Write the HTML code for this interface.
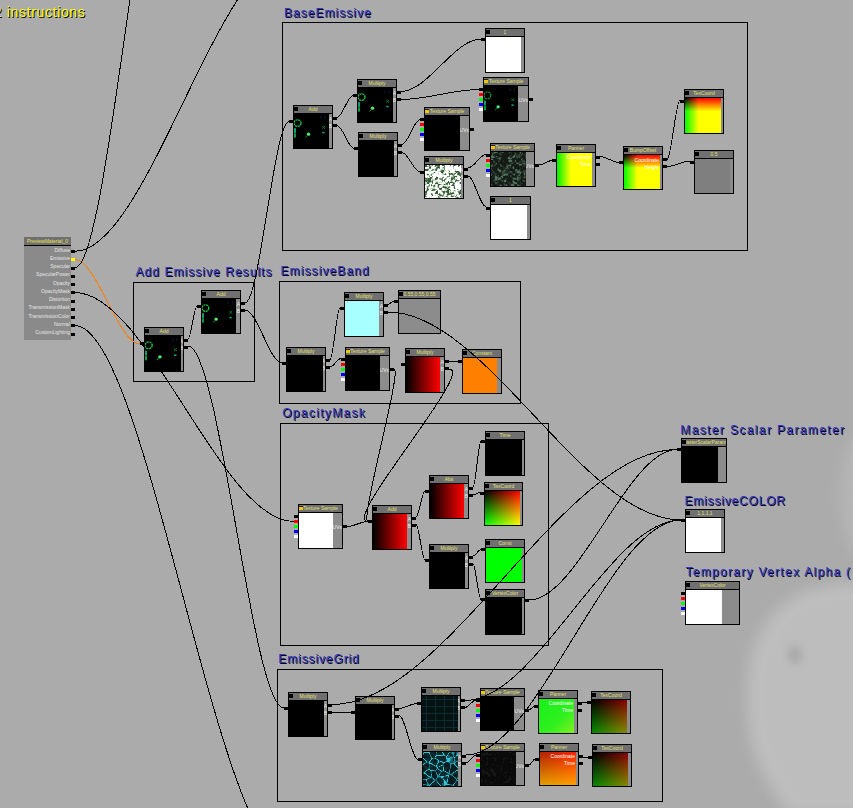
<!DOCTYPE html>
<html><head><meta charset="utf-8"><style>
html,body{margin:0;padding:0;}
#root{position:relative;width:853px;height:808px;overflow:hidden;background:#ababab;font-family:"Liberation Sans",sans-serif;}
.n{position:absolute;background:#000;}
.n .t{position:absolute;left:1px;top:1px;height:7px;background:#707070;overflow:hidden;}
.n .t .ic{position:absolute;left:0px;top:1px;width:4px;height:4px;background:#000;z-index:1;}
.n .t .ic.y{background:#f0c800;border-top:1px solid #222;height:3px;}
.n .t b{position:absolute;left:0;right:0;top:0;font-weight:normal;font-size:5px;line-height:7px;color:#e4e070;text-align:center;white-space:nowrap;}
.n .p{position:absolute;left:1px;top:9px;overflow:hidden;}
.n .s{position:absolute;top:9px;background:#8c8c8c;overflow:hidden;}
.n .s u{position:absolute;right:0;text-decoration:none;font-size:5px;line-height:6px;color:#f0f0f0;}
.n .p i.pl{position:absolute;right:1px;font-style:normal;font-size:5px;line-height:6px;color:#fff;white-space:nowrap;}
.c{position:absolute;width:4px;height:3px;background:#000;}
.cm{position:absolute;border:1px solid #000;}
.lb{position:absolute;font-size:12px;line-height:14px;color:#3535c8;text-shadow:1px 1px 0 #000;white-space:nowrap;}
.mn{position:absolute;background:#8a8a8a;}
.mt{position:absolute;left:0;top:0;width:47px;height:8px;background:#707070;border-bottom:1px solid #000;color:#e8e050;font-size:5px;line-height:8px;text-align:center;white-space:nowrap;overflow:hidden;}
.ml{position:absolute;right:1px;font-size:5px;line-height:6px;color:#e6e6e6;white-space:nowrap;}
.ins{position:absolute;left:-23px;top:3.5px;font-size:14px;line-height:16px;color:#ffff00;text-shadow:1px 1px 0 #000;letter-spacing:0.65px;word-spacing:0px;white-space:nowrap;}
svg.w{position:absolute;left:0;top:0;}
</style></head><body><div id="root">
<svg class="w" width="853" height="808" viewBox="0 0 853 808"><defs><filter id="bl" x="-50%" y="-50%" width="200%" height="200%"><feGaussianBlur stdDeviation="7"/></filter><filter id="bl2" x="-50%" y="-50%" width="200%" height="200%"><feGaussianBlur stdDeviation="4"/></filter></defs><path d="M870 582 C845 582 815 585 795 596 C772 610 756 632 750 660 C745 690 746 720 752 745 C758 770 772 792 790 815 L870 815 Z" fill="#c4c4c4" opacity="0.75" filter="url(#bl)"/><ellipse cx="795" cy="655" rx="7" ry="9" fill="#9a9a9a" opacity="0.6" filter="url(#bl2)"/><ellipse cx="872" cy="495" rx="32" ry="70" fill="#c0c0c0" opacity="0.5" filter="url(#bl)"/></svg>
<div class="cm" style="left:282px;top:22px;width:464px;height:227px"></div>
<div class="cm" style="left:133px;top:282px;width:120px;height:98px"></div>
<div class="cm" style="left:279px;top:281px;width:240px;height:121px"></div>
<div class="cm" style="left:280px;top:423px;width:267px;height:221px"></div>
<div class="cm" style="left:277px;top:669px;width:384px;height:131px"></div>
<div class="lb" style="left:284px;top:5.7px;letter-spacing:1.02px">BaseEmissive</div>
<div class="lb" style="left:135.5px;top:264.5px;letter-spacing:1.05px">Add Emissive Results</div>
<div class="lb" style="left:280.5px;top:264.0px;letter-spacing:1.1px">EmissiveBand</div>
<div class="lb" style="left:282.2px;top:405.9px;letter-spacing:1.33px">OpacityMask</div>
<div class="lb" style="left:680.3px;top:423.1px;letter-spacing:1.38px">Master Scalar Parameter</div>
<div class="lb" style="left:684.4px;top:494.0px;letter-spacing:0.83px">EmissiveCOLOR</div>
<div class="lb" style="left:685.4px;top:564.7px;letter-spacing:1.3px">Temporary Vertex Alpha (</div>
<div class="lb" style="left:278.3px;top:651.8px;letter-spacing:0.89px">EmissiveGrid</div>
<div class="n" style="left:293px;top:105px;width:40px;height:44px"><div class="t" style="width:38px"><i class="ic"></i><b>Add</b></div><div class="p" style="width:35px;height:34px"><svg width="35" height="34" viewBox="0 0 35 36" preserveAspectRatio="none" style="position:absolute;left:0;top:0"><rect width="35" height="36" fill="#000"/><g transform="translate(-1.2 0)"><circle cx="4.7" cy="9.6" r="3.5" fill="none" stroke="#20c848" stroke-width="1.3" stroke-dasharray="2.2 0.6"/><rect x="1.2" y="15" width="2" height="5" fill="#12a070"/><rect x="1.2" y="20.5" width="2" height="4.5" fill="#10a040"/><circle cx="15.7" cy="21.4" r="1.7" fill="#50f070"/><path d="M15 22.5 L12.6 24.8" stroke="#138a30" stroke-width="1"/><path d="M29.3 12.6 L32.3 15.6 M32.3 12.6 L29.3 15.6" stroke="#138a20" stroke-width="0.9"/><rect x="29.4" y="18.9" width="2.4" height="1.6" fill="#10a080"/><rect x="27.6" y="2.5" width="1.2" height="2.6" fill="#0b1b33"/><rect x="31.6" y="2.5" width="1.2" height="2.6" fill="#0b1b33"/></g></svg></div><div class="s" style="left:36px;width:3px;height:34px"><u style="top:1.5px">A</u><u style="top:8.5px">B</u></div></div>
<div class="c" style="left:289px;top:120px;background:#000"></div>
<div class="c" style="left:333px;top:117px"></div>
<div class="c" style="left:333px;top:124px"></div>
<div class="n" style="left:357px;top:79px;width:40px;height:44px"><div class="t" style="width:38px"><i class="ic"></i><b>Multiply</b></div><div class="p" style="width:35px;height:34px"><svg width="35" height="34" viewBox="0 0 35 36" preserveAspectRatio="none" style="position:absolute;left:0;top:0"><rect width="35" height="36" fill="#000"/><g transform="translate(-1.2 0)"><circle cx="4.7" cy="9.6" r="3.5" fill="none" stroke="#20c848" stroke-width="1.3" stroke-dasharray="2.2 0.6"/><rect x="1.2" y="15" width="2" height="5" fill="#12a070"/><rect x="1.2" y="20.5" width="2" height="4.5" fill="#10a040"/><circle cx="15.7" cy="21.4" r="1.7" fill="#50f070"/><path d="M15 22.5 L12.6 24.8" stroke="#138a30" stroke-width="1"/><path d="M29.3 12.6 L32.3 15.6 M32.3 12.6 L29.3 15.6" stroke="#138a20" stroke-width="0.9"/><rect x="29.4" y="18.9" width="2.4" height="1.6" fill="#10a080"/><rect x="27.6" y="2.5" width="1.2" height="2.6" fill="#0b1b33"/><rect x="31.6" y="2.5" width="1.2" height="2.6" fill="#0b1b33"/></g></svg></div><div class="s" style="left:36px;width:3px;height:34px"><u style="top:1.5px">A</u><u style="top:8.5px">B</u></div></div>
<div class="c" style="left:353px;top:94px;background:#000"></div>
<div class="c" style="left:397px;top:91px"></div>
<div class="c" style="left:397px;top:98px"></div>
<div class="n" style="left:358px;top:132px;width:40px;height:45px"><div class="t" style="width:38px"><i class="ic"></i><b>Multiply</b></div><div class="p" style="width:35px;height:35px;background:#000"></div><div class="s" style="left:36px;width:3px;height:35px"><u style="top:1.5px">A</u><u style="top:8.5px">B</u></div></div>
<div class="c" style="left:354px;top:147px;background:#000"></div>
<div class="c" style="left:398px;top:144px"></div>
<div class="c" style="left:398px;top:151px"></div>
<div class="n" style="left:485px;top:28px;width:40px;height:45px"><div class="t" style="width:38px"><i class="ic"></i><b>1</b></div><div class="p" style="width:35px;height:35px;background:#fff"></div><div class="s" style="left:36px;width:3px;height:35px"></div></div>
<div class="c" style="left:481px;top:38px;background:#000"></div>
<div class="n" style="left:483px;top:77px;width:46px;height:45px"><div class="t" style="width:44px"><i class="ic y"></i><b>Texture Sample</b></div><div class="p" style="width:34px;height:35px"><svg width="34" height="35" viewBox="0 0 35 36" preserveAspectRatio="none" style="position:absolute;left:0;top:0"><rect width="35" height="36" fill="#000"/><g transform="translate(-1.2 0)"><circle cx="4.7" cy="9.6" r="3.5" fill="none" stroke="#169030" stroke-width="1.3" stroke-dasharray="2.2 0.6"/><rect x="1.2" y="15" width="2" height="5" fill="#12a070"/><rect x="1.2" y="20.5" width="2" height="4.5" fill="#10a040"/><circle cx="15.7" cy="21.4" r="1.7" fill="#50f070"/><path d="M15 22.5 L12.6 24.8" stroke="#138a30" stroke-width="1"/><path d="M29.3 12.6 L32.3 15.6 M32.3 12.6 L29.3 15.6" stroke="#138a20" stroke-width="0.9"/><rect x="29.4" y="18.9" width="2.4" height="1.6" fill="#10a080"/><rect x="27.6" y="2.5" width="1.2" height="2.6" fill="#0b1b33"/><rect x="31.6" y="2.5" width="1.2" height="2.6" fill="#0b1b33"/></g></svg></div><div class="s" style="left:35px;width:10px;height:35px"><u style="top:10.5px">UVs</u></div></div>
<div class="c" style="left:479px;top:88px;background:#000"></div>
<div class="c" style="left:479px;top:93px;background:#f00"></div>
<div class="c" style="left:479px;top:98px;background:#0f0"></div>
<div class="c" style="left:479px;top:103px;background:#00f"></div>
<div class="c" style="left:479px;top:108px;background:#fff"></div>
<div class="c" style="left:529px;top:98px"></div>
<div class="n" style="left:424px;top:107px;width:46px;height:44px"><div class="t" style="width:44px"><i class="ic y"></i><b>Texture Sample</b></div><div class="p" style="width:35px;height:34px;background:#000"></div><div class="s" style="left:36px;width:9px;height:34px"><u style="top:10.5px">UVs</u></div></div>
<div class="c" style="left:420px;top:118px;background:#000"></div>
<div class="c" style="left:420px;top:123px;background:#f00"></div>
<div class="c" style="left:420px;top:128px;background:#0f0"></div>
<div class="c" style="left:420px;top:133px;background:#00f"></div>
<div class="c" style="left:420px;top:138px;background:#fff"></div>
<div class="c" style="left:470px;top:128px"></div>
<div class="n" style="left:424px;top:156px;width:40px;height:43px"><div class="t" style="width:38px"><i class="ic"></i><b>Multiply</b></div><div class="p" style="width:36px;height:33px;background:#000"><svg width="36" height="33" shape-rendering="crispEdges" style="position:absolute;left:0;top:0"><rect x="0" y="0" width="2" height="1" fill="#3a5a3a"/><rect x="2" y="0" width="1" height="1" fill="#ffffff"/><rect x="3" y="0" width="1" height="1" fill="#c0d8c0"/><rect x="4" y="0" width="1" height="1" fill="#3a5a3a"/><rect x="5" y="0" width="2" height="1" fill="#c0d8c0"/><rect x="7" y="0" width="1" height="1" fill="#6e906e"/><rect x="8" y="0" width="1" height="1" fill="#ffffff"/><rect x="9" y="0" width="1" height="1" fill="#c0d8c0"/><rect x="10" y="0" width="5" height="1" fill="#3a5a3a"/><rect x="15" y="0" width="2" height="1" fill="#ffffff"/><rect x="17" y="0" width="2" height="1" fill="#3a5a3a"/><rect x="19" y="0" width="1" height="1" fill="#6e906e"/><rect x="20" y="0" width="5" height="1" fill="#ffffff"/><rect x="25" y="0" width="1" height="1" fill="#6e906e"/><rect x="26" y="0" width="2" height="1" fill="#ffffff"/><rect x="28" y="0" width="1" height="1" fill="#6e906e"/><rect x="29" y="0" width="1" height="1" fill="#3a5a3a"/><rect x="30" y="0" width="1" height="1" fill="#6e906e"/><rect x="31" y="0" width="1" height="1" fill="#c0d8c0"/><rect x="32" y="0" width="1" height="1" fill="#ffffff"/><rect x="33" y="0" width="2" height="1" fill="#3a5a3a"/><rect x="35" y="0" width="1" height="1" fill="#ffffff"/><rect x="0" y="1" width="2" height="1" fill="#3a5a3a"/><rect x="2" y="1" width="1" height="1" fill="#6e906e"/><rect x="3" y="1" width="1" height="1" fill="#c0d8c0"/><rect x="4" y="1" width="2" height="1" fill="#6e906e"/><rect x="6" y="1" width="1" height="1" fill="#c0d8c0"/><rect x="7" y="1" width="2" height="1" fill="#ffffff"/><rect x="9" y="1" width="1" height="1" fill="#c0d8c0"/><rect x="10" y="1" width="1" height="1" fill="#6e906e"/><rect x="11" y="1" width="1" height="1" fill="#c0d8c0"/><rect x="12" y="1" width="1" height="1" fill="#6e906e"/><rect x="13" y="1" width="1" height="1" fill="#3a5a3a"/><rect x="14" y="1" width="1" height="1" fill="#6e906e"/><rect x="15" y="1" width="4" height="1" fill="#ffffff"/><rect x="19" y="1" width="1" height="1" fill="#6e906e"/><rect x="20" y="1" width="5" height="1" fill="#ffffff"/><rect x="25" y="1" width="1" height="1" fill="#c0d8c0"/><rect x="26" y="1" width="2" height="1" fill="#ffffff"/><rect x="28" y="1" width="1" height="1" fill="#6e906e"/><rect x="29" y="1" width="4" height="1" fill="#ffffff"/><rect x="33" y="1" width="1" height="1" fill="#6e906e"/><rect x="34" y="1" width="1" height="1" fill="#c0d8c0"/><rect x="35" y="1" width="1" height="1" fill="#ffffff"/><rect x="0" y="2" width="4" height="1" fill="#ffffff"/><rect x="4" y="2" width="2" height="1" fill="#3a5a3a"/><rect x="6" y="2" width="5" height="1" fill="#ffffff"/><rect x="11" y="2" width="1" height="1" fill="#6e906e"/><rect x="12" y="2" width="3" height="1" fill="#3a5a3a"/><rect x="15" y="2" width="2" height="1" fill="#ffffff"/><rect x="17" y="2" width="1" height="1" fill="#c0d8c0"/><rect x="18" y="2" width="2" height="1" fill="#6e906e"/><rect x="20" y="2" width="8" height="1" fill="#ffffff"/><rect x="28" y="2" width="1" height="1" fill="#c0d8c0"/><rect x="29" y="2" width="7" height="1" fill="#ffffff"/><rect x="0" y="3" width="2" height="1" fill="#ffffff"/><rect x="2" y="3" width="2" height="1" fill="#c0d8c0"/><rect x="4" y="3" width="2" height="1" fill="#6e906e"/><rect x="6" y="3" width="4" height="1" fill="#ffffff"/><rect x="10" y="3" width="1" height="1" fill="#c0d8c0"/><rect x="11" y="3" width="1" height="1" fill="#3a5a3a"/><rect x="12" y="3" width="1" height="1" fill="#6e906e"/><rect x="13" y="3" width="1" height="1" fill="#c0d8c0"/><rect x="14" y="3" width="1" height="1" fill="#6e906e"/><rect x="15" y="3" width="2" height="1" fill="#ffffff"/><rect x="17" y="3" width="2" height="1" fill="#c0d8c0"/><rect x="19" y="3" width="1" height="1" fill="#6e906e"/><rect x="20" y="3" width="8" height="1" fill="#ffffff"/><rect x="28" y="3" width="1" height="1" fill="#c0d8c0"/><rect x="29" y="3" width="7" height="1" fill="#ffffff"/><rect x="0" y="4" width="3" height="1" fill="#3a5a3a"/><rect x="3" y="4" width="1" height="1" fill="#6e906e"/><rect x="4" y="4" width="3" height="1" fill="#ffffff"/><rect x="7" y="4" width="2" height="1" fill="#6e906e"/><rect x="9" y="4" width="1" height="1" fill="#c0d8c0"/><rect x="10" y="4" width="1" height="1" fill="#6e906e"/><rect x="11" y="4" width="1" height="1" fill="#3a5a3a"/><rect x="12" y="4" width="1" height="1" fill="#c0d8c0"/><rect x="13" y="4" width="2" height="1" fill="#ffffff"/><rect x="15" y="4" width="4" height="1" fill="#c0d8c0"/><rect x="19" y="4" width="1" height="1" fill="#6e906e"/><rect x="20" y="4" width="10" height="1" fill="#ffffff"/><rect x="30" y="4" width="1" height="1" fill="#c0d8c0"/><rect x="31" y="4" width="5" height="1" fill="#ffffff"/><rect x="0" y="5" width="3" height="1" fill="#3a5a3a"/><rect x="3" y="5" width="1" height="1" fill="#c0d8c0"/><rect x="4" y="5" width="2" height="1" fill="#ffffff"/><rect x="6" y="5" width="2" height="1" fill="#6e906e"/><rect x="8" y="5" width="2" height="1" fill="#c0d8c0"/><rect x="10" y="5" width="1" height="1" fill="#6e906e"/><rect x="11" y="5" width="1" height="1" fill="#3a5a3a"/><rect x="12" y="5" width="3" height="1" fill="#ffffff"/><rect x="15" y="5" width="1" height="1" fill="#c0d8c0"/><rect x="16" y="5" width="1" height="1" fill="#6e906e"/><rect x="17" y="5" width="2" height="1" fill="#3a5a3a"/><rect x="19" y="5" width="2" height="1" fill="#c0d8c0"/><rect x="21" y="5" width="2" height="1" fill="#ffffff"/><rect x="23" y="5" width="2" height="1" fill="#c0d8c0"/><rect x="25" y="5" width="5" height="1" fill="#ffffff"/><rect x="30" y="5" width="1" height="1" fill="#c0d8c0"/><rect x="31" y="5" width="5" height="1" fill="#ffffff"/><rect x="0" y="6" width="4" height="1" fill="#ffffff"/><rect x="4" y="6" width="2" height="1" fill="#c0d8c0"/><rect x="6" y="6" width="7" height="1" fill="#ffffff"/><rect x="13" y="6" width="2" height="1" fill="#c0d8c0"/><rect x="15" y="6" width="1" height="1" fill="#6e906e"/><rect x="16" y="6" width="3" height="1" fill="#3a5a3a"/><rect x="19" y="6" width="1" height="1" fill="#c0d8c0"/><rect x="20" y="6" width="4" height="1" fill="#ffffff"/><rect x="24" y="6" width="1" height="1" fill="#6e906e"/><rect x="25" y="6" width="4" height="1" fill="#ffffff"/><rect x="29" y="6" width="1" height="1" fill="#c0d8c0"/><rect x="30" y="6" width="4" height="1" fill="#3a5a3a"/><rect x="34" y="6" width="1" height="1" fill="#c0d8c0"/><rect x="35" y="6" width="1" height="1" fill="#ffffff"/><rect x="0" y="7" width="8" height="1" fill="#ffffff"/><rect x="8" y="7" width="1" height="1" fill="#c0d8c0"/><rect x="9" y="7" width="1" height="1" fill="#3a5a3a"/><rect x="10" y="7" width="1" height="1" fill="#c0d8c0"/><rect x="11" y="7" width="5" height="1" fill="#ffffff"/><rect x="16" y="7" width="2" height="1" fill="#3a5a3a"/><rect x="18" y="7" width="1" height="1" fill="#c0d8c0"/><rect x="19" y="7" width="4" height="1" fill="#ffffff"/><rect x="23" y="7" width="2" height="1" fill="#c0d8c0"/><rect x="25" y="7" width="5" height="1" fill="#ffffff"/><rect x="30" y="7" width="1" height="1" fill="#c0d8c0"/><rect x="31" y="7" width="1" height="1" fill="#3a5a3a"/><rect x="32" y="7" width="1" height="1" fill="#6e906e"/><rect x="33" y="7" width="2" height="1" fill="#3a5a3a"/><rect x="35" y="7" width="1" height="1" fill="#c0d8c0"/><rect x="0" y="8" width="2" height="1" fill="#ffffff"/><rect x="2" y="8" width="1" height="1" fill="#c0d8c0"/><rect x="3" y="8" width="3" height="1" fill="#ffffff"/><rect x="6" y="8" width="3" height="1" fill="#c0d8c0"/><rect x="9" y="8" width="4" height="1" fill="#ffffff"/><rect x="13" y="8" width="1" height="1" fill="#c0d8c0"/><rect x="14" y="8" width="3" height="1" fill="#ffffff"/><rect x="17" y="8" width="1" height="1" fill="#6e906e"/><rect x="18" y="8" width="1" height="1" fill="#c0d8c0"/><rect x="19" y="8" width="1" height="1" fill="#ffffff"/><rect x="20" y="8" width="1" height="1" fill="#6e906e"/><rect x="21" y="8" width="2" height="1" fill="#ffffff"/><rect x="23" y="8" width="1" height="1" fill="#c0d8c0"/><rect x="24" y="8" width="1" height="1" fill="#3a5a3a"/><rect x="25" y="8" width="1" height="1" fill="#6e906e"/><rect x="26" y="8" width="1" height="1" fill="#3a5a3a"/><rect x="27" y="8" width="1" height="1" fill="#6e906e"/><rect x="28" y="8" width="1" height="1" fill="#c0d8c0"/><rect x="29" y="8" width="1" height="1" fill="#6e906e"/><rect x="30" y="8" width="1" height="1" fill="#3a5a3a"/><rect x="31" y="8" width="1" height="1" fill="#ffffff"/><rect x="32" y="8" width="1" height="1" fill="#6e906e"/><rect x="33" y="8" width="2" height="1" fill="#3a5a3a"/><rect x="35" y="8" width="1" height="1" fill="#6e906e"/><rect x="0" y="9" width="1" height="1" fill="#ffffff"/><rect x="1" y="9" width="1" height="1" fill="#c0d8c0"/><rect x="2" y="9" width="1" height="1" fill="#3a5a3a"/><rect x="3" y="9" width="1" height="1" fill="#6e906e"/><rect x="4" y="9" width="1" height="1" fill="#ffffff"/><rect x="5" y="9" width="1" height="1" fill="#c0d8c0"/><rect x="6" y="9" width="1" height="1" fill="#6e906e"/><rect x="7" y="9" width="1" height="1" fill="#c0d8c0"/><rect x="8" y="9" width="5" height="1" fill="#ffffff"/><rect x="13" y="9" width="1" height="1" fill="#c0d8c0"/><rect x="14" y="9" width="3" height="1" fill="#ffffff"/><rect x="17" y="9" width="2" height="1" fill="#c0d8c0"/><rect x="19" y="9" width="1" height="1" fill="#6e906e"/><rect x="20" y="9" width="1" height="1" fill="#3a5a3a"/><rect x="21" y="9" width="1" height="1" fill="#c0d8c0"/><rect x="22" y="9" width="2" height="1" fill="#ffffff"/><rect x="24" y="9" width="1" height="1" fill="#3a5a3a"/><rect x="25" y="9" width="2" height="1" fill="#6e906e"/><rect x="27" y="9" width="1" height="1" fill="#3a5a3a"/><rect x="28" y="9" width="2" height="1" fill="#6e906e"/><rect x="30" y="9" width="2" height="1" fill="#ffffff"/><rect x="32" y="9" width="1" height="1" fill="#6e906e"/><rect x="33" y="9" width="3" height="1" fill="#3a5a3a"/><rect x="0" y="10" width="2" height="1" fill="#ffffff"/><rect x="2" y="10" width="4" height="1" fill="#c0d8c0"/><rect x="6" y="10" width="1" height="1" fill="#6e906e"/><rect x="7" y="10" width="17" height="1" fill="#ffffff"/><rect x="24" y="10" width="1" height="1" fill="#6e906e"/><rect x="25" y="10" width="2" height="1" fill="#ffffff"/><rect x="27" y="10" width="1" height="1" fill="#c0d8c0"/><rect x="28" y="10" width="1" height="1" fill="#6e906e"/><rect x="29" y="10" width="1" height="1" fill="#c0d8c0"/><rect x="30" y="10" width="2" height="1" fill="#ffffff"/><rect x="32" y="10" width="2" height="1" fill="#c0d8c0"/><rect x="34" y="10" width="1" height="1" fill="#6e906e"/><rect x="35" y="10" width="1" height="1" fill="#3a5a3a"/><rect x="0" y="11" width="4" height="1" fill="#ffffff"/><rect x="4" y="11" width="1" height="1" fill="#6e906e"/><rect x="5" y="11" width="2" height="1" fill="#ffffff"/><rect x="7" y="11" width="1" height="1" fill="#6e906e"/><rect x="8" y="11" width="3" height="1" fill="#ffffff"/><rect x="11" y="11" width="1" height="1" fill="#c0d8c0"/><rect x="12" y="11" width="6" height="1" fill="#ffffff"/><rect x="18" y="11" width="1" height="1" fill="#c0d8c0"/><rect x="19" y="11" width="3" height="1" fill="#ffffff"/><rect x="22" y="11" width="3" height="1" fill="#6e906e"/><rect x="25" y="11" width="1" height="1" fill="#ffffff"/><rect x="26" y="11" width="2" height="1" fill="#c0d8c0"/><rect x="28" y="11" width="1" height="1" fill="#6e906e"/><rect x="29" y="11" width="3" height="1" fill="#3a5a3a"/><rect x="32" y="11" width="3" height="1" fill="#ffffff"/><rect x="35" y="11" width="1" height="1" fill="#6e906e"/><rect x="0" y="12" width="1" height="1" fill="#c0d8c0"/><rect x="1" y="12" width="1" height="1" fill="#ffffff"/><rect x="2" y="12" width="1" height="1" fill="#c0d8c0"/><rect x="3" y="12" width="1" height="1" fill="#ffffff"/><rect x="4" y="12" width="1" height="1" fill="#c0d8c0"/><rect x="5" y="12" width="2" height="1" fill="#3a5a3a"/><rect x="7" y="12" width="1" height="1" fill="#c0d8c0"/><rect x="8" y="12" width="3" height="1" fill="#ffffff"/><rect x="11" y="12" width="2" height="1" fill="#3a5a3a"/><rect x="13" y="12" width="4" height="1" fill="#ffffff"/><rect x="17" y="12" width="2" height="1" fill="#6e906e"/><rect x="19" y="12" width="2" height="1" fill="#ffffff"/><rect x="21" y="12" width="2" height="1" fill="#c0d8c0"/><rect x="23" y="12" width="3" height="1" fill="#ffffff"/><rect x="26" y="12" width="3" height="1" fill="#6e906e"/><rect x="29" y="12" width="1" height="1" fill="#3a5a3a"/><rect x="30" y="12" width="1" height="1" fill="#ffffff"/><rect x="31" y="12" width="1" height="1" fill="#c0d8c0"/><rect x="32" y="12" width="4" height="1" fill="#ffffff"/><rect x="0" y="13" width="2" height="1" fill="#3a5a3a"/><rect x="2" y="13" width="1" height="1" fill="#6e906e"/><rect x="3" y="13" width="3" height="1" fill="#3a5a3a"/><rect x="6" y="13" width="1" height="1" fill="#6e906e"/><rect x="7" y="13" width="1" height="1" fill="#c0d8c0"/><rect x="8" y="13" width="2" height="1" fill="#ffffff"/><rect x="10" y="13" width="3" height="1" fill="#3a5a3a"/><rect x="13" y="13" width="1" height="1" fill="#ffffff"/><rect x="14" y="13" width="4" height="1" fill="#6e906e"/><rect x="18" y="13" width="2" height="1" fill="#ffffff"/><rect x="20" y="13" width="1" height="1" fill="#6e906e"/><rect x="21" y="13" width="1" height="1" fill="#c0d8c0"/><rect x="22" y="13" width="2" height="1" fill="#ffffff"/><rect x="24" y="13" width="1" height="1" fill="#c0d8c0"/><rect x="25" y="13" width="1" height="1" fill="#ffffff"/><rect x="26" y="13" width="3" height="1" fill="#3a5a3a"/><rect x="29" y="13" width="1" height="1" fill="#6e906e"/><rect x="30" y="13" width="1" height="1" fill="#c0d8c0"/><rect x="31" y="13" width="4" height="1" fill="#ffffff"/><rect x="35" y="13" width="1" height="1" fill="#3a5a3a"/><rect x="0" y="14" width="3" height="1" fill="#6e906e"/><rect x="3" y="14" width="3" height="1" fill="#3a5a3a"/><rect x="6" y="14" width="1" height="1" fill="#ffffff"/><rect x="7" y="14" width="3" height="1" fill="#c0d8c0"/><rect x="10" y="14" width="1" height="1" fill="#3a5a3a"/><rect x="11" y="14" width="1" height="1" fill="#6e906e"/><rect x="12" y="14" width="1" height="1" fill="#c0d8c0"/><rect x="13" y="14" width="1" height="1" fill="#ffffff"/><rect x="14" y="14" width="1" height="1" fill="#c0d8c0"/><rect x="15" y="14" width="3" height="1" fill="#6e906e"/><rect x="18" y="14" width="1" height="1" fill="#ffffff"/><rect x="19" y="14" width="2" height="1" fill="#6e906e"/><rect x="21" y="14" width="1" height="1" fill="#c0d8c0"/><rect x="22" y="14" width="4" height="1" fill="#ffffff"/><rect x="26" y="14" width="2" height="1" fill="#3a5a3a"/><rect x="28" y="14" width="1" height="1" fill="#c0d8c0"/><rect x="29" y="14" width="1" height="1" fill="#6e906e"/><rect x="30" y="14" width="1" height="1" fill="#c0d8c0"/><rect x="31" y="14" width="1" height="1" fill="#6e906e"/><rect x="32" y="14" width="3" height="1" fill="#ffffff"/><rect x="35" y="14" width="1" height="1" fill="#6e906e"/><rect x="0" y="15" width="6" height="1" fill="#3a5a3a"/><rect x="6" y="15" width="1" height="1" fill="#c0d8c0"/><rect x="7" y="15" width="1" height="1" fill="#6e906e"/><rect x="8" y="15" width="3" height="1" fill="#c0d8c0"/><rect x="11" y="15" width="5" height="1" fill="#ffffff"/><rect x="16" y="15" width="1" height="1" fill="#c0d8c0"/><rect x="17" y="15" width="1" height="1" fill="#3a5a3a"/><rect x="18" y="15" width="1" height="1" fill="#6e906e"/><rect x="19" y="15" width="1" height="1" fill="#3a5a3a"/><rect x="20" y="15" width="5" height="1" fill="#ffffff"/><rect x="25" y="15" width="1" height="1" fill="#c0d8c0"/><rect x="26" y="15" width="1" height="1" fill="#6e906e"/><rect x="27" y="15" width="1" height="1" fill="#c0d8c0"/><rect x="28" y="15" width="2" height="1" fill="#ffffff"/><rect x="30" y="15" width="1" height="1" fill="#6e906e"/><rect x="31" y="15" width="2" height="1" fill="#3a5a3a"/><rect x="33" y="15" width="1" height="1" fill="#6e906e"/><rect x="34" y="15" width="1" height="1" fill="#c0d8c0"/><rect x="35" y="15" width="1" height="1" fill="#ffffff"/><rect x="0" y="16" width="1" height="1" fill="#6e906e"/><rect x="1" y="16" width="1" height="1" fill="#3a5a3a"/><rect x="2" y="16" width="1" height="1" fill="#6e906e"/><rect x="3" y="16" width="3" height="1" fill="#3a5a3a"/><rect x="6" y="16" width="1" height="1" fill="#6e906e"/><rect x="7" y="16" width="1" height="1" fill="#3a5a3a"/><rect x="8" y="16" width="3" height="1" fill="#ffffff"/><rect x="11" y="16" width="2" height="1" fill="#c0d8c0"/><rect x="13" y="16" width="4" height="1" fill="#ffffff"/><rect x="17" y="16" width="1" height="1" fill="#6e906e"/><rect x="18" y="16" width="1" height="1" fill="#ffffff"/><rect x="19" y="16" width="1" height="1" fill="#6e906e"/><rect x="20" y="16" width="3" height="1" fill="#ffffff"/><rect x="23" y="16" width="1" height="1" fill="#3a5a3a"/><rect x="24" y="16" width="1" height="1" fill="#ffffff"/><rect x="25" y="16" width="1" height="1" fill="#c0d8c0"/><rect x="26" y="16" width="1" height="1" fill="#6e906e"/><rect x="27" y="16" width="1" height="1" fill="#c0d8c0"/><rect x="28" y="16" width="2" height="1" fill="#ffffff"/><rect x="30" y="16" width="1" height="1" fill="#3a5a3a"/><rect x="31" y="16" width="3" height="1" fill="#c0d8c0"/><rect x="34" y="16" width="2" height="1" fill="#ffffff"/><rect x="0" y="17" width="2" height="1" fill="#c0d8c0"/><rect x="2" y="17" width="2" height="1" fill="#3a5a3a"/><rect x="4" y="17" width="1" height="1" fill="#6e906e"/><rect x="5" y="17" width="2" height="1" fill="#c0d8c0"/><rect x="7" y="17" width="1" height="1" fill="#3a5a3a"/><rect x="8" y="17" width="2" height="1" fill="#ffffff"/><rect x="10" y="17" width="1" height="1" fill="#c0d8c0"/><rect x="11" y="17" width="2" height="1" fill="#6e906e"/><rect x="13" y="17" width="4" height="1" fill="#c0d8c0"/><rect x="17" y="17" width="3" height="1" fill="#ffffff"/><rect x="20" y="17" width="2" height="1" fill="#c0d8c0"/><rect x="22" y="17" width="1" height="1" fill="#6e906e"/><rect x="23" y="17" width="1" height="1" fill="#3a5a3a"/><rect x="24" y="17" width="1" height="1" fill="#6e906e"/><rect x="25" y="17" width="3" height="1" fill="#3a5a3a"/><rect x="28" y="17" width="1" height="1" fill="#6e906e"/><rect x="29" y="17" width="2" height="1" fill="#c0d8c0"/><rect x="31" y="17" width="3" height="1" fill="#ffffff"/><rect x="34" y="17" width="1" height="1" fill="#c0d8c0"/><rect x="35" y="17" width="1" height="1" fill="#3a5a3a"/><rect x="0" y="18" width="2" height="1" fill="#c0d8c0"/><rect x="2" y="18" width="2" height="1" fill="#3a5a3a"/><rect x="4" y="18" width="1" height="1" fill="#c0d8c0"/><rect x="5" y="18" width="2" height="1" fill="#ffffff"/><rect x="7" y="18" width="1" height="1" fill="#6e906e"/><rect x="8" y="18" width="2" height="1" fill="#ffffff"/><rect x="10" y="18" width="3" height="1" fill="#3a5a3a"/><rect x="13" y="18" width="1" height="1" fill="#c0d8c0"/><rect x="14" y="18" width="6" height="1" fill="#ffffff"/><rect x="20" y="18" width="1" height="1" fill="#c0d8c0"/><rect x="21" y="18" width="2" height="1" fill="#3a5a3a"/><rect x="23" y="18" width="1" height="1" fill="#c0d8c0"/><rect x="24" y="18" width="1" height="1" fill="#3a5a3a"/><rect x="25" y="18" width="2" height="1" fill="#ffffff"/><rect x="27" y="18" width="1" height="1" fill="#c0d8c0"/><rect x="28" y="18" width="1" height="1" fill="#3a5a3a"/><rect x="29" y="18" width="1" height="1" fill="#6e906e"/><rect x="30" y="18" width="4" height="1" fill="#ffffff"/><rect x="34" y="18" width="1" height="1" fill="#c0d8c0"/><rect x="35" y="18" width="1" height="1" fill="#3a5a3a"/><rect x="0" y="19" width="1" height="1" fill="#6e906e"/><rect x="1" y="19" width="3" height="1" fill="#ffffff"/><rect x="4" y="19" width="1" height="1" fill="#6e906e"/><rect x="5" y="19" width="1" height="1" fill="#ffffff"/><rect x="6" y="19" width="1" height="1" fill="#6e906e"/><rect x="7" y="19" width="2" height="1" fill="#ffffff"/><rect x="9" y="19" width="2" height="1" fill="#c0d8c0"/><rect x="11" y="19" width="1" height="1" fill="#ffffff"/><rect x="12" y="19" width="1" height="1" fill="#c0d8c0"/><rect x="13" y="19" width="2" height="1" fill="#3a5a3a"/><rect x="15" y="19" width="1" height="1" fill="#6e906e"/><rect x="16" y="19" width="3" height="1" fill="#c0d8c0"/><rect x="19" y="19" width="1" height="1" fill="#3a5a3a"/><rect x="20" y="19" width="3" height="1" fill="#6e906e"/><rect x="23" y="19" width="1" height="1" fill="#ffffff"/><rect x="24" y="19" width="1" height="1" fill="#6e906e"/><rect x="25" y="19" width="2" height="1" fill="#ffffff"/><rect x="27" y="19" width="1" height="1" fill="#6e906e"/><rect x="28" y="19" width="1" height="1" fill="#3a5a3a"/><rect x="29" y="19" width="1" height="1" fill="#c0d8c0"/><rect x="30" y="19" width="6" height="1" fill="#ffffff"/><rect x="0" y="20" width="3" height="1" fill="#ffffff"/><rect x="3" y="20" width="1" height="1" fill="#c0d8c0"/><rect x="4" y="20" width="1" height="1" fill="#6e906e"/><rect x="5" y="20" width="1" height="1" fill="#ffffff"/><rect x="6" y="20" width="1" height="1" fill="#3a5a3a"/><rect x="7" y="20" width="1" height="1" fill="#c0d8c0"/><rect x="8" y="20" width="1" height="1" fill="#6e906e"/><rect x="9" y="20" width="1" height="1" fill="#3a5a3a"/><rect x="10" y="20" width="1" height="1" fill="#c0d8c0"/><rect x="11" y="20" width="1" height="1" fill="#ffffff"/><rect x="12" y="20" width="1" height="1" fill="#c0d8c0"/><rect x="13" y="20" width="1" height="1" fill="#3a5a3a"/><rect x="14" y="20" width="1" height="1" fill="#c0d8c0"/><rect x="15" y="20" width="3" height="1" fill="#ffffff"/><rect x="18" y="20" width="1" height="1" fill="#c0d8c0"/><rect x="19" y="20" width="3" height="1" fill="#ffffff"/><rect x="22" y="20" width="1" height="1" fill="#c0d8c0"/><rect x="23" y="20" width="3" height="1" fill="#ffffff"/><rect x="26" y="20" width="1" height="1" fill="#6e906e"/><rect x="27" y="20" width="2" height="1" fill="#3a5a3a"/><rect x="29" y="20" width="1" height="1" fill="#6e906e"/><rect x="30" y="20" width="6" height="1" fill="#ffffff"/><rect x="0" y="21" width="1" height="1" fill="#ffffff"/><rect x="1" y="21" width="1" height="1" fill="#c0d8c0"/><rect x="2" y="21" width="2" height="1" fill="#6e906e"/><rect x="4" y="21" width="1" height="1" fill="#c0d8c0"/><rect x="5" y="21" width="1" height="1" fill="#ffffff"/><rect x="6" y="21" width="1" height="1" fill="#c0d8c0"/><rect x="7" y="21" width="1" height="1" fill="#ffffff"/><rect x="8" y="21" width="2" height="1" fill="#6e906e"/><rect x="10" y="21" width="1" height="1" fill="#c0d8c0"/><rect x="11" y="21" width="1" height="1" fill="#ffffff"/><rect x="12" y="21" width="1" height="1" fill="#c0d8c0"/><rect x="13" y="21" width="1" height="1" fill="#3a5a3a"/><rect x="14" y="21" width="3" height="1" fill="#ffffff"/><rect x="17" y="21" width="1" height="1" fill="#c0d8c0"/><rect x="18" y="21" width="1" height="1" fill="#3a5a3a"/><rect x="19" y="21" width="2" height="1" fill="#6e906e"/><rect x="21" y="21" width="3" height="1" fill="#c0d8c0"/><rect x="24" y="21" width="1" height="1" fill="#6e906e"/><rect x="25" y="21" width="3" height="1" fill="#ffffff"/><rect x="28" y="21" width="1" height="1" fill="#c0d8c0"/><rect x="29" y="21" width="1" height="1" fill="#6e906e"/><rect x="30" y="21" width="6" height="1" fill="#ffffff"/><rect x="0" y="22" width="2" height="1" fill="#ffffff"/><rect x="2" y="22" width="1" height="1" fill="#6e906e"/><rect x="3" y="22" width="1" height="1" fill="#c0d8c0"/><rect x="4" y="22" width="4" height="1" fill="#ffffff"/><rect x="8" y="22" width="2" height="1" fill="#c0d8c0"/><rect x="10" y="22" width="2" height="1" fill="#ffffff"/><rect x="12" y="22" width="1" height="1" fill="#c0d8c0"/><rect x="13" y="22" width="1" height="1" fill="#6e906e"/><rect x="14" y="22" width="1" height="1" fill="#c0d8c0"/><rect x="15" y="22" width="1" height="1" fill="#ffffff"/><rect x="16" y="22" width="1" height="1" fill="#c0d8c0"/><rect x="17" y="22" width="1" height="1" fill="#6e906e"/><rect x="18" y="22" width="4" height="1" fill="#3a5a3a"/><rect x="22" y="22" width="1" height="1" fill="#c0d8c0"/><rect x="23" y="22" width="1" height="1" fill="#3a5a3a"/><rect x="24" y="22" width="1" height="1" fill="#6e906e"/><rect x="25" y="22" width="1" height="1" fill="#c0d8c0"/><rect x="26" y="22" width="2" height="1" fill="#ffffff"/><rect x="28" y="22" width="1" height="1" fill="#c0d8c0"/><rect x="29" y="22" width="1" height="1" fill="#3a5a3a"/><rect x="30" y="22" width="6" height="1" fill="#ffffff"/><rect x="0" y="23" width="2" height="1" fill="#c0d8c0"/><rect x="2" y="23" width="1" height="1" fill="#3a5a3a"/><rect x="3" y="23" width="1" height="1" fill="#c0d8c0"/><rect x="4" y="23" width="1" height="1" fill="#ffffff"/><rect x="5" y="23" width="5" height="1" fill="#c0d8c0"/><rect x="10" y="23" width="4" height="1" fill="#ffffff"/><rect x="14" y="23" width="3" height="1" fill="#3a5a3a"/><rect x="17" y="23" width="2" height="1" fill="#ffffff"/><rect x="19" y="23" width="1" height="1" fill="#c0d8c0"/><rect x="20" y="23" width="2" height="1" fill="#6e906e"/><rect x="22" y="23" width="1" height="1" fill="#3a5a3a"/><rect x="23" y="23" width="1" height="1" fill="#6e906e"/><rect x="24" y="23" width="5" height="1" fill="#ffffff"/><rect x="29" y="23" width="1" height="1" fill="#3a5a3a"/><rect x="30" y="23" width="1" height="1" fill="#c0d8c0"/><rect x="31" y="23" width="5" height="1" fill="#ffffff"/><rect x="0" y="24" width="1" height="1" fill="#ffffff"/><rect x="1" y="24" width="1" height="1" fill="#c0d8c0"/><rect x="2" y="24" width="2" height="1" fill="#3a5a3a"/><rect x="4" y="24" width="1" height="1" fill="#ffffff"/><rect x="5" y="24" width="1" height="1" fill="#c0d8c0"/><rect x="6" y="24" width="1" height="1" fill="#ffffff"/><rect x="7" y="24" width="1" height="1" fill="#6e906e"/><rect x="8" y="24" width="2" height="1" fill="#3a5a3a"/><rect x="10" y="24" width="1" height="1" fill="#6e906e"/><rect x="11" y="24" width="1" height="1" fill="#c0d8c0"/><rect x="12" y="24" width="2" height="1" fill="#ffffff"/><rect x="14" y="24" width="1" height="1" fill="#6e906e"/><rect x="15" y="24" width="1" height="1" fill="#3a5a3a"/><rect x="16" y="24" width="1" height="1" fill="#6e906e"/><rect x="17" y="24" width="3" height="1" fill="#ffffff"/><rect x="20" y="24" width="2" height="1" fill="#c0d8c0"/><rect x="22" y="24" width="1" height="1" fill="#6e906e"/><rect x="23" y="24" width="2" height="1" fill="#3a5a3a"/><rect x="25" y="24" width="1" height="1" fill="#c0d8c0"/><rect x="26" y="24" width="6" height="1" fill="#ffffff"/><rect x="32" y="24" width="1" height="1" fill="#6e906e"/><rect x="33" y="24" width="1" height="1" fill="#c0d8c0"/><rect x="34" y="24" width="1" height="1" fill="#ffffff"/><rect x="35" y="24" width="1" height="1" fill="#c0d8c0"/><rect x="0" y="25" width="1" height="1" fill="#ffffff"/><rect x="1" y="25" width="1" height="1" fill="#6e906e"/><rect x="2" y="25" width="1" height="1" fill="#3a5a3a"/><rect x="3" y="25" width="1" height="1" fill="#c0d8c0"/><rect x="4" y="25" width="2" height="1" fill="#ffffff"/><rect x="6" y="25" width="1" height="1" fill="#6e906e"/><rect x="7" y="25" width="1" height="1" fill="#3a5a3a"/><rect x="8" y="25" width="2" height="1" fill="#6e906e"/><rect x="10" y="25" width="1" height="1" fill="#c0d8c0"/><rect x="11" y="25" width="1" height="1" fill="#ffffff"/><rect x="12" y="25" width="1" height="1" fill="#6e906e"/><rect x="13" y="25" width="3" height="1" fill="#ffffff"/><rect x="16" y="25" width="2" height="1" fill="#c0d8c0"/><rect x="18" y="25" width="1" height="1" fill="#ffffff"/><rect x="19" y="25" width="1" height="1" fill="#c0d8c0"/><rect x="20" y="25" width="1" height="1" fill="#ffffff"/><rect x="21" y="25" width="1" height="1" fill="#c0d8c0"/><rect x="22" y="25" width="2" height="1" fill="#3a5a3a"/><rect x="24" y="25" width="1" height="1" fill="#ffffff"/><rect x="25" y="25" width="1" height="1" fill="#6e906e"/><rect x="26" y="25" width="2" height="1" fill="#ffffff"/><rect x="28" y="25" width="1" height="1" fill="#c0d8c0"/><rect x="29" y="25" width="1" height="1" fill="#6e906e"/><rect x="30" y="25" width="1" height="1" fill="#c0d8c0"/><rect x="31" y="25" width="2" height="1" fill="#ffffff"/><rect x="33" y="25" width="2" height="1" fill="#c0d8c0"/><rect x="35" y="25" width="1" height="1" fill="#3a5a3a"/><rect x="0" y="26" width="2" height="1" fill="#3a5a3a"/><rect x="2" y="26" width="1" height="1" fill="#c0d8c0"/><rect x="3" y="26" width="8" height="1" fill="#ffffff"/><rect x="11" y="26" width="2" height="1" fill="#3a5a3a"/><rect x="13" y="26" width="3" height="1" fill="#ffffff"/><rect x="16" y="26" width="1" height="1" fill="#c0d8c0"/><rect x="17" y="26" width="1" height="1" fill="#6e906e"/><rect x="18" y="26" width="2" height="1" fill="#3a5a3a"/><rect x="20" y="26" width="1" height="1" fill="#6e906e"/><rect x="21" y="26" width="3" height="1" fill="#3a5a3a"/><rect x="24" y="26" width="2" height="1" fill="#c0d8c0"/><rect x="26" y="26" width="2" height="1" fill="#ffffff"/><rect x="28" y="26" width="1" height="1" fill="#c0d8c0"/><rect x="29" y="26" width="1" height="1" fill="#ffffff"/><rect x="30" y="26" width="1" height="1" fill="#c0d8c0"/><rect x="31" y="26" width="1" height="1" fill="#ffffff"/><rect x="32" y="26" width="1" height="1" fill="#c0d8c0"/><rect x="33" y="26" width="2" height="1" fill="#6e906e"/><rect x="35" y="26" width="1" height="1" fill="#3a5a3a"/><rect x="0" y="27" width="2" height="1" fill="#3a5a3a"/><rect x="2" y="27" width="8" height="1" fill="#ffffff"/><rect x="10" y="27" width="1" height="1" fill="#6e906e"/><rect x="11" y="27" width="2" height="1" fill="#3a5a3a"/><rect x="13" y="27" width="4" height="1" fill="#ffffff"/><rect x="17" y="27" width="1" height="1" fill="#c0d8c0"/><rect x="18" y="27" width="2" height="1" fill="#3a5a3a"/><rect x="20" y="27" width="1" height="1" fill="#c0d8c0"/><rect x="21" y="27" width="1" height="1" fill="#6e906e"/><rect x="22" y="27" width="2" height="1" fill="#3a5a3a"/><rect x="24" y="27" width="1" height="1" fill="#c0d8c0"/><rect x="25" y="27" width="1" height="1" fill="#6e906e"/><rect x="26" y="27" width="1" height="1" fill="#c0d8c0"/><rect x="27" y="27" width="2" height="1" fill="#6e906e"/><rect x="29" y="27" width="4" height="1" fill="#ffffff"/><rect x="33" y="27" width="1" height="1" fill="#6e906e"/><rect x="34" y="27" width="2" height="1" fill="#3a5a3a"/><rect x="0" y="28" width="2" height="1" fill="#6e906e"/><rect x="2" y="28" width="4" height="1" fill="#ffffff"/><rect x="6" y="28" width="1" height="1" fill="#6e906e"/><rect x="7" y="28" width="1" height="1" fill="#c0d8c0"/><rect x="8" y="28" width="2" height="1" fill="#ffffff"/><rect x="10" y="28" width="3" height="1" fill="#3a5a3a"/><rect x="13" y="28" width="1" height="1" fill="#ffffff"/><rect x="14" y="28" width="1" height="1" fill="#6e906e"/><rect x="15" y="28" width="1" height="1" fill="#c0d8c0"/><rect x="16" y="28" width="2" height="1" fill="#ffffff"/><rect x="18" y="28" width="2" height="1" fill="#6e906e"/><rect x="20" y="28" width="2" height="1" fill="#ffffff"/><rect x="22" y="28" width="1" height="1" fill="#6e906e"/><rect x="23" y="28" width="1" height="1" fill="#3a5a3a"/><rect x="24" y="28" width="1" height="1" fill="#6e906e"/><rect x="25" y="28" width="4" height="1" fill="#3a5a3a"/><rect x="29" y="28" width="1" height="1" fill="#c0d8c0"/><rect x="30" y="28" width="3" height="1" fill="#ffffff"/><rect x="33" y="28" width="1" height="1" fill="#c0d8c0"/><rect x="34" y="28" width="2" height="1" fill="#3a5a3a"/><rect x="0" y="29" width="1" height="1" fill="#3a5a3a"/><rect x="1" y="29" width="1" height="1" fill="#6e906e"/><rect x="2" y="29" width="4" height="1" fill="#ffffff"/><rect x="6" y="29" width="1" height="1" fill="#3a5a3a"/><rect x="7" y="29" width="1" height="1" fill="#6e906e"/><rect x="8" y="29" width="4" height="1" fill="#ffffff"/><rect x="12" y="29" width="1" height="1" fill="#c0d8c0"/><rect x="13" y="29" width="1" height="1" fill="#6e906e"/><rect x="14" y="29" width="1" height="1" fill="#3a5a3a"/><rect x="15" y="29" width="1" height="1" fill="#6e906e"/><rect x="16" y="29" width="1" height="1" fill="#c0d8c0"/><rect x="17" y="29" width="1" height="1" fill="#ffffff"/><rect x="18" y="29" width="1" height="1" fill="#6e906e"/><rect x="19" y="29" width="1" height="1" fill="#c0d8c0"/><rect x="20" y="29" width="1" height="1" fill="#ffffff"/><rect x="21" y="29" width="1" height="1" fill="#c0d8c0"/><rect x="22" y="29" width="3" height="1" fill="#3a5a3a"/><rect x="25" y="29" width="2" height="1" fill="#6e906e"/><rect x="27" y="29" width="1" height="1" fill="#c0d8c0"/><rect x="28" y="29" width="1" height="1" fill="#ffffff"/><rect x="29" y="29" width="1" height="1" fill="#c0d8c0"/><rect x="30" y="29" width="1" height="1" fill="#ffffff"/><rect x="31" y="29" width="3" height="1" fill="#c0d8c0"/><rect x="34" y="29" width="1" height="1" fill="#6e906e"/><rect x="35" y="29" width="1" height="1" fill="#c0d8c0"/><rect x="0" y="30" width="1" height="1" fill="#6e906e"/><rect x="1" y="30" width="6" height="1" fill="#ffffff"/><rect x="7" y="30" width="1" height="1" fill="#3a5a3a"/><rect x="8" y="30" width="2" height="1" fill="#ffffff"/><rect x="10" y="30" width="1" height="1" fill="#c0d8c0"/><rect x="11" y="30" width="1" height="1" fill="#ffffff"/><rect x="12" y="30" width="1" height="1" fill="#c0d8c0"/><rect x="13" y="30" width="1" height="1" fill="#ffffff"/><rect x="14" y="30" width="1" height="1" fill="#6e906e"/><rect x="15" y="30" width="2" height="1" fill="#3a5a3a"/><rect x="17" y="30" width="2" height="1" fill="#6e906e"/><rect x="19" y="30" width="2" height="1" fill="#ffffff"/><rect x="21" y="30" width="1" height="1" fill="#c0d8c0"/><rect x="22" y="30" width="1" height="1" fill="#6e906e"/><rect x="23" y="30" width="1" height="1" fill="#c0d8c0"/><rect x="24" y="30" width="2" height="1" fill="#ffffff"/><rect x="26" y="30" width="1" height="1" fill="#6e906e"/><rect x="27" y="30" width="3" height="1" fill="#c0d8c0"/><rect x="30" y="30" width="1" height="1" fill="#ffffff"/><rect x="31" y="30" width="1" height="1" fill="#6e906e"/><rect x="32" y="30" width="3" height="1" fill="#ffffff"/><rect x="35" y="30" width="1" height="1" fill="#c0d8c0"/><rect x="0" y="31" width="1" height="1" fill="#3a5a3a"/><rect x="1" y="31" width="1" height="1" fill="#6e906e"/><rect x="2" y="31" width="4" height="1" fill="#ffffff"/><rect x="6" y="31" width="1" height="1" fill="#c0d8c0"/><rect x="7" y="31" width="6" height="1" fill="#ffffff"/><rect x="13" y="31" width="1" height="1" fill="#3a5a3a"/><rect x="14" y="31" width="3" height="1" fill="#c0d8c0"/><rect x="17" y="31" width="1" height="1" fill="#6e906e"/><rect x="18" y="31" width="3" height="1" fill="#c0d8c0"/><rect x="21" y="31" width="2" height="1" fill="#6e906e"/><rect x="23" y="31" width="2" height="1" fill="#ffffff"/><rect x="25" y="31" width="1" height="1" fill="#c0d8c0"/><rect x="26" y="31" width="2" height="1" fill="#3a5a3a"/><rect x="28" y="31" width="1" height="1" fill="#6e906e"/><rect x="29" y="31" width="1" height="1" fill="#c0d8c0"/><rect x="30" y="31" width="1" height="1" fill="#6e906e"/><rect x="31" y="31" width="2" height="1" fill="#c0d8c0"/><rect x="33" y="31" width="2" height="1" fill="#ffffff"/><rect x="35" y="31" width="1" height="1" fill="#3a5a3a"/><rect x="0" y="32" width="4" height="1" fill="#ffffff"/><rect x="4" y="32" width="1" height="1" fill="#c0d8c0"/><rect x="5" y="32" width="6" height="1" fill="#ffffff"/><rect x="11" y="32" width="1" height="1" fill="#c0d8c0"/><rect x="12" y="32" width="1" height="1" fill="#ffffff"/><rect x="13" y="32" width="2" height="1" fill="#6e906e"/><rect x="15" y="32" width="1" height="1" fill="#c0d8c0"/><rect x="16" y="32" width="3" height="1" fill="#ffffff"/><rect x="19" y="32" width="1" height="1" fill="#c0d8c0"/><rect x="20" y="32" width="2" height="1" fill="#ffffff"/><rect x="22" y="32" width="2" height="1" fill="#c0d8c0"/><rect x="24" y="32" width="6" height="1" fill="#ffffff"/><rect x="30" y="32" width="1" height="1" fill="#c0d8c0"/><rect x="31" y="32" width="1" height="1" fill="#6e906e"/><rect x="32" y="32" width="1" height="1" fill="#3a5a3a"/><rect x="33" y="32" width="1" height="1" fill="#6e906e"/><rect x="34" y="32" width="2" height="1" fill="#c0d8c0"/></svg></div><div class="s" style="left:37px;width:2px;height:33px"><u style="top:1.5px">A</u><u style="top:8.5px">B</u></div></div>
<div class="c" style="left:420px;top:171px;background:#000"></div>
<div class="c" style="left:464px;top:168px"></div>
<div class="c" style="left:464px;top:175px"></div>
<div class="n" style="left:490px;top:143px;width:45px;height:44px"><div class="t" style="width:43px"><i class="ic y"></i><b>Texture Sample</b></div><div class="p" style="width:35px;height:34px;background:#000"><svg width="35" height="34" shape-rendering="crispEdges" style="position:absolute;left:0;top:0"><rect x="0" y="0" width="2" height="1" fill="#222e26"/><rect x="2" y="0" width="1" height="1" fill="#34483a"/><rect x="3" y="0" width="3" height="1" fill="#50705e"/><rect x="6" y="0" width="1" height="1" fill="#34483a"/><rect x="7" y="0" width="2" height="1" fill="#141a16"/><rect x="9" y="0" width="1" height="1" fill="#222e26"/><rect x="10" y="0" width="3" height="1" fill="#34483a"/><rect x="13" y="0" width="4" height="1" fill="#141a16"/><rect x="17" y="0" width="1" height="1" fill="#222e26"/><rect x="18" y="0" width="1" height="1" fill="#34483a"/><rect x="19" y="0" width="2" height="1" fill="#222e26"/><rect x="21" y="0" width="2" height="1" fill="#141a16"/><rect x="23" y="0" width="2" height="1" fill="#222e26"/><rect x="25" y="0" width="3" height="1" fill="#141a16"/><rect x="28" y="0" width="1" height="1" fill="#222e26"/><rect x="29" y="0" width="1" height="1" fill="#50705e"/><rect x="30" y="0" width="1" height="1" fill="#222e26"/><rect x="31" y="0" width="4" height="1" fill="#141a16"/><rect x="0" y="1" width="1" height="1" fill="#141a16"/><rect x="1" y="1" width="3" height="1" fill="#34483a"/><rect x="4" y="1" width="1" height="1" fill="#222e26"/><rect x="5" y="1" width="1" height="1" fill="#141a16"/><rect x="6" y="1" width="1" height="1" fill="#222e26"/><rect x="7" y="1" width="1" height="1" fill="#141a16"/><rect x="8" y="1" width="2" height="1" fill="#34483a"/><rect x="10" y="1" width="1" height="1" fill="#222e26"/><rect x="11" y="1" width="7" height="1" fill="#141a16"/><rect x="18" y="1" width="1" height="1" fill="#222e26"/><rect x="19" y="1" width="1" height="1" fill="#141a16"/><rect x="20" y="1" width="1" height="1" fill="#222e26"/><rect x="21" y="1" width="3" height="1" fill="#141a16"/><rect x="24" y="1" width="1" height="1" fill="#34483a"/><rect x="25" y="1" width="1" height="1" fill="#222e26"/><rect x="26" y="1" width="2" height="1" fill="#141a16"/><rect x="28" y="1" width="1" height="1" fill="#222e26"/><rect x="29" y="1" width="1" height="1" fill="#34483a"/><rect x="30" y="1" width="1" height="1" fill="#141a16"/><rect x="31" y="1" width="1" height="1" fill="#34483a"/><rect x="32" y="1" width="2" height="1" fill="#141a16"/><rect x="34" y="1" width="1" height="1" fill="#222e26"/><rect x="0" y="2" width="1" height="1" fill="#222e26"/><rect x="1" y="2" width="1" height="1" fill="#34483a"/><rect x="2" y="2" width="1" height="1" fill="#222e26"/><rect x="3" y="2" width="5" height="1" fill="#141a16"/><rect x="8" y="2" width="1" height="1" fill="#222e26"/><rect x="9" y="2" width="1" height="1" fill="#34483a"/><rect x="10" y="2" width="1" height="1" fill="#222e26"/><rect x="11" y="2" width="9" height="1" fill="#141a16"/><rect x="20" y="2" width="1" height="1" fill="#222e26"/><rect x="21" y="2" width="2" height="1" fill="#141a16"/><rect x="23" y="2" width="2" height="1" fill="#34483a"/><rect x="25" y="2" width="3" height="1" fill="#222e26"/><rect x="28" y="2" width="1" height="1" fill="#34483a"/><rect x="29" y="2" width="1" height="1" fill="#222e26"/><rect x="30" y="2" width="1" height="1" fill="#34483a"/><rect x="31" y="2" width="4" height="1" fill="#222e26"/><rect x="0" y="3" width="1" height="1" fill="#34483a"/><rect x="1" y="3" width="1" height="1" fill="#50705e"/><rect x="2" y="3" width="1" height="1" fill="#222e26"/><rect x="3" y="3" width="6" height="1" fill="#141a16"/><rect x="9" y="3" width="2" height="1" fill="#222e26"/><rect x="11" y="3" width="8" height="1" fill="#141a16"/><rect x="19" y="3" width="4" height="1" fill="#222e26"/><rect x="23" y="3" width="1" height="1" fill="#50705e"/><rect x="24" y="3" width="1" height="1" fill="#222e26"/><rect x="25" y="3" width="1" height="1" fill="#34483a"/><rect x="26" y="3" width="1" height="1" fill="#222e26"/><rect x="27" y="3" width="2" height="1" fill="#34483a"/><rect x="29" y="3" width="1" height="1" fill="#222e26"/><rect x="30" y="3" width="1" height="1" fill="#34483a"/><rect x="31" y="3" width="2" height="1" fill="#141a16"/><rect x="33" y="3" width="2" height="1" fill="#222e26"/><rect x="0" y="4" width="3" height="1" fill="#50705e"/><rect x="3" y="4" width="1" height="1" fill="#34483a"/><rect x="4" y="4" width="1" height="1" fill="#222e26"/><rect x="5" y="4" width="1" height="1" fill="#50705e"/><rect x="6" y="4" width="2" height="1" fill="#222e26"/><rect x="8" y="4" width="10" height="1" fill="#141a16"/><rect x="18" y="4" width="1" height="1" fill="#34483a"/><rect x="19" y="4" width="1" height="1" fill="#222e26"/><rect x="20" y="4" width="1" height="1" fill="#141a16"/><rect x="21" y="4" width="1" height="1" fill="#222e26"/><rect x="22" y="4" width="2" height="1" fill="#50705e"/><rect x="24" y="4" width="1" height="1" fill="#222e26"/><rect x="25" y="4" width="4" height="1" fill="#34483a"/><rect x="29" y="4" width="2" height="1" fill="#222e26"/><rect x="31" y="4" width="3" height="1" fill="#141a16"/><rect x="34" y="4" width="1" height="1" fill="#34483a"/><rect x="0" y="5" width="3" height="1" fill="#50705e"/><rect x="3" y="5" width="1" height="1" fill="#34483a"/><rect x="4" y="5" width="4" height="1" fill="#222e26"/><rect x="8" y="5" width="2" height="1" fill="#34483a"/><rect x="10" y="5" width="1" height="1" fill="#222e26"/><rect x="11" y="5" width="6" height="1" fill="#141a16"/><rect x="17" y="5" width="2" height="1" fill="#50705e"/><rect x="19" y="5" width="2" height="1" fill="#222e26"/><rect x="21" y="5" width="1" height="1" fill="#34483a"/><rect x="22" y="5" width="1" height="1" fill="#50705e"/><rect x="23" y="5" width="1" height="1" fill="#34483a"/><rect x="24" y="5" width="2" height="1" fill="#222e26"/><rect x="26" y="5" width="3" height="1" fill="#34483a"/><rect x="29" y="5" width="1" height="1" fill="#222e26"/><rect x="30" y="5" width="4" height="1" fill="#141a16"/><rect x="34" y="5" width="1" height="1" fill="#222e26"/><rect x="0" y="6" width="1" height="1" fill="#222e26"/><rect x="1" y="6" width="1" height="1" fill="#34483a"/><rect x="2" y="6" width="4" height="1" fill="#141a16"/><rect x="6" y="6" width="2" height="1" fill="#34483a"/><rect x="8" y="6" width="1" height="1" fill="#50705e"/><rect x="9" y="6" width="1" height="1" fill="#34483a"/><rect x="10" y="6" width="6" height="1" fill="#141a16"/><rect x="16" y="6" width="1" height="1" fill="#222e26"/><rect x="17" y="6" width="4" height="1" fill="#50705e"/><rect x="21" y="6" width="1" height="1" fill="#222e26"/><rect x="22" y="6" width="3" height="1" fill="#141a16"/><rect x="25" y="6" width="2" height="1" fill="#222e26"/><rect x="27" y="6" width="3" height="1" fill="#141a16"/><rect x="30" y="6" width="1" height="1" fill="#222e26"/><rect x="31" y="6" width="1" height="1" fill="#34483a"/><rect x="32" y="6" width="2" height="1" fill="#141a16"/><rect x="34" y="6" width="1" height="1" fill="#222e26"/><rect x="0" y="7" width="2" height="1" fill="#50705e"/><rect x="2" y="7" width="1" height="1" fill="#222e26"/><rect x="3" y="7" width="4" height="1" fill="#141a16"/><rect x="7" y="7" width="1" height="1" fill="#222e26"/><rect x="8" y="7" width="2" height="1" fill="#34483a"/><rect x="10" y="7" width="7" height="1" fill="#141a16"/><rect x="17" y="7" width="1" height="1" fill="#222e26"/><rect x="18" y="7" width="2" height="1" fill="#34483a"/><rect x="20" y="7" width="1" height="1" fill="#222e26"/><rect x="21" y="7" width="9" height="1" fill="#141a16"/><rect x="30" y="7" width="1" height="1" fill="#50705e"/><rect x="31" y="7" width="1" height="1" fill="#222e26"/><rect x="32" y="7" width="3" height="1" fill="#141a16"/><rect x="0" y="8" width="2" height="1" fill="#141a16"/><rect x="2" y="8" width="2" height="1" fill="#222e26"/><rect x="4" y="8" width="3" height="1" fill="#141a16"/><rect x="7" y="8" width="3" height="1" fill="#222e26"/><rect x="10" y="8" width="2" height="1" fill="#141a16"/><rect x="12" y="8" width="1" height="1" fill="#222e26"/><rect x="13" y="8" width="4" height="1" fill="#141a16"/><rect x="17" y="8" width="1" height="1" fill="#34483a"/><rect x="18" y="8" width="3" height="1" fill="#50705e"/><rect x="21" y="8" width="1" height="1" fill="#222e26"/><rect x="22" y="8" width="2" height="1" fill="#141a16"/><rect x="24" y="8" width="1" height="1" fill="#50705e"/><rect x="25" y="8" width="5" height="1" fill="#141a16"/><rect x="30" y="8" width="1" height="1" fill="#222e26"/><rect x="31" y="8" width="2" height="1" fill="#34483a"/><rect x="33" y="8" width="1" height="1" fill="#222e26"/><rect x="34" y="8" width="1" height="1" fill="#141a16"/><rect x="0" y="9" width="2" height="1" fill="#141a16"/><rect x="2" y="9" width="1" height="1" fill="#34483a"/><rect x="3" y="9" width="1" height="1" fill="#222e26"/><rect x="4" y="9" width="3" height="1" fill="#141a16"/><rect x="7" y="9" width="1" height="1" fill="#34483a"/><rect x="8" y="9" width="1" height="1" fill="#222e26"/><rect x="9" y="9" width="3" height="1" fill="#141a16"/><rect x="12" y="9" width="1" height="1" fill="#222e26"/><rect x="13" y="9" width="4" height="1" fill="#141a16"/><rect x="17" y="9" width="1" height="1" fill="#34483a"/><rect x="18" y="9" width="3" height="1" fill="#50705e"/><rect x="21" y="9" width="1" height="1" fill="#222e26"/><rect x="22" y="9" width="1" height="1" fill="#141a16"/><rect x="23" y="9" width="1" height="1" fill="#222e26"/><rect x="24" y="9" width="1" height="1" fill="#34483a"/><rect x="25" y="9" width="1" height="1" fill="#222e26"/><rect x="26" y="9" width="2" height="1" fill="#141a16"/><rect x="28" y="9" width="3" height="1" fill="#222e26"/><rect x="31" y="9" width="3" height="1" fill="#34483a"/><rect x="34" y="9" width="1" height="1" fill="#222e26"/><rect x="0" y="10" width="1" height="1" fill="#222e26"/><rect x="1" y="10" width="1" height="1" fill="#141a16"/><rect x="2" y="10" width="1" height="1" fill="#222e26"/><rect x="3" y="10" width="1" height="1" fill="#34483a"/><rect x="4" y="10" width="2" height="1" fill="#222e26"/><rect x="6" y="10" width="1" height="1" fill="#141a16"/><rect x="7" y="10" width="1" height="1" fill="#222e26"/><rect x="8" y="10" width="10" height="1" fill="#141a16"/><rect x="18" y="10" width="6" height="1" fill="#222e26"/><rect x="24" y="10" width="1" height="1" fill="#141a16"/><rect x="25" y="10" width="1" height="1" fill="#34483a"/><rect x="26" y="10" width="2" height="1" fill="#222e26"/><rect x="28" y="10" width="1" height="1" fill="#34483a"/><rect x="29" y="10" width="4" height="1" fill="#222e26"/><rect x="33" y="10" width="1" height="1" fill="#34483a"/><rect x="34" y="10" width="1" height="1" fill="#222e26"/><rect x="0" y="11" width="4" height="1" fill="#141a16"/><rect x="4" y="11" width="1" height="1" fill="#222e26"/><rect x="5" y="11" width="1" height="1" fill="#50705e"/><rect x="6" y="11" width="9" height="1" fill="#141a16"/><rect x="15" y="11" width="2" height="1" fill="#222e26"/><rect x="17" y="11" width="2" height="1" fill="#141a16"/><rect x="19" y="11" width="1" height="1" fill="#222e26"/><rect x="20" y="11" width="2" height="1" fill="#34483a"/><rect x="22" y="11" width="1" height="1" fill="#222e26"/><rect x="23" y="11" width="2" height="1" fill="#141a16"/><rect x="25" y="11" width="1" height="1" fill="#34483a"/><rect x="26" y="11" width="2" height="1" fill="#50705e"/><rect x="28" y="11" width="4" height="1" fill="#222e26"/><rect x="32" y="11" width="2" height="1" fill="#50705e"/><rect x="34" y="11" width="1" height="1" fill="#222e26"/><rect x="0" y="12" width="1" height="1" fill="#141a16"/><rect x="1" y="12" width="1" height="1" fill="#34483a"/><rect x="2" y="12" width="1" height="1" fill="#141a16"/><rect x="3" y="12" width="1" height="1" fill="#222e26"/><rect x="4" y="12" width="1" height="1" fill="#34483a"/><rect x="5" y="12" width="1" height="1" fill="#222e26"/><rect x="6" y="12" width="2" height="1" fill="#141a16"/><rect x="8" y="12" width="1" height="1" fill="#222e26"/><rect x="9" y="12" width="1" height="1" fill="#34483a"/><rect x="10" y="12" width="1" height="1" fill="#222e26"/><rect x="11" y="12" width="4" height="1" fill="#141a16"/><rect x="15" y="12" width="2" height="1" fill="#222e26"/><rect x="17" y="12" width="1" height="1" fill="#141a16"/><rect x="18" y="12" width="1" height="1" fill="#222e26"/><rect x="19" y="12" width="1" height="1" fill="#34483a"/><rect x="20" y="12" width="1" height="1" fill="#222e26"/><rect x="21" y="12" width="2" height="1" fill="#141a16"/><rect x="23" y="12" width="3" height="1" fill="#222e26"/><rect x="26" y="12" width="1" height="1" fill="#141a16"/><rect x="27" y="12" width="1" height="1" fill="#222e26"/><rect x="28" y="12" width="3" height="1" fill="#50705e"/><rect x="31" y="12" width="2" height="1" fill="#222e26"/><rect x="33" y="12" width="1" height="1" fill="#34483a"/><rect x="34" y="12" width="1" height="1" fill="#222e26"/><rect x="0" y="13" width="1" height="1" fill="#50705e"/><rect x="1" y="13" width="1" height="1" fill="#34483a"/><rect x="2" y="13" width="1" height="1" fill="#222e26"/><rect x="3" y="13" width="1" height="1" fill="#34483a"/><rect x="4" y="13" width="1" height="1" fill="#222e26"/><rect x="5" y="13" width="4" height="1" fill="#141a16"/><rect x="9" y="13" width="2" height="1" fill="#34483a"/><rect x="11" y="13" width="1" height="1" fill="#222e26"/><rect x="12" y="13" width="3" height="1" fill="#141a16"/><rect x="15" y="13" width="1" height="1" fill="#222e26"/><rect x="16" y="13" width="1" height="1" fill="#34483a"/><rect x="17" y="13" width="3" height="1" fill="#50705e"/><rect x="20" y="13" width="1" height="1" fill="#222e26"/><rect x="21" y="13" width="7" height="1" fill="#141a16"/><rect x="28" y="13" width="2" height="1" fill="#34483a"/><rect x="30" y="13" width="1" height="1" fill="#222e26"/><rect x="31" y="13" width="1" height="1" fill="#141a16"/><rect x="32" y="13" width="1" height="1" fill="#222e26"/><rect x="33" y="13" width="1" height="1" fill="#34483a"/><rect x="34" y="13" width="1" height="1" fill="#222e26"/><rect x="0" y="14" width="2" height="1" fill="#34483a"/><rect x="2" y="14" width="2" height="1" fill="#222e26"/><rect x="4" y="14" width="5" height="1" fill="#141a16"/><rect x="9" y="14" width="1" height="1" fill="#222e26"/><rect x="10" y="14" width="1" height="1" fill="#34483a"/><rect x="11" y="14" width="2" height="1" fill="#222e26"/><rect x="13" y="14" width="2" height="1" fill="#141a16"/><rect x="15" y="14" width="1" height="1" fill="#34483a"/><rect x="16" y="14" width="1" height="1" fill="#50705e"/><rect x="17" y="14" width="2" height="1" fill="#222e26"/><rect x="19" y="14" width="1" height="1" fill="#34483a"/><rect x="20" y="14" width="1" height="1" fill="#141a16"/><rect x="21" y="14" width="1" height="1" fill="#222e26"/><rect x="22" y="14" width="1" height="1" fill="#34483a"/><rect x="23" y="14" width="5" height="1" fill="#141a16"/><rect x="28" y="14" width="1" height="1" fill="#222e26"/><rect x="29" y="14" width="2" height="1" fill="#141a16"/><rect x="31" y="14" width="3" height="1" fill="#222e26"/><rect x="34" y="14" width="1" height="1" fill="#141a16"/><rect x="0" y="15" width="1" height="1" fill="#222e26"/><rect x="1" y="15" width="6" height="1" fill="#141a16"/><rect x="7" y="15" width="1" height="1" fill="#222e26"/><rect x="8" y="15" width="4" height="1" fill="#141a16"/><rect x="12" y="15" width="3" height="1" fill="#222e26"/><rect x="15" y="15" width="1" height="1" fill="#34483a"/><rect x="16" y="15" width="1" height="1" fill="#50705e"/><rect x="17" y="15" width="3" height="1" fill="#222e26"/><rect x="20" y="15" width="1" height="1" fill="#141a16"/><rect x="21" y="15" width="1" height="1" fill="#34483a"/><rect x="22" y="15" width="1" height="1" fill="#50705e"/><rect x="23" y="15" width="1" height="1" fill="#222e26"/><rect x="24" y="15" width="7" height="1" fill="#141a16"/><rect x="31" y="15" width="1" height="1" fill="#222e26"/><rect x="32" y="15" width="3" height="1" fill="#141a16"/><rect x="0" y="16" width="1" height="1" fill="#34483a"/><rect x="1" y="16" width="5" height="1" fill="#141a16"/><rect x="6" y="16" width="1" height="1" fill="#222e26"/><rect x="7" y="16" width="1" height="1" fill="#34483a"/><rect x="8" y="16" width="4" height="1" fill="#141a16"/><rect x="12" y="16" width="2" height="1" fill="#222e26"/><rect x="14" y="16" width="4" height="1" fill="#34483a"/><rect x="18" y="16" width="1" height="1" fill="#222e26"/><rect x="19" y="16" width="2" height="1" fill="#141a16"/><rect x="21" y="16" width="1" height="1" fill="#222e26"/><rect x="22" y="16" width="1" height="1" fill="#50705e"/><rect x="23" y="16" width="1" height="1" fill="#222e26"/><rect x="24" y="16" width="5" height="1" fill="#141a16"/><rect x="29" y="16" width="1" height="1" fill="#222e26"/><rect x="30" y="16" width="1" height="1" fill="#141a16"/><rect x="31" y="16" width="1" height="1" fill="#222e26"/><rect x="32" y="16" width="3" height="1" fill="#141a16"/><rect x="0" y="17" width="1" height="1" fill="#222e26"/><rect x="1" y="17" width="5" height="1" fill="#141a16"/><rect x="6" y="17" width="1" height="1" fill="#34483a"/><rect x="7" y="17" width="1" height="1" fill="#50705e"/><rect x="8" y="17" width="1" height="1" fill="#34483a"/><rect x="9" y="17" width="2" height="1" fill="#222e26"/><rect x="11" y="17" width="2" height="1" fill="#141a16"/><rect x="13" y="17" width="4" height="1" fill="#222e26"/><rect x="17" y="17" width="1" height="1" fill="#141a16"/><rect x="18" y="17" width="1" height="1" fill="#222e26"/><rect x="19" y="17" width="4" height="1" fill="#141a16"/><rect x="23" y="17" width="1" height="1" fill="#222e26"/><rect x="24" y="17" width="1" height="1" fill="#34483a"/><rect x="25" y="17" width="1" height="1" fill="#50705e"/><rect x="26" y="17" width="2" height="1" fill="#222e26"/><rect x="28" y="17" width="1" height="1" fill="#34483a"/><rect x="29" y="17" width="1" height="1" fill="#222e26"/><rect x="30" y="17" width="5" height="1" fill="#141a16"/><rect x="0" y="18" width="1" height="1" fill="#222e26"/><rect x="1" y="18" width="1" height="1" fill="#34483a"/><rect x="2" y="18" width="4" height="1" fill="#141a16"/><rect x="6" y="18" width="1" height="1" fill="#222e26"/><rect x="7" y="18" width="3" height="1" fill="#50705e"/><rect x="10" y="18" width="2" height="1" fill="#222e26"/><rect x="12" y="18" width="1" height="1" fill="#34483a"/><rect x="13" y="18" width="1" height="1" fill="#50705e"/><rect x="14" y="18" width="1" height="1" fill="#34483a"/><rect x="15" y="18" width="3" height="1" fill="#222e26"/><rect x="18" y="18" width="6" height="1" fill="#141a16"/><rect x="24" y="18" width="2" height="1" fill="#50705e"/><rect x="26" y="18" width="3" height="1" fill="#34483a"/><rect x="29" y="18" width="1" height="1" fill="#222e26"/><rect x="30" y="18" width="2" height="1" fill="#141a16"/><rect x="32" y="18" width="1" height="1" fill="#222e26"/><rect x="33" y="18" width="2" height="1" fill="#34483a"/><rect x="0" y="19" width="2" height="1" fill="#141a16"/><rect x="2" y="19" width="2" height="1" fill="#222e26"/><rect x="4" y="19" width="4" height="1" fill="#141a16"/><rect x="8" y="19" width="2" height="1" fill="#50705e"/><rect x="10" y="19" width="1" height="1" fill="#222e26"/><rect x="11" y="19" width="3" height="1" fill="#34483a"/><rect x="14" y="19" width="3" height="1" fill="#222e26"/><rect x="17" y="19" width="1" height="1" fill="#141a16"/><rect x="18" y="19" width="1" height="1" fill="#222e26"/><rect x="19" y="19" width="1" height="1" fill="#50705e"/><rect x="20" y="19" width="1" height="1" fill="#34483a"/><rect x="21" y="19" width="1" height="1" fill="#222e26"/><rect x="22" y="19" width="2" height="1" fill="#141a16"/><rect x="24" y="19" width="1" height="1" fill="#222e26"/><rect x="25" y="19" width="1" height="1" fill="#34483a"/><rect x="26" y="19" width="3" height="1" fill="#50705e"/><rect x="29" y="19" width="1" height="1" fill="#34483a"/><rect x="30" y="19" width="2" height="1" fill="#222e26"/><rect x="32" y="19" width="2" height="1" fill="#34483a"/><rect x="34" y="19" width="1" height="1" fill="#222e26"/><rect x="0" y="20" width="1" height="1" fill="#141a16"/><rect x="1" y="20" width="1" height="1" fill="#222e26"/><rect x="2" y="20" width="1" height="1" fill="#34483a"/><rect x="3" y="20" width="1" height="1" fill="#222e26"/><rect x="4" y="20" width="4" height="1" fill="#141a16"/><rect x="8" y="20" width="3" height="1" fill="#222e26"/><rect x="11" y="20" width="3" height="1" fill="#34483a"/><rect x="14" y="20" width="3" height="1" fill="#222e26"/><rect x="17" y="20" width="1" height="1" fill="#34483a"/><rect x="18" y="20" width="1" height="1" fill="#222e26"/><rect x="19" y="20" width="2" height="1" fill="#34483a"/><rect x="21" y="20" width="1" height="1" fill="#222e26"/><rect x="22" y="20" width="2" height="1" fill="#141a16"/><rect x="24" y="20" width="2" height="1" fill="#222e26"/><rect x="26" y="20" width="4" height="1" fill="#50705e"/><rect x="30" y="20" width="2" height="1" fill="#222e26"/><rect x="32" y="20" width="3" height="1" fill="#34483a"/><rect x="0" y="21" width="6" height="1" fill="#222e26"/><rect x="6" y="21" width="4" height="1" fill="#141a16"/><rect x="10" y="21" width="1" height="1" fill="#222e26"/><rect x="11" y="21" width="6" height="1" fill="#34483a"/><rect x="17" y="21" width="2" height="1" fill="#222e26"/><rect x="19" y="21" width="1" height="1" fill="#141a16"/><rect x="20" y="21" width="7" height="1" fill="#222e26"/><rect x="27" y="21" width="2" height="1" fill="#34483a"/><rect x="29" y="21" width="1" height="1" fill="#50705e"/><rect x="30" y="21" width="2" height="1" fill="#141a16"/><rect x="32" y="21" width="1" height="1" fill="#222e26"/><rect x="33" y="21" width="1" height="1" fill="#50705e"/><rect x="34" y="21" width="1" height="1" fill="#222e26"/><rect x="0" y="22" width="1" height="1" fill="#34483a"/><rect x="1" y="22" width="1" height="1" fill="#222e26"/><rect x="2" y="22" width="1" height="1" fill="#141a16"/><rect x="3" y="22" width="1" height="1" fill="#222e26"/><rect x="4" y="22" width="1" height="1" fill="#34483a"/><rect x="5" y="22" width="1" height="1" fill="#222e26"/><rect x="6" y="22" width="5" height="1" fill="#141a16"/><rect x="11" y="22" width="2" height="1" fill="#34483a"/><rect x="13" y="22" width="4" height="1" fill="#50705e"/><rect x="17" y="22" width="1" height="1" fill="#222e26"/><rect x="18" y="22" width="3" height="1" fill="#141a16"/><rect x="21" y="22" width="1" height="1" fill="#222e26"/><rect x="22" y="22" width="2" height="1" fill="#50705e"/><rect x="24" y="22" width="1" height="1" fill="#222e26"/><rect x="25" y="22" width="2" height="1" fill="#141a16"/><rect x="27" y="22" width="1" height="1" fill="#222e26"/><rect x="28" y="22" width="1" height="1" fill="#34483a"/><rect x="29" y="22" width="1" height="1" fill="#222e26"/><rect x="30" y="22" width="2" height="1" fill="#141a16"/><rect x="32" y="22" width="1" height="1" fill="#222e26"/><rect x="33" y="22" width="1" height="1" fill="#50705e"/><rect x="34" y="22" width="1" height="1" fill="#222e26"/><rect x="0" y="23" width="1" height="1" fill="#34483a"/><rect x="1" y="23" width="1" height="1" fill="#141a16"/><rect x="2" y="23" width="2" height="1" fill="#222e26"/><rect x="4" y="23" width="1" height="1" fill="#34483a"/><rect x="5" y="23" width="1" height="1" fill="#141a16"/><rect x="6" y="23" width="1" height="1" fill="#222e26"/><rect x="7" y="23" width="1" height="1" fill="#34483a"/><rect x="8" y="23" width="2" height="1" fill="#141a16"/><rect x="10" y="23" width="1" height="1" fill="#222e26"/><rect x="11" y="23" width="1" height="1" fill="#34483a"/><rect x="12" y="23" width="2" height="1" fill="#50705e"/><rect x="14" y="23" width="3" height="1" fill="#34483a"/><rect x="17" y="23" width="1" height="1" fill="#222e26"/><rect x="18" y="23" width="1" height="1" fill="#141a16"/><rect x="19" y="23" width="1" height="1" fill="#34483a"/><rect x="20" y="23" width="1" height="1" fill="#222e26"/><rect x="21" y="23" width="2" height="1" fill="#141a16"/><rect x="23" y="23" width="1" height="1" fill="#34483a"/><rect x="24" y="23" width="1" height="1" fill="#141a16"/><rect x="25" y="23" width="2" height="1" fill="#222e26"/><rect x="27" y="23" width="1" height="1" fill="#34483a"/><rect x="28" y="23" width="1" height="1" fill="#50705e"/><rect x="29" y="23" width="1" height="1" fill="#222e26"/><rect x="30" y="23" width="3" height="1" fill="#141a16"/><rect x="33" y="23" width="1" height="1" fill="#34483a"/><rect x="34" y="23" width="1" height="1" fill="#222e26"/><rect x="0" y="24" width="2" height="1" fill="#141a16"/><rect x="2" y="24" width="2" height="1" fill="#222e26"/><rect x="4" y="24" width="2" height="1" fill="#50705e"/><rect x="6" y="24" width="2" height="1" fill="#222e26"/><rect x="8" y="24" width="1" height="1" fill="#141a16"/><rect x="9" y="24" width="1" height="1" fill="#222e26"/><rect x="10" y="24" width="2" height="1" fill="#50705e"/><rect x="12" y="24" width="5" height="1" fill="#141a16"/><rect x="17" y="24" width="1" height="1" fill="#222e26"/><rect x="18" y="24" width="1" height="1" fill="#141a16"/><rect x="19" y="24" width="1" height="1" fill="#34483a"/><rect x="20" y="24" width="1" height="1" fill="#222e26"/><rect x="21" y="24" width="4" height="1" fill="#141a16"/><rect x="25" y="24" width="1" height="1" fill="#222e26"/><rect x="26" y="24" width="1" height="1" fill="#34483a"/><rect x="27" y="24" width="4" height="1" fill="#222e26"/><rect x="31" y="24" width="1" height="1" fill="#141a16"/><rect x="32" y="24" width="1" height="1" fill="#222e26"/><rect x="33" y="24" width="1" height="1" fill="#34483a"/><rect x="34" y="24" width="1" height="1" fill="#222e26"/><rect x="0" y="25" width="1" height="1" fill="#141a16"/><rect x="1" y="25" width="1" height="1" fill="#222e26"/><rect x="2" y="25" width="1" height="1" fill="#141a16"/><rect x="3" y="25" width="1" height="1" fill="#222e26"/><rect x="4" y="25" width="3" height="1" fill="#50705e"/><rect x="7" y="25" width="4" height="1" fill="#34483a"/><rect x="11" y="25" width="1" height="1" fill="#50705e"/><rect x="12" y="25" width="1" height="1" fill="#222e26"/><rect x="13" y="25" width="7" height="1" fill="#141a16"/><rect x="20" y="25" width="5" height="1" fill="#222e26"/><rect x="25" y="25" width="1" height="1" fill="#141a16"/><rect x="26" y="25" width="2" height="1" fill="#50705e"/><rect x="28" y="25" width="2" height="1" fill="#34483a"/><rect x="30" y="25" width="1" height="1" fill="#141a16"/><rect x="31" y="25" width="2" height="1" fill="#222e26"/><rect x="33" y="25" width="1" height="1" fill="#50705e"/><rect x="34" y="25" width="1" height="1" fill="#34483a"/><rect x="0" y="26" width="3" height="1" fill="#141a16"/><rect x="3" y="26" width="1" height="1" fill="#222e26"/><rect x="4" y="26" width="2" height="1" fill="#50705e"/><rect x="6" y="26" width="1" height="1" fill="#34483a"/><rect x="7" y="26" width="3" height="1" fill="#50705e"/><rect x="10" y="26" width="1" height="1" fill="#222e26"/><rect x="11" y="26" width="3" height="1" fill="#141a16"/><rect x="14" y="26" width="3" height="1" fill="#222e26"/><rect x="17" y="26" width="4" height="1" fill="#141a16"/><rect x="21" y="26" width="1" height="1" fill="#222e26"/><rect x="22" y="26" width="3" height="1" fill="#50705e"/><rect x="25" y="26" width="1" height="1" fill="#34483a"/><rect x="26" y="26" width="1" height="1" fill="#50705e"/><rect x="27" y="26" width="3" height="1" fill="#34483a"/><rect x="30" y="26" width="2" height="1" fill="#141a16"/><rect x="32" y="26" width="1" height="1" fill="#222e26"/><rect x="33" y="26" width="2" height="1" fill="#141a16"/><rect x="0" y="27" width="2" height="1" fill="#141a16"/><rect x="2" y="27" width="2" height="1" fill="#222e26"/><rect x="4" y="27" width="2" height="1" fill="#50705e"/><rect x="6" y="27" width="1" height="1" fill="#34483a"/><rect x="7" y="27" width="2" height="1" fill="#50705e"/><rect x="9" y="27" width="1" height="1" fill="#34483a"/><rect x="10" y="27" width="1" height="1" fill="#222e26"/><rect x="11" y="27" width="1" height="1" fill="#141a16"/><rect x="12" y="27" width="2" height="1" fill="#222e26"/><rect x="14" y="27" width="1" height="1" fill="#34483a"/><rect x="15" y="27" width="1" height="1" fill="#222e26"/><rect x="16" y="27" width="5" height="1" fill="#141a16"/><rect x="21" y="27" width="1" height="1" fill="#222e26"/><rect x="22" y="27" width="4" height="1" fill="#34483a"/><rect x="26" y="27" width="1" height="1" fill="#50705e"/><rect x="27" y="27" width="2" height="1" fill="#34483a"/><rect x="29" y="27" width="1" height="1" fill="#222e26"/><rect x="30" y="27" width="2" height="1" fill="#141a16"/><rect x="32" y="27" width="1" height="1" fill="#222e26"/><rect x="33" y="27" width="2" height="1" fill="#141a16"/><rect x="0" y="28" width="2" height="1" fill="#141a16"/><rect x="2" y="28" width="1" height="1" fill="#222e26"/><rect x="3" y="28" width="3" height="1" fill="#34483a"/><rect x="6" y="28" width="2" height="1" fill="#222e26"/><rect x="8" y="28" width="1" height="1" fill="#141a16"/><rect x="9" y="28" width="1" height="1" fill="#222e26"/><rect x="10" y="28" width="2" height="1" fill="#34483a"/><rect x="12" y="28" width="1" height="1" fill="#222e26"/><rect x="13" y="28" width="2" height="1" fill="#50705e"/><rect x="15" y="28" width="1" height="1" fill="#222e26"/><rect x="16" y="28" width="5" height="1" fill="#141a16"/><rect x="21" y="28" width="1" height="1" fill="#222e26"/><rect x="22" y="28" width="1" height="1" fill="#34483a"/><rect x="23" y="28" width="1" height="1" fill="#222e26"/><rect x="24" y="28" width="2" height="1" fill="#141a16"/><rect x="26" y="28" width="2" height="1" fill="#34483a"/><rect x="28" y="28" width="1" height="1" fill="#222e26"/><rect x="29" y="28" width="2" height="1" fill="#141a16"/><rect x="31" y="28" width="1" height="1" fill="#222e26"/><rect x="32" y="28" width="2" height="1" fill="#34483a"/><rect x="34" y="28" width="1" height="1" fill="#141a16"/><rect x="0" y="29" width="2" height="1" fill="#141a16"/><rect x="2" y="29" width="3" height="1" fill="#222e26"/><rect x="5" y="29" width="5" height="1" fill="#141a16"/><rect x="10" y="29" width="1" height="1" fill="#222e26"/><rect x="11" y="29" width="1" height="1" fill="#34483a"/><rect x="12" y="29" width="1" height="1" fill="#222e26"/><rect x="13" y="29" width="2" height="1" fill="#50705e"/><rect x="15" y="29" width="2" height="1" fill="#222e26"/><rect x="17" y="29" width="4" height="1" fill="#141a16"/><rect x="21" y="29" width="1" height="1" fill="#34483a"/><rect x="22" y="29" width="1" height="1" fill="#50705e"/><rect x="23" y="29" width="1" height="1" fill="#34483a"/><rect x="24" y="29" width="3" height="1" fill="#141a16"/><rect x="27" y="29" width="1" height="1" fill="#222e26"/><rect x="28" y="29" width="1" height="1" fill="#141a16"/><rect x="29" y="29" width="1" height="1" fill="#222e26"/><rect x="30" y="29" width="2" height="1" fill="#141a16"/><rect x="32" y="29" width="2" height="1" fill="#34483a"/><rect x="34" y="29" width="1" height="1" fill="#141a16"/><rect x="0" y="30" width="4" height="1" fill="#141a16"/><rect x="4" y="30" width="3" height="1" fill="#34483a"/><rect x="7" y="30" width="1" height="1" fill="#222e26"/><rect x="8" y="30" width="5" height="1" fill="#141a16"/><rect x="13" y="30" width="2" height="1" fill="#222e26"/><rect x="15" y="30" width="2" height="1" fill="#141a16"/><rect x="17" y="30" width="1" height="1" fill="#222e26"/><rect x="18" y="30" width="1" height="1" fill="#34483a"/><rect x="19" y="30" width="2" height="1" fill="#141a16"/><rect x="21" y="30" width="1" height="1" fill="#222e26"/><rect x="22" y="30" width="3" height="1" fill="#50705e"/><rect x="25" y="30" width="1" height="1" fill="#34483a"/><rect x="26" y="30" width="2" height="1" fill="#222e26"/><rect x="28" y="30" width="1" height="1" fill="#141a16"/><rect x="29" y="30" width="1" height="1" fill="#222e26"/><rect x="30" y="30" width="5" height="1" fill="#141a16"/><rect x="0" y="31" width="4" height="1" fill="#141a16"/><rect x="4" y="31" width="2" height="1" fill="#34483a"/><rect x="6" y="31" width="1" height="1" fill="#222e26"/><rect x="7" y="31" width="5" height="1" fill="#141a16"/><rect x="12" y="31" width="2" height="1" fill="#222e26"/><rect x="14" y="31" width="3" height="1" fill="#141a16"/><rect x="17" y="31" width="5" height="1" fill="#222e26"/><rect x="22" y="31" width="1" height="1" fill="#34483a"/><rect x="23" y="31" width="3" height="1" fill="#50705e"/><rect x="26" y="31" width="1" height="1" fill="#222e26"/><rect x="27" y="31" width="2" height="1" fill="#141a16"/><rect x="29" y="31" width="3" height="1" fill="#222e26"/><rect x="32" y="31" width="3" height="1" fill="#141a16"/><rect x="0" y="32" width="1" height="1" fill="#34483a"/><rect x="1" y="32" width="1" height="1" fill="#222e26"/><rect x="2" y="32" width="4" height="1" fill="#141a16"/><rect x="6" y="32" width="1" height="1" fill="#222e26"/><rect x="7" y="32" width="1" height="1" fill="#141a16"/><rect x="8" y="32" width="3" height="1" fill="#222e26"/><rect x="11" y="32" width="1" height="1" fill="#141a16"/><rect x="12" y="32" width="1" height="1" fill="#222e26"/><rect x="13" y="32" width="3" height="1" fill="#34483a"/><rect x="16" y="32" width="1" height="1" fill="#222e26"/><rect x="17" y="32" width="1" height="1" fill="#141a16"/><rect x="18" y="32" width="2" height="1" fill="#222e26"/><rect x="20" y="32" width="3" height="1" fill="#50705e"/><rect x="23" y="32" width="1" height="1" fill="#222e26"/><rect x="24" y="32" width="1" height="1" fill="#141a16"/><rect x="25" y="32" width="1" height="1" fill="#222e26"/><rect x="26" y="32" width="1" height="1" fill="#34483a"/><rect x="27" y="32" width="3" height="1" fill="#222e26"/><rect x="30" y="32" width="5" height="1" fill="#141a16"/><rect x="0" y="33" width="1" height="1" fill="#34483a"/><rect x="1" y="33" width="7" height="1" fill="#141a16"/><rect x="8" y="33" width="1" height="1" fill="#34483a"/><rect x="9" y="33" width="1" height="1" fill="#50705e"/><rect x="10" y="33" width="1" height="1" fill="#34483a"/><rect x="11" y="33" width="1" height="1" fill="#222e26"/><rect x="12" y="33" width="1" height="1" fill="#141a16"/><rect x="13" y="33" width="2" height="1" fill="#34483a"/><rect x="15" y="33" width="1" height="1" fill="#50705e"/><rect x="16" y="33" width="1" height="1" fill="#34483a"/><rect x="17" y="33" width="1" height="1" fill="#141a16"/><rect x="18" y="33" width="2" height="1" fill="#222e26"/><rect x="20" y="33" width="3" height="1" fill="#50705e"/><rect x="23" y="33" width="1" height="1" fill="#222e26"/><rect x="24" y="33" width="2" height="1" fill="#141a16"/><rect x="26" y="33" width="2" height="1" fill="#50705e"/><rect x="28" y="33" width="2" height="1" fill="#34483a"/><rect x="30" y="33" width="5" height="1" fill="#141a16"/></svg></div><div class="s" style="left:36px;width:8px;height:34px"><u style="top:10.5px">UVs</u></div></div>
<div class="c" style="left:486px;top:154px;background:#000"></div>
<div class="c" style="left:486px;top:159px;background:#f00"></div>
<div class="c" style="left:486px;top:164px;background:#0f0"></div>
<div class="c" style="left:486px;top:169px;background:#00f"></div>
<div class="c" style="left:486px;top:174px;background:#fff"></div>
<div class="c" style="left:535px;top:164px"></div>
<div class="n" style="left:556px;top:144px;width:40px;height:43px"><div class="t" style="width:38px"><i class="ic"></i><b>Panner</b></div><div class="p" style="width:35px;height:33px;background:linear-gradient(to right,#00f000,#ffff00 40%,#ffff00)"><i class="pl" style="top:1px">Coordinate</i><i class="pl" style="top:8px">Time</i></div><div class="s" style="left:36px;width:3px;height:33px"><u style="top:1.5px"></u><u style="top:8.5px"></u></div></div>
<div class="c" style="left:552px;top:159px;background:#000"></div>
<div class="c" style="left:596px;top:156px"></div>
<div class="c" style="left:596px;top:163px"></div>
<div class="n" style="left:623px;top:146px;width:40px;height:44px"><div class="t" style="width:38px"><i class="ic"></i><b>BumpOffset</b></div><div class="p" style="width:36px;height:34px;background:linear-gradient(to right,#000,#f00 38%,#f00),linear-gradient(to bottom,#000,#0f0 38%,#0f0);background-blend-mode:screen"><i class="pl" style="top:1.5px">Coordinate</i><i class="pl" style="top:8.5px">Height</i></div><div class="s" style="left:37px;width:2px;height:34px"><u style="top:1.5px"></u><u style="top:8.5px"></u></div></div>
<div class="c" style="left:619px;top:161px;background:#000"></div>
<div class="c" style="left:663px;top:158px"></div>
<div class="c" style="left:663px;top:165px"></div>
<div class="n" style="left:684px;top:89px;width:40px;height:45px"><div class="t" style="width:38px"><i class="ic"></i><b>TexCoord</b></div><div class="p" style="width:36px;height:35px;background:linear-gradient(to right,#000,#f00 38%,#f00),linear-gradient(to bottom,#000,#0f0 38%,#0f0);background-blend-mode:screen"></div><div class="s" style="left:37px;width:2px;height:35px"></div></div>
<div class="c" style="left:680px;top:100px;background:#000"></div>
<div class="n" style="left:694px;top:150px;width:40px;height:44px"><div class="t" style="width:38px"><i class="ic"></i><b>0.5</b></div><div class="p" style="width:35px;height:34px;background:#7f7f7f"></div><div class="s" style="left:36px;width:3px;height:34px"></div></div>
<div class="c" style="left:690px;top:161px;background:#000"></div>
<div class="n" style="left:490px;top:196px;width:41px;height:44px"><div class="t" style="width:39px"><i class="ic"></i><b>1</b></div><div class="p" style="width:36px;height:34px;background:#fff"></div><div class="s" style="left:37px;width:3px;height:34px"></div></div>
<div class="c" style="left:486px;top:207px;background:#000"></div>
<div class="n" style="left:201px;top:290px;width:40px;height:44px"><div class="t" style="width:38px"><i class="ic"></i><b>Add</b></div><div class="p" style="width:34px;height:34px"><svg width="34" height="34" viewBox="0 0 35 36" preserveAspectRatio="none" style="position:absolute;left:0;top:0"><rect width="35" height="36" fill="#000"/><g transform="translate(-1.2 0)"><circle cx="4.7" cy="9.6" r="3.5" fill="none" stroke="#20c848" stroke-width="1.3" stroke-dasharray="2.2 0.6"/><rect x="1.2" y="15" width="2" height="5" fill="#12a070"/><rect x="1.2" y="20.5" width="2" height="4.5" fill="#10a040"/><circle cx="15.7" cy="21.4" r="1.7" fill="#50f070"/><path d="M15 22.5 L12.6 24.8" stroke="#138a30" stroke-width="1"/><path d="M29.3 12.6 L32.3 15.6 M32.3 12.6 L29.3 15.6" stroke="#138a20" stroke-width="0.9"/><rect x="29.4" y="18.9" width="2.4" height="1.6" fill="#10a080"/><rect x="27.6" y="2.5" width="1.2" height="2.6" fill="#0b1b33"/><rect x="31.6" y="2.5" width="1.2" height="2.6" fill="#0b1b33"/></g></svg></div><div class="s" style="left:35px;width:4px;height:34px"><u style="top:1.5px">A</u><u style="top:8.5px">B</u></div></div>
<div class="c" style="left:197px;top:305px;background:#000"></div>
<div class="c" style="left:241px;top:302px"></div>
<div class="c" style="left:241px;top:309px"></div>
<div class="n" style="left:144px;top:327px;width:40px;height:45px"><div class="t" style="width:38px"><i class="ic"></i><b>Add</b></div><div class="p" style="width:36px;height:35px"><svg width="36" height="35" viewBox="0 0 35 36" preserveAspectRatio="none" style="position:absolute;left:0;top:0"><rect width="35" height="36" fill="#000"/><g transform="translate(-1.2 0)"><circle cx="4.7" cy="9.6" r="3.5" fill="none" stroke="#20c848" stroke-width="1.3" stroke-dasharray="2.2 0.6"/><rect x="1.2" y="15" width="2" height="5" fill="#12a070"/><rect x="1.2" y="20.5" width="2" height="4.5" fill="#10a040"/><circle cx="15.7" cy="21.4" r="1.7" fill="#50f070"/><path d="M15 22.5 L12.6 24.8" stroke="#138a30" stroke-width="1"/><path d="M29.3 12.6 L32.3 15.6 M32.3 12.6 L29.3 15.6" stroke="#138a20" stroke-width="0.9"/><rect x="29.4" y="18.9" width="2.4" height="1.6" fill="#10a080"/><rect x="27.6" y="2.5" width="1.2" height="2.6" fill="#0b1b33"/><rect x="31.6" y="2.5" width="1.2" height="2.6" fill="#0b1b33"/></g></svg></div><div class="s" style="left:37px;width:2px;height:35px"><u style="top:1.5px">A</u><u style="top:8.5px">B</u></div></div>
<div class="c" style="left:140px;top:342px;background:#000"></div>
<div class="c" style="left:184px;top:339px"></div>
<div class="c" style="left:184px;top:346px"></div>
<div class="n" style="left:344px;top:292px;width:40px;height:45px"><div class="t" style="width:38px"><i class="ic"></i><b>Multiply</b></div><div class="p" style="width:34px;height:35px;background:#a8ffff"></div><div class="s" style="left:35px;width:4px;height:35px"><u style="top:1.5px">A</u><u style="top:8.5px">B</u></div></div>
<div class="c" style="left:340px;top:307px;background:#000"></div>
<div class="c" style="left:384px;top:304px"></div>
<div class="c" style="left:384px;top:311px"></div>
<div class="n" style="left:398px;top:290px;width:43px;height:44px"><div class="t" style="width:41px"><i class="ic"></i><b>0.55,0.55,0.55</b></div><div class="p" style="width:41px;height:34px;background:#8c8c8c"></div></div>
<div class="c" style="left:394px;top:299.5px;background:#000"></div>
<div class="n" style="left:286px;top:347px;width:40px;height:45px"><div class="t" style="width:38px"><i class="ic"></i><b>Multiply</b></div><div class="p" style="width:36px;height:35px;background:#000"></div><div class="s" style="left:37px;width:2px;height:35px"><u style="top:1.5px">A</u><u style="top:8.5px">B</u></div></div>
<div class="c" style="left:282px;top:362px;background:#000"></div>
<div class="c" style="left:326px;top:359px"></div>
<div class="c" style="left:326px;top:366px"></div>
<div class="n" style="left:345px;top:347px;width:45px;height:44px"><div class="t" style="width:43px"><i class="ic y"></i><b>Texture Sample</b></div><div class="p" style="width:34px;height:34px;background:#000"></div><div class="s" style="left:35px;width:9px;height:34px"><u style="top:10.5px">UVs</u></div></div>
<div class="c" style="left:341px;top:358px;background:#000"></div>
<div class="c" style="left:341px;top:363px;background:#f00"></div>
<div class="c" style="left:341px;top:368px;background:#0f0"></div>
<div class="c" style="left:341px;top:373px;background:#00f"></div>
<div class="c" style="left:341px;top:378px;background:#fff"></div>
<div class="c" style="left:390px;top:368px"></div>
<div class="n" style="left:405px;top:348px;width:40px;height:45px"><div class="t" style="width:38px"><i class="ic"></i><b>Multiply</b></div><div class="p" style="width:34px;height:35px;background:linear-gradient(to right,#000,#ff0000)"></div><div class="s" style="left:35px;width:4px;height:35px"><u style="top:1.5px">A</u><u style="top:8.5px">B</u></div></div>
<div class="c" style="left:401px;top:363px;background:#000"></div>
<div class="c" style="left:445px;top:360px"></div>
<div class="c" style="left:445px;top:367px"></div>
<div class="n" style="left:462px;top:349px;width:40px;height:45px"><div class="t" style="width:38px"><i class="ic"></i><b>Constant</b></div><div class="p" style="width:34px;height:35px;background:#ff8000"></div><div class="s" style="left:35px;width:4px;height:35px"></div></div>
<div class="c" style="left:458px;top:360px;background:#000"></div>
<div class="n" style="left:298px;top:504px;width:45px;height:45px"><div class="t" style="width:43px"><i class="ic y"></i><b>Texture Sample</b></div><div class="p" style="width:34px;height:35px;background:#fff"></div><div class="s" style="left:35px;width:9px;height:35px"><u style="top:10.5px">UVs</u></div></div>
<div class="c" style="left:294px;top:515px;background:#000"></div>
<div class="c" style="left:294px;top:520px;background:#f00"></div>
<div class="c" style="left:294px;top:525px;background:#0f0"></div>
<div class="c" style="left:294px;top:530px;background:#00f"></div>
<div class="c" style="left:294px;top:535px;background:#fff"></div>
<div class="c" style="left:343px;top:525px"></div>
<div class="n" style="left:372px;top:505px;width:40px;height:45px"><div class="t" style="width:38px"><i class="ic"></i><b>Add</b></div><div class="p" style="width:34px;height:35px;background:linear-gradient(to right,#000,#ff0000)"></div><div class="s" style="left:35px;width:4px;height:35px"><u style="top:1.5px">A</u><u style="top:8.5px">B</u></div></div>
<div class="c" style="left:368px;top:520px;background:#000"></div>
<div class="c" style="left:412px;top:517px"></div>
<div class="c" style="left:412px;top:524px"></div>
<div class="n" style="left:429px;top:475px;width:40px;height:44px"><div class="t" style="width:38px"><i class="ic"></i><b>Abs</b></div><div class="p" style="width:34px;height:34px;background:linear-gradient(to right,#000,#ff0000)"></div><div class="s" style="left:35px;width:4px;height:34px"><u style="top:1.5px">A</u><u style="top:8.5px">B</u></div></div>
<div class="c" style="left:425px;top:490px;background:#000"></div>
<div class="c" style="left:469px;top:487px"></div>
<div class="c" style="left:469px;top:494px"></div>
<div class="n" style="left:429px;top:544px;width:40px;height:45px"><div class="t" style="width:38px"><i class="ic"></i><b>Multiply</b></div><div class="p" style="width:35px;height:35px;background:#000"></div><div class="s" style="left:36px;width:3px;height:35px"><u style="top:1.5px">A</u><u style="top:8.5px">B</u></div></div>
<div class="c" style="left:425px;top:559px;background:#000"></div>
<div class="c" style="left:469px;top:556px"></div>
<div class="c" style="left:469px;top:563px"></div>
<div class="n" style="left:485px;top:431px;width:40px;height:45px"><div class="t" style="width:38px"><i class="ic"></i><b>Time</b></div><div class="p" style="width:36px;height:35px;background:#000"></div><div class="s" style="left:37px;width:2px;height:35px"></div></div>
<div class="c" style="left:481px;top:440px;background:#000"></div>
<div class="n" style="left:484px;top:482px;width:39px;height:44px"><div class="t" style="width:37px"><i class="ic"></i><b>TexCoord</b></div><div class="p" style="width:35px;height:34px;background:linear-gradient(to right,#000,#f00),linear-gradient(to bottom,#000,#0f0);background-blend-mode:screen"></div><div class="s" style="left:36px;width:2px;height:34px"></div></div>
<div class="c" style="left:480px;top:491.5px;background:#000"></div>
<div class="n" style="left:485px;top:539px;width:40px;height:44px"><div class="t" style="width:38px"><i class="ic"></i><b>Const</b></div><div class="p" style="width:36px;height:34px;background:#00ff00"></div><div class="s" style="left:37px;width:2px;height:34px"></div></div>
<div class="c" style="left:481px;top:548px;background:#000"></div>
<div class="n" style="left:485px;top:589px;width:40px;height:46px"><div class="t" style="width:38px"><i class="ic"></i><b>VertexColor</b></div><div class="p" style="width:36px;height:36px;background:#000"></div><div class="s" style="left:37px;width:2px;height:36px"></div></div>
<div class="c" style="left:481px;top:598px;background:#000"></div>
<div class="c" style="left:525px;top:598.5px"></div>
<div class="n" style="left:681px;top:438px;width:46px;height:45px"><div class="t" style="width:44px"><i class="ic"></i><b>MasterScalarParam</b></div><div class="p" style="width:36px;height:35px;background:#000"></div><div class="s" style="left:37px;width:8px;height:35px"></div></div>
<div class="c" style="left:677px;top:448px;background:#000"></div>
<div class="n" style="left:685px;top:509px;width:40px;height:44px"><div class="t" style="width:38px"><i class="ic"></i><b>1,1,1,1</b></div><div class="p" style="width:35px;height:34px;background:#fff"></div><div class="s" style="left:36px;width:3px;height:34px"></div></div>
<div class="c" style="left:681px;top:518.5px;background:#000"></div>
<div class="n" style="left:685px;top:581px;width:55px;height:44px"><div class="t" style="width:53px"><i class="ic"></i><b>VertexColor</b></div><div class="p" style="width:36px;height:34px;background:#fff"></div><div class="s" style="left:37px;width:17px;height:34px"></div></div>
<div class="c" style="left:681px;top:592px;background:#000"></div>
<div class="c" style="left:681px;top:597px;background:#f00"></div>
<div class="c" style="left:681px;top:602px;background:#0f0"></div>
<div class="c" style="left:681px;top:607px;background:#00f"></div>
<div class="c" style="left:681px;top:612px;background:#fff"></div>
<div class="n" style="left:288px;top:692px;width:40px;height:45px"><div class="t" style="width:38px"><i class="ic"></i><b>Multiply</b></div><div class="p" style="width:35px;height:35px;background:#000"></div><div class="s" style="left:36px;width:3px;height:35px"><u style="top:1.5px">A</u><u style="top:8.5px">B</u></div></div>
<div class="c" style="left:284px;top:707px;background:#000"></div>
<div class="c" style="left:328px;top:704px"></div>
<div class="c" style="left:328px;top:711px"></div>
<div class="n" style="left:355px;top:696px;width:40px;height:44px"><div class="t" style="width:38px"><i class="ic"></i><b>Multiply</b></div><div class="p" style="width:36px;height:34px;background:#000"></div><div class="s" style="left:37px;width:2px;height:34px"><u style="top:1.5px">A</u><u style="top:8.5px">B</u></div></div>
<div class="c" style="left:351px;top:711px;background:#000"></div>
<div class="c" style="left:395px;top:708px"></div>
<div class="c" style="left:395px;top:715px"></div>
<div class="n" style="left:421px;top:687px;width:40px;height:45px"><div class="t" style="width:38px"><i class="ic"></i><b>Multiply</b></div><div class="p" style="width:36px;height:35px;background:#000"><svg width="36" height="35" shape-rendering="crispEdges" style="position:absolute;left:0;top:0"><rect x="0" y="0" width="4" height="1" fill="#061212"/><rect x="4" y="0" width="1" height="1" fill="#0b2c30"/><rect x="5" y="0" width="8" height="1" fill="#061212"/><rect x="13" y="0" width="1" height="1" fill="#0b2c30"/><rect x="14" y="0" width="8" height="1" fill="#061212"/><rect x="22" y="0" width="1" height="1" fill="#0b2c30"/><rect x="23" y="0" width="8" height="1" fill="#061212"/><rect x="31" y="0" width="1" height="1" fill="#0b2c30"/><rect x="32" y="0" width="4" height="1" fill="#061212"/><rect x="0" y="1" width="4" height="1" fill="#061212"/><rect x="4" y="1" width="1" height="1" fill="#0b2c30"/><rect x="5" y="1" width="8" height="1" fill="#061212"/><rect x="13" y="1" width="1" height="1" fill="#0b2c30"/><rect x="14" y="1" width="8" height="1" fill="#061212"/><rect x="22" y="1" width="1" height="1" fill="#0b2c30"/><rect x="23" y="1" width="8" height="1" fill="#061212"/><rect x="31" y="1" width="1" height="1" fill="#0b2c30"/><rect x="32" y="1" width="4" height="1" fill="#061212"/><rect x="0" y="2" width="4" height="1" fill="#061212"/><rect x="4" y="2" width="1" height="1" fill="#0b2c30"/><rect x="5" y="2" width="8" height="1" fill="#061212"/><rect x="13" y="2" width="1" height="1" fill="#0b2c30"/><rect x="14" y="2" width="8" height="1" fill="#061212"/><rect x="22" y="2" width="1" height="1" fill="#0b2c30"/><rect x="23" y="2" width="8" height="1" fill="#061212"/><rect x="31" y="2" width="1" height="1" fill="#0b2c30"/><rect x="32" y="2" width="4" height="1" fill="#061212"/><rect x="0" y="3" width="36" height="1" fill="#0b2c30"/><rect x="0" y="4" width="4" height="1" fill="#061212"/><rect x="4" y="4" width="1" height="1" fill="#0b2c30"/><rect x="5" y="4" width="8" height="1" fill="#061212"/><rect x="13" y="4" width="1" height="1" fill="#0b2c30"/><rect x="14" y="4" width="8" height="1" fill="#061212"/><rect x="22" y="4" width="1" height="1" fill="#0b2c30"/><rect x="23" y="4" width="8" height="1" fill="#061212"/><rect x="31" y="4" width="1" height="1" fill="#0b2c30"/><rect x="32" y="4" width="4" height="1" fill="#061212"/><rect x="0" y="5" width="4" height="1" fill="#061212"/><rect x="4" y="5" width="1" height="1" fill="#0b2c30"/><rect x="5" y="5" width="8" height="1" fill="#061212"/><rect x="13" y="5" width="1" height="1" fill="#0b2c30"/><rect x="14" y="5" width="8" height="1" fill="#061212"/><rect x="22" y="5" width="1" height="1" fill="#0b2c30"/><rect x="23" y="5" width="8" height="1" fill="#061212"/><rect x="31" y="5" width="1" height="1" fill="#0b2c30"/><rect x="32" y="5" width="4" height="1" fill="#061212"/><rect x="0" y="6" width="4" height="1" fill="#061212"/><rect x="4" y="6" width="1" height="1" fill="#0b2c30"/><rect x="5" y="6" width="8" height="1" fill="#061212"/><rect x="13" y="6" width="1" height="1" fill="#0b2c30"/><rect x="14" y="6" width="8" height="1" fill="#061212"/><rect x="22" y="6" width="1" height="1" fill="#0b2c30"/><rect x="23" y="6" width="8" height="1" fill="#061212"/><rect x="31" y="6" width="1" height="1" fill="#0b2c30"/><rect x="32" y="6" width="4" height="1" fill="#061212"/><rect x="0" y="7" width="4" height="1" fill="#061212"/><rect x="4" y="7" width="1" height="1" fill="#0b2c30"/><rect x="5" y="7" width="8" height="1" fill="#061212"/><rect x="13" y="7" width="1" height="1" fill="#0b2c30"/><rect x="14" y="7" width="8" height="1" fill="#061212"/><rect x="22" y="7" width="1" height="1" fill="#0b2c30"/><rect x="23" y="7" width="8" height="1" fill="#061212"/><rect x="31" y="7" width="1" height="1" fill="#0b2c30"/><rect x="32" y="7" width="4" height="1" fill="#061212"/><rect x="0" y="8" width="4" height="1" fill="#061212"/><rect x="4" y="8" width="1" height="1" fill="#0b2c30"/><rect x="5" y="8" width="8" height="1" fill="#061212"/><rect x="13" y="8" width="1" height="1" fill="#0b2c30"/><rect x="14" y="8" width="8" height="1" fill="#061212"/><rect x="22" y="8" width="1" height="1" fill="#0b2c30"/><rect x="23" y="8" width="8" height="1" fill="#061212"/><rect x="31" y="8" width="1" height="1" fill="#0b2c30"/><rect x="32" y="8" width="4" height="1" fill="#061212"/><rect x="0" y="9" width="4" height="1" fill="#061212"/><rect x="4" y="9" width="1" height="1" fill="#0b2c30"/><rect x="5" y="9" width="8" height="1" fill="#061212"/><rect x="13" y="9" width="1" height="1" fill="#0b2c30"/><rect x="14" y="9" width="8" height="1" fill="#061212"/><rect x="22" y="9" width="1" height="1" fill="#0b2c30"/><rect x="23" y="9" width="8" height="1" fill="#061212"/><rect x="31" y="9" width="1" height="1" fill="#0b2c30"/><rect x="32" y="9" width="4" height="1" fill="#061212"/><rect x="0" y="10" width="36" height="1" fill="#0b2c30"/><rect x="0" y="11" width="4" height="1" fill="#061212"/><rect x="4" y="11" width="1" height="1" fill="#0b2c30"/><rect x="5" y="11" width="8" height="1" fill="#061212"/><rect x="13" y="11" width="1" height="1" fill="#0b2c30"/><rect x="14" y="11" width="8" height="1" fill="#061212"/><rect x="22" y="11" width="1" height="1" fill="#0b2c30"/><rect x="23" y="11" width="8" height="1" fill="#061212"/><rect x="31" y="11" width="1" height="1" fill="#0b2c30"/><rect x="32" y="11" width="4" height="1" fill="#061212"/><rect x="0" y="12" width="4" height="1" fill="#061212"/><rect x="4" y="12" width="1" height="1" fill="#0b2c30"/><rect x="5" y="12" width="8" height="1" fill="#061212"/><rect x="13" y="12" width="1" height="1" fill="#0b2c30"/><rect x="14" y="12" width="8" height="1" fill="#061212"/><rect x="22" y="12" width="1" height="1" fill="#0b2c30"/><rect x="23" y="12" width="8" height="1" fill="#061212"/><rect x="31" y="12" width="1" height="1" fill="#0b2c30"/><rect x="32" y="12" width="4" height="1" fill="#061212"/><rect x="0" y="13" width="4" height="1" fill="#061212"/><rect x="4" y="13" width="1" height="1" fill="#0b2c30"/><rect x="5" y="13" width="8" height="1" fill="#061212"/><rect x="13" y="13" width="1" height="1" fill="#0b2c30"/><rect x="14" y="13" width="8" height="1" fill="#061212"/><rect x="22" y="13" width="1" height="1" fill="#0b2c30"/><rect x="23" y="13" width="8" height="1" fill="#061212"/><rect x="31" y="13" width="1" height="1" fill="#0b2c30"/><rect x="32" y="13" width="4" height="1" fill="#061212"/><rect x="0" y="14" width="4" height="1" fill="#061212"/><rect x="4" y="14" width="1" height="1" fill="#0b2c30"/><rect x="5" y="14" width="8" height="1" fill="#061212"/><rect x="13" y="14" width="1" height="1" fill="#0b2c30"/><rect x="14" y="14" width="8" height="1" fill="#061212"/><rect x="22" y="14" width="1" height="1" fill="#0b2c30"/><rect x="23" y="14" width="8" height="1" fill="#061212"/><rect x="31" y="14" width="1" height="1" fill="#0b2c30"/><rect x="32" y="14" width="4" height="1" fill="#061212"/><rect x="0" y="15" width="4" height="1" fill="#061212"/><rect x="4" y="15" width="1" height="1" fill="#0b2c30"/><rect x="5" y="15" width="8" height="1" fill="#061212"/><rect x="13" y="15" width="1" height="1" fill="#0b2c30"/><rect x="14" y="15" width="8" height="1" fill="#061212"/><rect x="22" y="15" width="1" height="1" fill="#0b2c30"/><rect x="23" y="15" width="8" height="1" fill="#061212"/><rect x="31" y="15" width="1" height="1" fill="#0b2c30"/><rect x="32" y="15" width="4" height="1" fill="#061212"/><rect x="0" y="16" width="4" height="1" fill="#061212"/><rect x="4" y="16" width="1" height="1" fill="#0b2c30"/><rect x="5" y="16" width="8" height="1" fill="#061212"/><rect x="13" y="16" width="1" height="1" fill="#0b2c30"/><rect x="14" y="16" width="8" height="1" fill="#061212"/><rect x="22" y="16" width="1" height="1" fill="#0b2c30"/><rect x="23" y="16" width="8" height="1" fill="#061212"/><rect x="31" y="16" width="1" height="1" fill="#0b2c30"/><rect x="32" y="16" width="4" height="1" fill="#061212"/><rect x="0" y="17" width="36" height="1" fill="#0b2c30"/><rect x="0" y="18" width="4" height="1" fill="#061212"/><rect x="4" y="18" width="1" height="1" fill="#0b2c30"/><rect x="5" y="18" width="8" height="1" fill="#061212"/><rect x="13" y="18" width="1" height="1" fill="#0b2c30"/><rect x="14" y="18" width="8" height="1" fill="#061212"/><rect x="22" y="18" width="1" height="1" fill="#0b2c30"/><rect x="23" y="18" width="8" height="1" fill="#061212"/><rect x="31" y="18" width="1" height="1" fill="#0b2c30"/><rect x="32" y="18" width="4" height="1" fill="#061212"/><rect x="0" y="19" width="4" height="1" fill="#061212"/><rect x="4" y="19" width="1" height="1" fill="#0b2c30"/><rect x="5" y="19" width="8" height="1" fill="#061212"/><rect x="13" y="19" width="1" height="1" fill="#0b2c30"/><rect x="14" y="19" width="8" height="1" fill="#061212"/><rect x="22" y="19" width="1" height="1" fill="#0b2c30"/><rect x="23" y="19" width="8" height="1" fill="#061212"/><rect x="31" y="19" width="1" height="1" fill="#0b2c30"/><rect x="32" y="19" width="4" height="1" fill="#061212"/><rect x="0" y="20" width="4" height="1" fill="#061212"/><rect x="4" y="20" width="1" height="1" fill="#0b2c30"/><rect x="5" y="20" width="8" height="1" fill="#061212"/><rect x="13" y="20" width="1" height="1" fill="#0b2c30"/><rect x="14" y="20" width="8" height="1" fill="#061212"/><rect x="22" y="20" width="1" height="1" fill="#0b2c30"/><rect x="23" y="20" width="8" height="1" fill="#061212"/><rect x="31" y="20" width="1" height="1" fill="#0b2c30"/><rect x="32" y="20" width="4" height="1" fill="#061212"/><rect x="0" y="21" width="4" height="1" fill="#061212"/><rect x="4" y="21" width="1" height="1" fill="#0b2c30"/><rect x="5" y="21" width="8" height="1" fill="#061212"/><rect x="13" y="21" width="1" height="1" fill="#0b2c30"/><rect x="14" y="21" width="8" height="1" fill="#061212"/><rect x="22" y="21" width="1" height="1" fill="#0b2c30"/><rect x="23" y="21" width="8" height="1" fill="#061212"/><rect x="31" y="21" width="1" height="1" fill="#0b2c30"/><rect x="32" y="21" width="4" height="1" fill="#061212"/><rect x="0" y="22" width="4" height="1" fill="#061212"/><rect x="4" y="22" width="1" height="1" fill="#0b2c30"/><rect x="5" y="22" width="8" height="1" fill="#061212"/><rect x="13" y="22" width="1" height="1" fill="#0b2c30"/><rect x="14" y="22" width="8" height="1" fill="#061212"/><rect x="22" y="22" width="1" height="1" fill="#0b2c30"/><rect x="23" y="22" width="8" height="1" fill="#061212"/><rect x="31" y="22" width="1" height="1" fill="#0b2c30"/><rect x="32" y="22" width="4" height="1" fill="#061212"/><rect x="0" y="23" width="4" height="1" fill="#061212"/><rect x="4" y="23" width="1" height="1" fill="#0b2c30"/><rect x="5" y="23" width="8" height="1" fill="#061212"/><rect x="13" y="23" width="1" height="1" fill="#0b2c30"/><rect x="14" y="23" width="8" height="1" fill="#061212"/><rect x="22" y="23" width="1" height="1" fill="#0b2c30"/><rect x="23" y="23" width="8" height="1" fill="#061212"/><rect x="31" y="23" width="1" height="1" fill="#0b2c30"/><rect x="32" y="23" width="4" height="1" fill="#061212"/><rect x="0" y="24" width="36" height="1" fill="#0b2c30"/><rect x="0" y="25" width="4" height="1" fill="#061212"/><rect x="4" y="25" width="1" height="1" fill="#0b2c30"/><rect x="5" y="25" width="8" height="1" fill="#061212"/><rect x="13" y="25" width="1" height="1" fill="#0b2c30"/><rect x="14" y="25" width="8" height="1" fill="#061212"/><rect x="22" y="25" width="1" height="1" fill="#0b2c30"/><rect x="23" y="25" width="8" height="1" fill="#061212"/><rect x="31" y="25" width="1" height="1" fill="#0b2c30"/><rect x="32" y="25" width="4" height="1" fill="#061212"/><rect x="0" y="26" width="4" height="1" fill="#061212"/><rect x="4" y="26" width="1" height="1" fill="#0b2c30"/><rect x="5" y="26" width="8" height="1" fill="#061212"/><rect x="13" y="26" width="1" height="1" fill="#0b2c30"/><rect x="14" y="26" width="8" height="1" fill="#061212"/><rect x="22" y="26" width="1" height="1" fill="#0b2c30"/><rect x="23" y="26" width="8" height="1" fill="#061212"/><rect x="31" y="26" width="1" height="1" fill="#0b2c30"/><rect x="32" y="26" width="4" height="1" fill="#061212"/><rect x="0" y="27" width="4" height="1" fill="#061212"/><rect x="4" y="27" width="1" height="1" fill="#0b2c30"/><rect x="5" y="27" width="8" height="1" fill="#061212"/><rect x="13" y="27" width="1" height="1" fill="#0b2c30"/><rect x="14" y="27" width="8" height="1" fill="#061212"/><rect x="22" y="27" width="1" height="1" fill="#0b2c30"/><rect x="23" y="27" width="8" height="1" fill="#061212"/><rect x="31" y="27" width="1" height="1" fill="#0b2c30"/><rect x="32" y="27" width="4" height="1" fill="#061212"/><rect x="0" y="28" width="4" height="1" fill="#061212"/><rect x="4" y="28" width="1" height="1" fill="#0b2c30"/><rect x="5" y="28" width="8" height="1" fill="#061212"/><rect x="13" y="28" width="1" height="1" fill="#0b2c30"/><rect x="14" y="28" width="8" height="1" fill="#061212"/><rect x="22" y="28" width="1" height="1" fill="#0b2c30"/><rect x="23" y="28" width="8" height="1" fill="#061212"/><rect x="31" y="28" width="1" height="1" fill="#0b2c30"/><rect x="32" y="28" width="4" height="1" fill="#061212"/><rect x="0" y="29" width="4" height="1" fill="#061212"/><rect x="4" y="29" width="1" height="1" fill="#0b2c30"/><rect x="5" y="29" width="8" height="1" fill="#061212"/><rect x="13" y="29" width="1" height="1" fill="#0b2c30"/><rect x="14" y="29" width="8" height="1" fill="#061212"/><rect x="22" y="29" width="1" height="1" fill="#0b2c30"/><rect x="23" y="29" width="8" height="1" fill="#061212"/><rect x="31" y="29" width="1" height="1" fill="#0b2c30"/><rect x="32" y="29" width="4" height="1" fill="#061212"/><rect x="0" y="30" width="4" height="1" fill="#061212"/><rect x="4" y="30" width="1" height="1" fill="#0b2c30"/><rect x="5" y="30" width="8" height="1" fill="#061212"/><rect x="13" y="30" width="1" height="1" fill="#0b2c30"/><rect x="14" y="30" width="8" height="1" fill="#061212"/><rect x="22" y="30" width="1" height="1" fill="#0b2c30"/><rect x="23" y="30" width="8" height="1" fill="#061212"/><rect x="31" y="30" width="1" height="1" fill="#0b2c30"/><rect x="32" y="30" width="4" height="1" fill="#061212"/><rect x="0" y="31" width="36" height="1" fill="#0b2c30"/><rect x="0" y="32" width="4" height="1" fill="#061212"/><rect x="4" y="32" width="1" height="1" fill="#0b2c30"/><rect x="5" y="32" width="8" height="1" fill="#061212"/><rect x="13" y="32" width="1" height="1" fill="#0b2c30"/><rect x="14" y="32" width="8" height="1" fill="#061212"/><rect x="22" y="32" width="1" height="1" fill="#0b2c30"/><rect x="23" y="32" width="8" height="1" fill="#061212"/><rect x="31" y="32" width="1" height="1" fill="#0b2c30"/><rect x="32" y="32" width="4" height="1" fill="#061212"/><rect x="0" y="33" width="4" height="1" fill="#061212"/><rect x="4" y="33" width="1" height="1" fill="#0b2c30"/><rect x="5" y="33" width="8" height="1" fill="#061212"/><rect x="13" y="33" width="1" height="1" fill="#0b2c30"/><rect x="14" y="33" width="8" height="1" fill="#061212"/><rect x="22" y="33" width="1" height="1" fill="#0b2c30"/><rect x="23" y="33" width="8" height="1" fill="#061212"/><rect x="31" y="33" width="1" height="1" fill="#0b2c30"/><rect x="32" y="33" width="4" height="1" fill="#061212"/><rect x="0" y="34" width="4" height="1" fill="#061212"/><rect x="4" y="34" width="1" height="1" fill="#0b2c30"/><rect x="5" y="34" width="8" height="1" fill="#061212"/><rect x="13" y="34" width="1" height="1" fill="#0b2c30"/><rect x="14" y="34" width="8" height="1" fill="#061212"/><rect x="22" y="34" width="1" height="1" fill="#0b2c30"/><rect x="23" y="34" width="8" height="1" fill="#061212"/><rect x="31" y="34" width="1" height="1" fill="#0b2c30"/><rect x="32" y="34" width="4" height="1" fill="#061212"/></svg></div><div class="s" style="left:37px;width:2px;height:35px"><u style="top:1.5px">A</u><u style="top:8.5px">B</u></div></div>
<div class="c" style="left:417px;top:702px;background:#000"></div>
<div class="c" style="left:461px;top:699px"></div>
<div class="c" style="left:461px;top:706px"></div>
<div class="n" style="left:422px;top:743px;width:40px;height:44px"><div class="t" style="width:38px"><i class="ic"></i><b>Multiply</b></div><div class="p" style="width:35px;height:34px;background:#000"><svg width="35" height="34" shape-rendering="crispEdges" style="position:absolute;left:0;top:0"><rect x="0" y="0" width="1" height="1" fill="#125a64"/><rect x="1" y="0" width="6" height="1" fill="#38c0d0"/><rect x="7" y="0" width="4" height="1" fill="#0a2a2e"/><rect x="11" y="0" width="2" height="1" fill="#071c20"/><rect x="13" y="0" width="1" height="1" fill="#2090a0"/><rect x="14" y="0" width="5" height="1" fill="#0a2a2e"/><rect x="19" y="0" width="1" height="1" fill="#38c0d0"/><rect x="20" y="0" width="6" height="1" fill="#0a2a2e"/><rect x="26" y="0" width="1" height="1" fill="#2090a0"/><rect x="27" y="0" width="2" height="1" fill="#125a64"/><rect x="29" y="0" width="2" height="1" fill="#2090a0"/><rect x="31" y="0" width="1" height="1" fill="#125a64"/><rect x="32" y="0" width="1" height="1" fill="#071c20"/><rect x="33" y="0" width="2" height="1" fill="#125a64"/><rect x="0" y="1" width="1" height="1" fill="#38c0d0"/><rect x="1" y="1" width="5" height="1" fill="#0a2a2e"/><rect x="6" y="1" width="1" height="1" fill="#38c0d0"/><rect x="7" y="1" width="4" height="1" fill="#0a2a2e"/><rect x="11" y="1" width="2" height="1" fill="#071c20"/><rect x="13" y="1" width="1" height="1" fill="#125a64"/><rect x="14" y="1" width="5" height="1" fill="#0a2a2e"/><rect x="19" y="1" width="1" height="1" fill="#125a64"/><rect x="20" y="1" width="1" height="1" fill="#38c0d0"/><rect x="21" y="1" width="4" height="1" fill="#0a2a2e"/><rect x="25" y="1" width="1" height="1" fill="#38c0d0"/><rect x="26" y="1" width="2" height="1" fill="#071c20"/><rect x="28" y="1" width="1" height="1" fill="#125a64"/><rect x="29" y="1" width="2" height="1" fill="#2090a0"/><rect x="31" y="1" width="1" height="1" fill="#125a64"/><rect x="32" y="1" width="1" height="1" fill="#071c20"/><rect x="33" y="1" width="1" height="1" fill="#125a64"/><rect x="34" y="1" width="1" height="1" fill="#2090a0"/><rect x="0" y="2" width="1" height="1" fill="#125a64"/><rect x="1" y="2" width="1" height="1" fill="#071c20"/><rect x="2" y="2" width="4" height="1" fill="#0a2a2e"/><rect x="6" y="2" width="1" height="1" fill="#125a64"/><rect x="7" y="2" width="6" height="1" fill="#0a2a2e"/><rect x="13" y="2" width="1" height="1" fill="#125a64"/><rect x="14" y="2" width="6" height="1" fill="#0a2a2e"/><rect x="20" y="2" width="1" height="1" fill="#38c0d0"/><rect x="21" y="2" width="1" height="1" fill="#125a64"/><rect x="22" y="2" width="2" height="1" fill="#0a2a2e"/><rect x="24" y="2" width="2" height="1" fill="#125a64"/><rect x="26" y="2" width="3" height="1" fill="#071c20"/><rect x="29" y="2" width="1" height="1" fill="#125a64"/><rect x="30" y="2" width="1" height="1" fill="#2090a0"/><rect x="31" y="2" width="2" height="1" fill="#071c20"/><rect x="33" y="2" width="1" height="1" fill="#125a64"/><rect x="34" y="2" width="1" height="1" fill="#38c0d0"/><rect x="0" y="3" width="3" height="1" fill="#071c20"/><rect x="3" y="3" width="3" height="1" fill="#0a2a2e"/><rect x="6" y="3" width="1" height="1" fill="#071c20"/><rect x="7" y="3" width="1" height="1" fill="#2090a0"/><rect x="8" y="3" width="2" height="1" fill="#071c20"/><rect x="10" y="3" width="2" height="1" fill="#0a2a2e"/><rect x="12" y="3" width="1" height="1" fill="#125a64"/><rect x="13" y="3" width="7" height="1" fill="#38c0d0"/><rect x="20" y="3" width="1" height="1" fill="#2090a0"/><rect x="21" y="3" width="1" height="1" fill="#38c0d0"/><rect x="22" y="3" width="1" height="1" fill="#125a64"/><rect x="23" y="3" width="1" height="1" fill="#0a2a2e"/><rect x="24" y="3" width="1" height="1" fill="#38c0d0"/><rect x="25" y="3" width="2" height="1" fill="#125a64"/><rect x="27" y="3" width="3" height="1" fill="#071c20"/><rect x="30" y="3" width="1" height="1" fill="#2090a0"/><rect x="31" y="3" width="2" height="1" fill="#0a2a2e"/><rect x="33" y="3" width="2" height="1" fill="#38c0d0"/><rect x="0" y="4" width="4" height="1" fill="#071c20"/><rect x="4" y="4" width="1" height="1" fill="#0a2a2e"/><rect x="5" y="4" width="2" height="1" fill="#071c20"/><rect x="7" y="4" width="2" height="1" fill="#125a64"/><rect x="9" y="4" width="1" height="1" fill="#071c20"/><rect x="10" y="4" width="2" height="1" fill="#0a2a2e"/><rect x="12" y="4" width="1" height="1" fill="#38c0d0"/><rect x="13" y="4" width="1" height="1" fill="#125a64"/><rect x="14" y="4" width="5" height="1" fill="#0a2a2e"/><rect x="19" y="4" width="3" height="1" fill="#071c20"/><rect x="22" y="4" width="1" height="1" fill="#125a64"/><rect x="23" y="4" width="1" height="1" fill="#38c0d0"/><rect x="24" y="4" width="5" height="1" fill="#125a64"/><rect x="29" y="4" width="1" height="1" fill="#071c20"/><rect x="30" y="4" width="1" height="1" fill="#2090a0"/><rect x="31" y="4" width="1" height="1" fill="#0a2a2e"/><rect x="32" y="4" width="2" height="1" fill="#125a64"/><rect x="34" y="4" width="1" height="1" fill="#0a2a2e"/><rect x="0" y="5" width="4" height="1" fill="#071c20"/><rect x="4" y="5" width="1" height="1" fill="#0a2a2e"/><rect x="5" y="5" width="3" height="1" fill="#071c20"/><rect x="8" y="5" width="1" height="1" fill="#2090a0"/><rect x="9" y="5" width="1" height="1" fill="#071c20"/><rect x="10" y="5" width="1" height="1" fill="#0a2a2e"/><rect x="11" y="5" width="2" height="1" fill="#125a64"/><rect x="13" y="5" width="7" height="1" fill="#0a2a2e"/><rect x="20" y="5" width="1" height="1" fill="#071c20"/><rect x="21" y="5" width="2" height="1" fill="#0a2a2e"/><rect x="23" y="5" width="1" height="1" fill="#38c0d0"/><rect x="24" y="5" width="3" height="1" fill="#125a64"/><rect x="27" y="5" width="3" height="1" fill="#2090a0"/><rect x="30" y="5" width="1" height="1" fill="#125a64"/><rect x="31" y="5" width="1" height="1" fill="#38c0d0"/><rect x="32" y="5" width="1" height="1" fill="#125a64"/><rect x="33" y="5" width="2" height="1" fill="#0a2a2e"/><rect x="0" y="6" width="1" height="1" fill="#38c0d0"/><rect x="1" y="6" width="1" height="1" fill="#071c20"/><rect x="2" y="6" width="6" height="1" fill="#0a2a2e"/><rect x="8" y="6" width="2" height="1" fill="#38c0d0"/><rect x="10" y="6" width="2" height="1" fill="#125a64"/><rect x="12" y="6" width="1" height="1" fill="#38c0d0"/><rect x="13" y="6" width="1" height="1" fill="#125a64"/><rect x="14" y="6" width="9" height="1" fill="#0a2a2e"/><rect x="23" y="6" width="4" height="1" fill="#38c0d0"/><rect x="27" y="6" width="2" height="1" fill="#2090a0"/><rect x="29" y="6" width="1" height="1" fill="#125a64"/><rect x="30" y="6" width="1" height="1" fill="#071c20"/><rect x="31" y="6" width="1" height="1" fill="#2090a0"/><rect x="32" y="6" width="1" height="1" fill="#071c20"/><rect x="33" y="6" width="2" height="1" fill="#0a2a2e"/><rect x="0" y="7" width="1" height="1" fill="#0a2a2e"/><rect x="1" y="7" width="1" height="1" fill="#38c0d0"/><rect x="2" y="7" width="6" height="1" fill="#0a2a2e"/><rect x="8" y="7" width="1" height="1" fill="#38c0d0"/><rect x="9" y="7" width="2" height="1" fill="#0a2a2e"/><rect x="11" y="7" width="2" height="1" fill="#071c20"/><rect x="13" y="7" width="1" height="1" fill="#125a64"/><rect x="14" y="7" width="1" height="1" fill="#38c0d0"/><rect x="15" y="7" width="8" height="1" fill="#0a2a2e"/><rect x="23" y="7" width="1" height="1" fill="#125a64"/><rect x="24" y="7" width="3" height="1" fill="#38c0d0"/><rect x="27" y="7" width="1" height="1" fill="#2090a0"/><rect x="28" y="7" width="2" height="1" fill="#125a64"/><rect x="30" y="7" width="1" height="1" fill="#071c20"/><rect x="31" y="7" width="1" height="1" fill="#2090a0"/><rect x="32" y="7" width="2" height="1" fill="#071c20"/><rect x="34" y="7" width="1" height="1" fill="#0a2a2e"/><rect x="0" y="8" width="2" height="1" fill="#0a2a2e"/><rect x="2" y="8" width="1" height="1" fill="#38c0d0"/><rect x="3" y="8" width="1" height="1" fill="#125a64"/><rect x="4" y="8" width="3" height="1" fill="#0a2a2e"/><rect x="7" y="8" width="1" height="1" fill="#38c0d0"/><rect x="8" y="8" width="3" height="1" fill="#0a2a2e"/><rect x="11" y="8" width="3" height="1" fill="#071c20"/><rect x="14" y="8" width="1" height="1" fill="#125a64"/><rect x="15" y="8" width="1" height="1" fill="#38c0d0"/><rect x="16" y="8" width="7" height="1" fill="#0a2a2e"/><rect x="23" y="8" width="1" height="1" fill="#125a64"/><rect x="24" y="8" width="3" height="1" fill="#38c0d0"/><rect x="27" y="8" width="1" height="1" fill="#2090a0"/><rect x="28" y="8" width="2" height="1" fill="#125a64"/><rect x="30" y="8" width="1" height="1" fill="#071c20"/><rect x="31" y="8" width="1" height="1" fill="#2090a0"/><rect x="32" y="8" width="1" height="1" fill="#125a64"/><rect x="33" y="8" width="1" height="1" fill="#071c20"/><rect x="34" y="8" width="1" height="1" fill="#125a64"/><rect x="0" y="9" width="3" height="1" fill="#0a2a2e"/><rect x="3" y="9" width="1" height="1" fill="#38c0d0"/><rect x="4" y="9" width="1" height="1" fill="#125a64"/><rect x="5" y="9" width="1" height="1" fill="#0a2a2e"/><rect x="6" y="9" width="1" height="1" fill="#38c0d0"/><rect x="7" y="9" width="1" height="1" fill="#125a64"/><rect x="8" y="9" width="3" height="1" fill="#0a2a2e"/><rect x="11" y="9" width="3" height="1" fill="#071c20"/><rect x="14" y="9" width="1" height="1" fill="#125a64"/><rect x="15" y="9" width="1" height="1" fill="#38c0d0"/><rect x="16" y="9" width="1" height="1" fill="#125a64"/><rect x="17" y="9" width="2" height="1" fill="#38c0d0"/><rect x="19" y="9" width="1" height="1" fill="#125a64"/><rect x="20" y="9" width="2" height="1" fill="#0a2a2e"/><rect x="22" y="9" width="1" height="1" fill="#125a64"/><rect x="23" y="9" width="3" height="1" fill="#38c0d0"/><rect x="26" y="9" width="1" height="1" fill="#2090a0"/><rect x="27" y="9" width="4" height="1" fill="#125a64"/><rect x="31" y="9" width="1" height="1" fill="#2090a0"/><rect x="32" y="9" width="1" height="1" fill="#125a64"/><rect x="33" y="9" width="1" height="1" fill="#2090a0"/><rect x="34" y="9" width="1" height="1" fill="#125a64"/><rect x="0" y="10" width="2" height="1" fill="#0a2a2e"/><rect x="2" y="10" width="1" height="1" fill="#125a64"/><rect x="3" y="10" width="1" height="1" fill="#2090a0"/><rect x="4" y="10" width="2" height="1" fill="#125a64"/><rect x="6" y="10" width="1" height="1" fill="#38c0d0"/><rect x="7" y="10" width="1" height="1" fill="#125a64"/><rect x="8" y="10" width="6" height="1" fill="#0a2a2e"/><rect x="14" y="10" width="1" height="1" fill="#125a64"/><rect x="15" y="10" width="1" height="1" fill="#38c0d0"/><rect x="16" y="10" width="1" height="1" fill="#125a64"/><rect x="17" y="10" width="2" height="1" fill="#0a2a2e"/><rect x="19" y="10" width="3" height="1" fill="#38c0d0"/><rect x="22" y="10" width="1" height="1" fill="#125a64"/><rect x="23" y="10" width="1" height="1" fill="#071c20"/><rect x="24" y="10" width="1" height="1" fill="#0a2a2e"/><rect x="25" y="10" width="1" height="1" fill="#125a64"/><rect x="26" y="10" width="1" height="1" fill="#2090a0"/><rect x="27" y="10" width="4" height="1" fill="#125a64"/><rect x="31" y="10" width="2" height="1" fill="#2090a0"/><rect x="33" y="10" width="1" height="1" fill="#071c20"/><rect x="34" y="10" width="1" height="1" fill="#0a2a2e"/><rect x="0" y="11" width="1" height="1" fill="#125a64"/><rect x="1" y="11" width="1" height="1" fill="#38c0d0"/><rect x="2" y="11" width="1" height="1" fill="#125a64"/><rect x="3" y="11" width="2" height="1" fill="#071c20"/><rect x="5" y="11" width="1" height="1" fill="#125a64"/><rect x="6" y="11" width="3" height="1" fill="#38c0d0"/><rect x="9" y="11" width="1" height="1" fill="#125a64"/><rect x="10" y="11" width="4" height="1" fill="#0a2a2e"/><rect x="14" y="11" width="1" height="1" fill="#38c0d0"/><rect x="15" y="11" width="4" height="1" fill="#0a2a2e"/><rect x="19" y="11" width="1" height="1" fill="#071c20"/><rect x="20" y="11" width="1" height="1" fill="#2090a0"/><rect x="21" y="11" width="6" height="1" fill="#071c20"/><rect x="27" y="11" width="4" height="1" fill="#2090a0"/><rect x="31" y="11" width="1" height="1" fill="#38c0d0"/><rect x="32" y="11" width="3" height="1" fill="#0a2a2e"/><rect x="0" y="12" width="1" height="1" fill="#38c0d0"/><rect x="1" y="12" width="2" height="1" fill="#0a2a2e"/><rect x="3" y="12" width="3" height="1" fill="#071c20"/><rect x="6" y="12" width="1" height="1" fill="#125a64"/><rect x="7" y="12" width="1" height="1" fill="#0a2a2e"/><rect x="8" y="12" width="1" height="1" fill="#125a64"/><rect x="9" y="12" width="1" height="1" fill="#38c0d0"/><rect x="10" y="12" width="1" height="1" fill="#125a64"/><rect x="11" y="12" width="2" height="1" fill="#0a2a2e"/><rect x="13" y="12" width="2" height="1" fill="#125a64"/><rect x="15" y="12" width="3" height="1" fill="#0a2a2e"/><rect x="18" y="12" width="1" height="1" fill="#071c20"/><rect x="19" y="12" width="2" height="1" fill="#125a64"/><rect x="21" y="12" width="6" height="1" fill="#071c20"/><rect x="27" y="12" width="1" height="1" fill="#2090a0"/><rect x="28" y="12" width="1" height="1" fill="#125a64"/><rect x="29" y="12" width="2" height="1" fill="#071c20"/><rect x="31" y="12" width="1" height="1" fill="#38c0d0"/><rect x="32" y="12" width="1" height="1" fill="#125a64"/><rect x="33" y="12" width="2" height="1" fill="#0a2a2e"/><rect x="0" y="13" width="3" height="1" fill="#0a2a2e"/><rect x="3" y="13" width="3" height="1" fill="#071c20"/><rect x="6" y="13" width="1" height="1" fill="#125a64"/><rect x="7" y="13" width="3" height="1" fill="#0a2a2e"/><rect x="10" y="13" width="1" height="1" fill="#125a64"/><rect x="11" y="13" width="1" height="1" fill="#38c0d0"/><rect x="12" y="13" width="1" height="1" fill="#125a64"/><rect x="13" y="13" width="1" height="1" fill="#38c0d0"/><rect x="14" y="13" width="1" height="1" fill="#125a64"/><rect x="15" y="13" width="2" height="1" fill="#0a2a2e"/><rect x="17" y="13" width="1" height="1" fill="#125a64"/><rect x="18" y="13" width="1" height="1" fill="#38c0d0"/><rect x="19" y="13" width="1" height="1" fill="#2090a0"/><rect x="20" y="13" width="1" height="1" fill="#125a64"/><rect x="21" y="13" width="6" height="1" fill="#071c20"/><rect x="27" y="13" width="1" height="1" fill="#2090a0"/><rect x="28" y="13" width="3" height="1" fill="#071c20"/><rect x="31" y="13" width="1" height="1" fill="#0a2a2e"/><rect x="32" y="13" width="1" height="1" fill="#38c0d0"/><rect x="33" y="13" width="1" height="1" fill="#125a64"/><rect x="34" y="13" width="1" height="1" fill="#0a2a2e"/><rect x="0" y="14" width="3" height="1" fill="#0a2a2e"/><rect x="3" y="14" width="2" height="1" fill="#071c20"/><rect x="5" y="14" width="1" height="1" fill="#0a2a2e"/><rect x="6" y="14" width="1" height="1" fill="#125a64"/><rect x="7" y="14" width="5" height="1" fill="#0a2a2e"/><rect x="12" y="14" width="1" height="1" fill="#125a64"/><rect x="13" y="14" width="1" height="1" fill="#38c0d0"/><rect x="14" y="14" width="2" height="1" fill="#125a64"/><rect x="16" y="14" width="1" height="1" fill="#38c0d0"/><rect x="17" y="14" width="1" height="1" fill="#125a64"/><rect x="18" y="14" width="2" height="1" fill="#0a2a2e"/><rect x="20" y="14" width="1" height="1" fill="#125a64"/><rect x="21" y="14" width="6" height="1" fill="#071c20"/><rect x="27" y="14" width="1" height="1" fill="#2090a0"/><rect x="28" y="14" width="4" height="1" fill="#071c20"/><rect x="32" y="14" width="1" height="1" fill="#0a2a2e"/><rect x="33" y="14" width="1" height="1" fill="#38c0d0"/><rect x="34" y="14" width="1" height="1" fill="#125a64"/><rect x="0" y="15" width="1" height="1" fill="#071c20"/><rect x="1" y="15" width="5" height="1" fill="#0a2a2e"/><rect x="6" y="15" width="1" height="1" fill="#125a64"/><rect x="7" y="15" width="4" height="1" fill="#0a2a2e"/><rect x="11" y="15" width="2" height="1" fill="#071c20"/><rect x="13" y="15" width="1" height="1" fill="#125a64"/><rect x="14" y="15" width="1" height="1" fill="#38c0d0"/><rect x="15" y="15" width="5" height="1" fill="#0a2a2e"/><rect x="20" y="15" width="1" height="1" fill="#38c0d0"/><rect x="21" y="15" width="4" height="1" fill="#0a2a2e"/><rect x="25" y="15" width="2" height="1" fill="#071c20"/><rect x="27" y="15" width="1" height="1" fill="#2090a0"/><rect x="28" y="15" width="6" height="1" fill="#071c20"/><rect x="34" y="15" width="1" height="1" fill="#38c0d0"/><rect x="0" y="16" width="2" height="1" fill="#071c20"/><rect x="2" y="16" width="3" height="1" fill="#0a2a2e"/><rect x="5" y="16" width="2" height="1" fill="#125a64"/><rect x="7" y="16" width="4" height="1" fill="#0a2a2e"/><rect x="11" y="16" width="2" height="1" fill="#071c20"/><rect x="13" y="16" width="1" height="1" fill="#125a64"/><rect x="14" y="16" width="1" height="1" fill="#2090a0"/><rect x="15" y="16" width="1" height="1" fill="#125a64"/><rect x="16" y="16" width="4" height="1" fill="#0a2a2e"/><rect x="20" y="16" width="1" height="1" fill="#38c0d0"/><rect x="21" y="16" width="5" height="1" fill="#0a2a2e"/><rect x="26" y="16" width="1" height="1" fill="#071c20"/><rect x="27" y="16" width="1" height="1" fill="#125a64"/><rect x="28" y="16" width="6" height="1" fill="#071c20"/><rect x="34" y="16" width="1" height="1" fill="#0a2a2e"/><rect x="0" y="17" width="2" height="1" fill="#071c20"/><rect x="2" y="17" width="2" height="1" fill="#0a2a2e"/><rect x="4" y="17" width="1" height="1" fill="#125a64"/><rect x="5" y="17" width="2" height="1" fill="#38c0d0"/><rect x="7" y="17" width="4" height="1" fill="#0a2a2e"/><rect x="11" y="17" width="2" height="1" fill="#071c20"/><rect x="13" y="17" width="1" height="1" fill="#2090a0"/><rect x="14" y="17" width="1" height="1" fill="#071c20"/><rect x="15" y="17" width="1" height="1" fill="#38c0d0"/><rect x="16" y="17" width="1" height="1" fill="#125a64"/><rect x="17" y="17" width="3" height="1" fill="#0a2a2e"/><rect x="20" y="17" width="1" height="1" fill="#38c0d0"/><rect x="21" y="17" width="3" height="1" fill="#0a2a2e"/><rect x="24" y="17" width="2" height="1" fill="#071c20"/><rect x="26" y="17" width="1" height="1" fill="#125a64"/><rect x="27" y="17" width="7" height="1" fill="#071c20"/><rect x="34" y="17" width="1" height="1" fill="#125a64"/><rect x="0" y="18" width="1" height="1" fill="#071c20"/><rect x="1" y="18" width="2" height="1" fill="#0a2a2e"/><rect x="3" y="18" width="1" height="1" fill="#38c0d0"/><rect x="4" y="18" width="1" height="1" fill="#125a64"/><rect x="5" y="18" width="2" height="1" fill="#0a2a2e"/><rect x="7" y="18" width="3" height="1" fill="#38c0d0"/><rect x="10" y="18" width="3" height="1" fill="#2090a0"/><rect x="13" y="18" width="2" height="1" fill="#071c20"/><rect x="15" y="18" width="1" height="1" fill="#0a2a2e"/><rect x="16" y="18" width="1" height="1" fill="#125a64"/><rect x="17" y="18" width="1" height="1" fill="#38c0d0"/><rect x="18" y="18" width="2" height="1" fill="#125a64"/><rect x="20" y="18" width="1" height="1" fill="#38c0d0"/><rect x="21" y="18" width="1" height="1" fill="#125a64"/><rect x="22" y="18" width="2" height="1" fill="#0a2a2e"/><rect x="24" y="18" width="2" height="1" fill="#071c20"/><rect x="26" y="18" width="1" height="1" fill="#2090a0"/><rect x="27" y="18" width="4" height="1" fill="#071c20"/><rect x="31" y="18" width="2" height="1" fill="#0a2a2e"/><rect x="33" y="18" width="2" height="1" fill="#38c0d0"/><rect x="0" y="19" width="2" height="1" fill="#0a2a2e"/><rect x="2" y="19" width="1" height="1" fill="#38c0d0"/><rect x="3" y="19" width="4" height="1" fill="#0a2a2e"/><rect x="7" y="19" width="2" height="1" fill="#125a64"/><rect x="9" y="19" width="1" height="1" fill="#0a2a2e"/><rect x="10" y="19" width="2" height="1" fill="#071c20"/><rect x="12" y="19" width="1" height="1" fill="#125a64"/><rect x="13" y="19" width="2" height="1" fill="#071c20"/><rect x="15" y="19" width="2" height="1" fill="#0a2a2e"/><rect x="17" y="19" width="1" height="1" fill="#125a64"/><rect x="18" y="19" width="1" height="1" fill="#38c0d0"/><rect x="19" y="19" width="1" height="1" fill="#125a64"/><rect x="20" y="19" width="1" height="1" fill="#0a2a2e"/><rect x="21" y="19" width="1" height="1" fill="#125a64"/><rect x="22" y="19" width="1" height="1" fill="#38c0d0"/><rect x="23" y="19" width="3" height="1" fill="#071c20"/><rect x="26" y="19" width="1" height="1" fill="#2090a0"/><rect x="27" y="19" width="3" height="1" fill="#071c20"/><rect x="30" y="19" width="2" height="1" fill="#0a2a2e"/><rect x="32" y="19" width="1" height="1" fill="#38c0d0"/><rect x="33" y="19" width="2" height="1" fill="#0a2a2e"/><rect x="0" y="20" width="1" height="1" fill="#125a64"/><rect x="1" y="20" width="1" height="1" fill="#38c0d0"/><rect x="2" y="20" width="6" height="1" fill="#0a2a2e"/><rect x="8" y="20" width="1" height="1" fill="#125a64"/><rect x="9" y="20" width="4" height="1" fill="#071c20"/><rect x="13" y="20" width="1" height="1" fill="#2090a0"/><rect x="14" y="20" width="1" height="1" fill="#071c20"/><rect x="15" y="20" width="2" height="1" fill="#0a2a2e"/><rect x="17" y="20" width="1" height="1" fill="#125a64"/><rect x="18" y="20" width="5" height="1" fill="#0a2a2e"/><rect x="23" y="20" width="2" height="1" fill="#2090a0"/><rect x="25" y="20" width="1" height="1" fill="#125a64"/><rect x="26" y="20" width="1" height="1" fill="#2090a0"/><rect x="27" y="20" width="3" height="1" fill="#071c20"/><rect x="30" y="20" width="1" height="1" fill="#38c0d0"/><rect x="31" y="20" width="1" height="1" fill="#125a64"/><rect x="32" y="20" width="3" height="1" fill="#0a2a2e"/><rect x="0" y="21" width="1" height="1" fill="#125a64"/><rect x="1" y="21" width="2" height="1" fill="#38c0d0"/><rect x="3" y="21" width="5" height="1" fill="#0a2a2e"/><rect x="8" y="21" width="1" height="1" fill="#125a64"/><rect x="9" y="21" width="4" height="1" fill="#071c20"/><rect x="13" y="21" width="1" height="1" fill="#2090a0"/><rect x="14" y="21" width="1" height="1" fill="#071c20"/><rect x="15" y="21" width="1" height="1" fill="#0a2a2e"/><rect x="16" y="21" width="2" height="1" fill="#125a64"/><rect x="18" y="21" width="5" height="1" fill="#0a2a2e"/><rect x="23" y="21" width="1" height="1" fill="#071c20"/><rect x="24" y="21" width="1" height="1" fill="#125a64"/><rect x="25" y="21" width="2" height="1" fill="#2090a0"/><rect x="27" y="21" width="1" height="1" fill="#071c20"/><rect x="28" y="21" width="1" height="1" fill="#125a64"/><rect x="29" y="21" width="1" height="1" fill="#2090a0"/><rect x="30" y="21" width="1" height="1" fill="#125a64"/><rect x="31" y="21" width="4" height="1" fill="#0a2a2e"/><rect x="0" y="22" width="2" height="1" fill="#071c20"/><rect x="2" y="22" width="1" height="1" fill="#125a64"/><rect x="3" y="22" width="1" height="1" fill="#38c0d0"/><rect x="4" y="22" width="3" height="1" fill="#0a2a2e"/><rect x="7" y="22" width="1" height="1" fill="#071c20"/><rect x="8" y="22" width="1" height="1" fill="#38c0d0"/><rect x="9" y="22" width="4" height="1" fill="#071c20"/><rect x="13" y="22" width="1" height="1" fill="#125a64"/><rect x="14" y="22" width="1" height="1" fill="#2090a0"/><rect x="15" y="22" width="1" height="1" fill="#071c20"/><rect x="16" y="22" width="1" height="1" fill="#38c0d0"/><rect x="17" y="22" width="7" height="1" fill="#0a2a2e"/><rect x="24" y="22" width="3" height="1" fill="#125a64"/><rect x="27" y="22" width="2" height="1" fill="#2090a0"/><rect x="29" y="22" width="1" height="1" fill="#125a64"/><rect x="30" y="22" width="3" height="1" fill="#071c20"/><rect x="33" y="22" width="2" height="1" fill="#0a2a2e"/><rect x="0" y="23" width="3" height="1" fill="#071c20"/><rect x="3" y="23" width="1" height="1" fill="#0a2a2e"/><rect x="4" y="23" width="1" height="1" fill="#38c0d0"/><rect x="5" y="23" width="1" height="1" fill="#125a64"/><rect x="6" y="23" width="1" height="1" fill="#0a2a2e"/><rect x="7" y="23" width="1" height="1" fill="#071c20"/><rect x="8" y="23" width="1" height="1" fill="#2090a0"/><rect x="9" y="23" width="5" height="1" fill="#071c20"/><rect x="14" y="23" width="2" height="1" fill="#2090a0"/><rect x="16" y="23" width="1" height="1" fill="#125a64"/><rect x="17" y="23" width="1" height="1" fill="#071c20"/><rect x="18" y="23" width="4" height="1" fill="#0a2a2e"/><rect x="22" y="23" width="1" height="1" fill="#125a64"/><rect x="23" y="23" width="3" height="1" fill="#38c0d0"/><rect x="26" y="23" width="2" height="1" fill="#071c20"/><rect x="28" y="23" width="1" height="1" fill="#125a64"/><rect x="29" y="23" width="1" height="1" fill="#2090a0"/><rect x="30" y="23" width="4" height="1" fill="#071c20"/><rect x="34" y="23" width="1" height="1" fill="#0a2a2e"/><rect x="0" y="24" width="3" height="1" fill="#071c20"/><rect x="3" y="24" width="2" height="1" fill="#0a2a2e"/><rect x="5" y="24" width="2" height="1" fill="#38c0d0"/><rect x="7" y="24" width="1" height="1" fill="#125a64"/><rect x="8" y="24" width="1" height="1" fill="#2090a0"/><rect x="9" y="24" width="5" height="1" fill="#071c20"/><rect x="14" y="24" width="4" height="1" fill="#2090a0"/><rect x="18" y="24" width="3" height="1" fill="#38c0d0"/><rect x="21" y="24" width="3" height="1" fill="#125a64"/><rect x="24" y="24" width="1" height="1" fill="#0a2a2e"/><rect x="25" y="24" width="1" height="1" fill="#38c0d0"/><rect x="26" y="24" width="1" height="1" fill="#0a2a2e"/><rect x="27" y="24" width="3" height="1" fill="#071c20"/><rect x="30" y="24" width="1" height="1" fill="#2090a0"/><rect x="31" y="24" width="3" height="1" fill="#071c20"/><rect x="34" y="24" width="1" height="1" fill="#0a2a2e"/><rect x="0" y="25" width="3" height="1" fill="#071c20"/><rect x="3" y="25" width="3" height="1" fill="#0a2a2e"/><rect x="6" y="25" width="1" height="1" fill="#125a64"/><rect x="7" y="25" width="1" height="1" fill="#38c0d0"/><rect x="8" y="25" width="1" height="1" fill="#2090a0"/><rect x="9" y="25" width="1" height="1" fill="#125a64"/><rect x="10" y="25" width="4" height="1" fill="#071c20"/><rect x="14" y="25" width="1" height="1" fill="#2090a0"/><rect x="15" y="25" width="3" height="1" fill="#125a64"/><rect x="18" y="25" width="2" height="1" fill="#38c0d0"/><rect x="20" y="25" width="1" height="1" fill="#125a64"/><rect x="21" y="25" width="3" height="1" fill="#0a2a2e"/><rect x="24" y="25" width="2" height="1" fill="#125a64"/><rect x="26" y="25" width="1" height="1" fill="#0a2a2e"/><rect x="27" y="25" width="4" height="1" fill="#071c20"/><rect x="31" y="25" width="1" height="1" fill="#2090a0"/><rect x="32" y="25" width="1" height="1" fill="#125a64"/><rect x="33" y="25" width="1" height="1" fill="#071c20"/><rect x="34" y="25" width="1" height="1" fill="#125a64"/><rect x="0" y="26" width="3" height="1" fill="#071c20"/><rect x="3" y="26" width="1" height="1" fill="#0a2a2e"/><rect x="4" y="26" width="1" height="1" fill="#125a64"/><rect x="5" y="26" width="1" height="1" fill="#38c0d0"/><rect x="6" y="26" width="1" height="1" fill="#125a64"/><rect x="7" y="26" width="2" height="1" fill="#0a2a2e"/><rect x="9" y="26" width="1" height="1" fill="#125a64"/><rect x="10" y="26" width="1" height="1" fill="#38c0d0"/><rect x="11" y="26" width="2" height="1" fill="#071c20"/><rect x="13" y="26" width="1" height="1" fill="#2090a0"/><rect x="14" y="26" width="2" height="1" fill="#071c20"/><rect x="16" y="26" width="2" height="1" fill="#0a2a2e"/><rect x="18" y="26" width="3" height="1" fill="#125a64"/><rect x="21" y="26" width="3" height="1" fill="#0a2a2e"/><rect x="24" y="26" width="1" height="1" fill="#125a64"/><rect x="25" y="26" width="2" height="1" fill="#0a2a2e"/><rect x="27" y="26" width="5" height="1" fill="#071c20"/><rect x="32" y="26" width="1" height="1" fill="#2090a0"/><rect x="33" y="26" width="1" height="1" fill="#125a64"/><rect x="34" y="26" width="1" height="1" fill="#2090a0"/><rect x="0" y="27" width="3" height="1" fill="#2090a0"/><rect x="3" y="27" width="1" height="1" fill="#38c0d0"/><rect x="4" y="27" width="1" height="1" fill="#125a64"/><rect x="5" y="27" width="5" height="1" fill="#0a2a2e"/><rect x="10" y="27" width="1" height="1" fill="#125a64"/><rect x="11" y="27" width="1" height="1" fill="#2090a0"/><rect x="12" y="27" width="2" height="1" fill="#125a64"/><rect x="14" y="27" width="6" height="1" fill="#0a2a2e"/><rect x="20" y="27" width="1" height="1" fill="#38c0d0"/><rect x="21" y="27" width="1" height="1" fill="#125a64"/><rect x="22" y="27" width="2" height="1" fill="#0a2a2e"/><rect x="24" y="27" width="1" height="1" fill="#38c0d0"/><rect x="25" y="27" width="1" height="1" fill="#0a2a2e"/><rect x="26" y="27" width="7" height="1" fill="#071c20"/><rect x="33" y="27" width="1" height="1" fill="#2090a0"/><rect x="34" y="27" width="1" height="1" fill="#071c20"/><rect x="0" y="28" width="3" height="1" fill="#071c20"/><rect x="3" y="28" width="1" height="1" fill="#38c0d0"/><rect x="4" y="28" width="7" height="1" fill="#0a2a2e"/><rect x="11" y="28" width="1" height="1" fill="#2090a0"/><rect x="12" y="28" width="2" height="1" fill="#125a64"/><rect x="14" y="28" width="6" height="1" fill="#0a2a2e"/><rect x="20" y="28" width="1" height="1" fill="#125a64"/><rect x="21" y="28" width="1" height="1" fill="#38c0d0"/><rect x="22" y="28" width="2" height="1" fill="#125a64"/><rect x="24" y="28" width="1" height="1" fill="#38c0d0"/><rect x="25" y="28" width="1" height="1" fill="#0a2a2e"/><rect x="26" y="28" width="7" height="1" fill="#071c20"/><rect x="33" y="28" width="2" height="1" fill="#2090a0"/><rect x="0" y="29" width="3" height="1" fill="#071c20"/><rect x="3" y="29" width="1" height="1" fill="#125a64"/><rect x="4" y="29" width="6" height="1" fill="#0a2a2e"/><rect x="10" y="29" width="1" height="1" fill="#38c0d0"/><rect x="11" y="29" width="1" height="1" fill="#125a64"/><rect x="12" y="29" width="1" height="1" fill="#071c20"/><rect x="13" y="29" width="2" height="1" fill="#125a64"/><rect x="15" y="29" width="5" height="1" fill="#0a2a2e"/><rect x="20" y="29" width="1" height="1" fill="#125a64"/><rect x="21" y="29" width="2" height="1" fill="#38c0d0"/><rect x="23" y="29" width="1" height="1" fill="#125a64"/><rect x="24" y="29" width="1" height="1" fill="#38c0d0"/><rect x="25" y="29" width="1" height="1" fill="#0a2a2e"/><rect x="26" y="29" width="6" height="1" fill="#071c20"/><rect x="32" y="29" width="2" height="1" fill="#125a64"/><rect x="34" y="29" width="1" height="1" fill="#071c20"/><rect x="0" y="30" width="4" height="1" fill="#071c20"/><rect x="4" y="30" width="1" height="1" fill="#2090a0"/><rect x="5" y="30" width="1" height="1" fill="#071c20"/><rect x="6" y="30" width="3" height="1" fill="#0a2a2e"/><rect x="9" y="30" width="1" height="1" fill="#38c0d0"/><rect x="10" y="30" width="1" height="1" fill="#125a64"/><rect x="11" y="30" width="1" height="1" fill="#0a2a2e"/><rect x="12" y="30" width="1" height="1" fill="#071c20"/><rect x="13" y="30" width="1" height="1" fill="#0a2a2e"/><rect x="14" y="30" width="1" height="1" fill="#38c0d0"/><rect x="15" y="30" width="5" height="1" fill="#0a2a2e"/><rect x="20" y="30" width="1" height="1" fill="#125a64"/><rect x="21" y="30" width="3" height="1" fill="#38c0d0"/><rect x="24" y="30" width="1" height="1" fill="#125a64"/><rect x="25" y="30" width="1" height="1" fill="#0a2a2e"/><rect x="26" y="30" width="5" height="1" fill="#071c20"/><rect x="31" y="30" width="1" height="1" fill="#0a2a2e"/><rect x="32" y="30" width="1" height="1" fill="#125a64"/><rect x="33" y="30" width="1" height="1" fill="#0a2a2e"/><rect x="34" y="30" width="1" height="1" fill="#071c20"/><rect x="0" y="31" width="4" height="1" fill="#071c20"/><rect x="4" y="31" width="1" height="1" fill="#2090a0"/><rect x="5" y="31" width="1" height="1" fill="#125a64"/><rect x="6" y="31" width="2" height="1" fill="#0a2a2e"/><rect x="8" y="31" width="1" height="1" fill="#38c0d0"/><rect x="9" y="31" width="6" height="1" fill="#0a2a2e"/><rect x="15" y="31" width="1" height="1" fill="#38c0d0"/><rect x="16" y="31" width="3" height="1" fill="#0a2a2e"/><rect x="19" y="31" width="2" height="1" fill="#125a64"/><rect x="21" y="31" width="3" height="1" fill="#38c0d0"/><rect x="24" y="31" width="1" height="1" fill="#125a64"/><rect x="25" y="31" width="1" height="1" fill="#0a2a2e"/><rect x="26" y="31" width="5" height="1" fill="#071c20"/><rect x="31" y="31" width="1" height="1" fill="#38c0d0"/><rect x="32" y="31" width="2" height="1" fill="#0a2a2e"/><rect x="34" y="31" width="1" height="1" fill="#071c20"/><rect x="0" y="32" width="2" height="1" fill="#2090a0"/><rect x="2" y="32" width="2" height="1" fill="#125a64"/><rect x="4" y="32" width="2" height="1" fill="#2090a0"/><rect x="6" y="32" width="1" height="1" fill="#125a64"/><rect x="7" y="32" width="1" height="1" fill="#38c0d0"/><rect x="8" y="32" width="8" height="1" fill="#0a2a2e"/><rect x="16" y="32" width="1" height="1" fill="#38c0d0"/><rect x="17" y="32" width="2" height="1" fill="#0a2a2e"/><rect x="19" y="32" width="2" height="1" fill="#125a64"/><rect x="21" y="32" width="5" height="1" fill="#38c0d0"/><rect x="26" y="32" width="1" height="1" fill="#2090a0"/><rect x="27" y="32" width="2" height="1" fill="#125a64"/><rect x="29" y="32" width="1" height="1" fill="#071c20"/><rect x="30" y="32" width="1" height="1" fill="#38c0d0"/><rect x="31" y="32" width="4" height="1" fill="#0a2a2e"/><rect x="0" y="33" width="3" height="1" fill="#071c20"/><rect x="3" y="33" width="1" height="1" fill="#125a64"/><rect x="4" y="33" width="2" height="1" fill="#2090a0"/><rect x="6" y="33" width="1" height="1" fill="#38c0d0"/><rect x="7" y="33" width="1" height="1" fill="#125a64"/><rect x="8" y="33" width="4" height="1" fill="#0a2a2e"/><rect x="12" y="33" width="1" height="1" fill="#071c20"/><rect x="13" y="33" width="4" height="1" fill="#0a2a2e"/><rect x="17" y="33" width="1" height="1" fill="#38c0d0"/><rect x="18" y="33" width="1" height="1" fill="#0a2a2e"/><rect x="19" y="33" width="2" height="1" fill="#125a64"/><rect x="21" y="33" width="1" height="1" fill="#38c0d0"/><rect x="22" y="33" width="1" height="1" fill="#125a64"/><rect x="23" y="33" width="3" height="1" fill="#0a2a2e"/><rect x="26" y="33" width="2" height="1" fill="#071c20"/><rect x="28" y="33" width="2" height="1" fill="#125a64"/><rect x="30" y="33" width="1" height="1" fill="#38c0d0"/><rect x="31" y="33" width="3" height="1" fill="#0a2a2e"/><rect x="34" y="33" width="1" height="1" fill="#071c20"/></svg></div><div class="s" style="left:36px;width:3px;height:34px"><u style="top:1.5px">A</u><u style="top:8.5px">B</u></div></div>
<div class="c" style="left:418px;top:758px;background:#000"></div>
<div class="c" style="left:462px;top:755px"></div>
<div class="c" style="left:462px;top:762px"></div>
<div class="n" style="left:480px;top:688px;width:45px;height:43px"><div class="t" style="width:43px"><i class="ic y"></i><b>Texture Sample</b></div><div class="p" style="width:33px;height:33px;background:#000"></div><div class="s" style="left:34px;width:10px;height:33px"><u style="top:10.5px">UVs</u></div></div>
<div class="c" style="left:476px;top:699px;background:#000"></div>
<div class="c" style="left:476px;top:704px;background:#f00"></div>
<div class="c" style="left:476px;top:709px;background:#0f0"></div>
<div class="c" style="left:476px;top:714px;background:#00f"></div>
<div class="c" style="left:476px;top:719px;background:#fff"></div>
<div class="c" style="left:525px;top:709px"></div>
<div class="n" style="left:480px;top:743px;width:45px;height:43px"><div class="t" style="width:43px"><i class="ic y"></i><b>Texture Sample</b></div><div class="p" style="width:35px;height:33px;background:#000"><svg width="35" height="33" shape-rendering="crispEdges" style="position:absolute;left:0;top:0"><rect x="0" y="0" width="5" height="1" fill="#0a0a0a"/><rect x="5" y="0" width="2" height="1" fill="#161616"/><rect x="7" y="0" width="9" height="1" fill="#0a0a0a"/><rect x="16" y="0" width="1" height="1" fill="#161616"/><rect x="17" y="0" width="11" height="1" fill="#0a0a0a"/><rect x="28" y="0" width="2" height="1" fill="#161616"/><rect x="30" y="0" width="5" height="1" fill="#0a0a0a"/><rect x="0" y="1" width="2" height="1" fill="#0a0a0a"/><rect x="2" y="1" width="5" height="1" fill="#161616"/><rect x="7" y="1" width="28" height="1" fill="#0a0a0a"/><rect x="0" y="2" width="11" height="1" fill="#161616"/><rect x="11" y="2" width="3" height="1" fill="#0a0a0a"/><rect x="14" y="2" width="1" height="1" fill="#161616"/><rect x="15" y="2" width="3" height="1" fill="#0a0a0a"/><rect x="18" y="2" width="1" height="1" fill="#161616"/><rect x="19" y="2" width="13" height="1" fill="#0a0a0a"/><rect x="32" y="2" width="3" height="1" fill="#161616"/><rect x="0" y="3" width="1" height="1" fill="#0a0a0a"/><rect x="1" y="3" width="2" height="1" fill="#161616"/><rect x="3" y="3" width="32" height="1" fill="#0a0a0a"/><rect x="0" y="4" width="2" height="1" fill="#0a0a0a"/><rect x="2" y="4" width="1" height="1" fill="#161616"/><rect x="3" y="4" width="32" height="1" fill="#0a0a0a"/><rect x="0" y="5" width="1" height="1" fill="#161616"/><rect x="1" y="5" width="5" height="1" fill="#0a0a0a"/><rect x="6" y="5" width="1" height="1" fill="#161616"/><rect x="7" y="5" width="28" height="1" fill="#0a0a0a"/><rect x="0" y="6" width="1" height="1" fill="#161616"/><rect x="1" y="6" width="4" height="1" fill="#0a0a0a"/><rect x="5" y="6" width="2" height="1" fill="#161616"/><rect x="7" y="6" width="5" height="1" fill="#0a0a0a"/><rect x="12" y="6" width="4" height="1" fill="#161616"/><rect x="16" y="6" width="6" height="1" fill="#0a0a0a"/><rect x="22" y="6" width="5" height="1" fill="#161616"/><rect x="27" y="6" width="3" height="1" fill="#0a0a0a"/><rect x="30" y="6" width="1" height="1" fill="#161616"/><rect x="31" y="6" width="4" height="1" fill="#0a0a0a"/><rect x="0" y="7" width="1" height="1" fill="#161616"/><rect x="1" y="7" width="5" height="1" fill="#0a0a0a"/><rect x="6" y="7" width="1" height="1" fill="#161616"/><rect x="7" y="7" width="7" height="1" fill="#0a0a0a"/><rect x="14" y="7" width="1" height="1" fill="#161616"/><rect x="15" y="7" width="7" height="1" fill="#0a0a0a"/><rect x="22" y="7" width="1" height="1" fill="#161616"/><rect x="23" y="7" width="7" height="1" fill="#0a0a0a"/><rect x="30" y="7" width="1" height="1" fill="#161616"/><rect x="31" y="7" width="4" height="1" fill="#0a0a0a"/><rect x="0" y="8" width="2" height="1" fill="#0a0a0a"/><rect x="2" y="8" width="1" height="1" fill="#161616"/><rect x="3" y="8" width="11" height="1" fill="#0a0a0a"/><rect x="14" y="8" width="1" height="1" fill="#161616"/><rect x="15" y="8" width="20" height="1" fill="#0a0a0a"/><rect x="0" y="9" width="6" height="1" fill="#0a0a0a"/><rect x="6" y="9" width="1" height="1" fill="#161616"/><rect x="7" y="9" width="15" height="1" fill="#0a0a0a"/><rect x="22" y="9" width="1" height="1" fill="#161616"/><rect x="23" y="9" width="7" height="1" fill="#0a0a0a"/><rect x="30" y="9" width="1" height="1" fill="#161616"/><rect x="31" y="9" width="4" height="1" fill="#0a0a0a"/><rect x="0" y="10" width="6" height="1" fill="#0a0a0a"/><rect x="6" y="10" width="1" height="1" fill="#161616"/><rect x="7" y="10" width="15" height="1" fill="#0a0a0a"/><rect x="22" y="10" width="1" height="1" fill="#161616"/><rect x="23" y="10" width="6" height="1" fill="#0a0a0a"/><rect x="29" y="10" width="3" height="1" fill="#161616"/><rect x="32" y="10" width="3" height="1" fill="#0a0a0a"/><rect x="0" y="11" width="6" height="1" fill="#0a0a0a"/><rect x="6" y="11" width="1" height="1" fill="#161616"/><rect x="7" y="11" width="28" height="1" fill="#0a0a0a"/><rect x="0" y="12" width="4" height="1" fill="#0a0a0a"/><rect x="4" y="12" width="3" height="1" fill="#161616"/><rect x="7" y="12" width="4" height="1" fill="#0a0a0a"/><rect x="11" y="12" width="2" height="1" fill="#161616"/><rect x="13" y="12" width="21" height="1" fill="#0a0a0a"/><rect x="34" y="12" width="1" height="1" fill="#161616"/><rect x="0" y="13" width="16" height="1" fill="#0a0a0a"/><rect x="16" y="13" width="1" height="1" fill="#161616"/><rect x="17" y="13" width="18" height="1" fill="#0a0a0a"/><rect x="0" y="14" width="1" height="1" fill="#161616"/><rect x="1" y="14" width="15" height="1" fill="#0a0a0a"/><rect x="16" y="14" width="1" height="1" fill="#161616"/><rect x="17" y="14" width="3" height="1" fill="#0a0a0a"/><rect x="20" y="14" width="1" height="1" fill="#161616"/><rect x="21" y="14" width="14" height="1" fill="#0a0a0a"/><rect x="0" y="15" width="20" height="1" fill="#0a0a0a"/><rect x="20" y="15" width="1" height="1" fill="#161616"/><rect x="21" y="15" width="14" height="1" fill="#0a0a0a"/><rect x="0" y="16" width="6" height="1" fill="#0a0a0a"/><rect x="6" y="16" width="1" height="1" fill="#161616"/><rect x="7" y="16" width="3" height="1" fill="#0a0a0a"/><rect x="10" y="16" width="1" height="1" fill="#161616"/><rect x="11" y="16" width="9" height="1" fill="#0a0a0a"/><rect x="20" y="16" width="1" height="1" fill="#161616"/><rect x="21" y="16" width="9" height="1" fill="#0a0a0a"/><rect x="30" y="16" width="1" height="1" fill="#161616"/><rect x="31" y="16" width="4" height="1" fill="#0a0a0a"/><rect x="0" y="17" width="2" height="1" fill="#0a0a0a"/><rect x="2" y="17" width="1" height="1" fill="#161616"/><rect x="3" y="17" width="7" height="1" fill="#0a0a0a"/><rect x="10" y="17" width="3" height="1" fill="#161616"/><rect x="13" y="17" width="7" height="1" fill="#0a0a0a"/><rect x="20" y="17" width="1" height="1" fill="#161616"/><rect x="21" y="17" width="14" height="1" fill="#0a0a0a"/><rect x="0" y="18" width="1" height="1" fill="#0a0a0a"/><rect x="1" y="18" width="2" height="1" fill="#161616"/><rect x="3" y="18" width="6" height="1" fill="#0a0a0a"/><rect x="9" y="18" width="4" height="1" fill="#161616"/><rect x="13" y="18" width="7" height="1" fill="#0a0a0a"/><rect x="20" y="18" width="1" height="1" fill="#161616"/><rect x="21" y="18" width="5" height="1" fill="#0a0a0a"/><rect x="26" y="18" width="1" height="1" fill="#161616"/><rect x="27" y="18" width="8" height="1" fill="#0a0a0a"/><rect x="0" y="19" width="1" height="1" fill="#0a0a0a"/><rect x="1" y="19" width="4" height="1" fill="#161616"/><rect x="5" y="19" width="5" height="1" fill="#0a0a0a"/><rect x="10" y="19" width="3" height="1" fill="#161616"/><rect x="13" y="19" width="22" height="1" fill="#0a0a0a"/><rect x="0" y="20" width="1" height="1" fill="#0a0a0a"/><rect x="1" y="20" width="6" height="1" fill="#161616"/><rect x="7" y="20" width="4" height="1" fill="#0a0a0a"/><rect x="11" y="20" width="3" height="1" fill="#161616"/><rect x="14" y="20" width="4" height="1" fill="#0a0a0a"/><rect x="18" y="20" width="1" height="1" fill="#161616"/><rect x="19" y="20" width="5" height="1" fill="#0a0a0a"/><rect x="24" y="20" width="2" height="1" fill="#161616"/><rect x="26" y="20" width="4" height="1" fill="#0a0a0a"/><rect x="30" y="20" width="1" height="1" fill="#161616"/><rect x="31" y="20" width="4" height="1" fill="#0a0a0a"/><rect x="0" y="21" width="2" height="1" fill="#0a0a0a"/><rect x="2" y="21" width="2" height="1" fill="#161616"/><rect x="4" y="21" width="1" height="1" fill="#0a0a0a"/><rect x="5" y="21" width="3" height="1" fill="#161616"/><rect x="8" y="21" width="4" height="1" fill="#0a0a0a"/><rect x="12" y="21" width="3" height="1" fill="#161616"/><rect x="15" y="21" width="9" height="1" fill="#0a0a0a"/><rect x="24" y="21" width="1" height="1" fill="#161616"/><rect x="25" y="21" width="10" height="1" fill="#0a0a0a"/><rect x="0" y="22" width="2" height="1" fill="#0a0a0a"/><rect x="2" y="22" width="1" height="1" fill="#161616"/><rect x="3" y="22" width="3" height="1" fill="#0a0a0a"/><rect x="6" y="22" width="3" height="1" fill="#161616"/><rect x="9" y="22" width="3" height="1" fill="#0a0a0a"/><rect x="12" y="22" width="3" height="1" fill="#161616"/><rect x="15" y="22" width="7" height="1" fill="#0a0a0a"/><rect x="22" y="22" width="1" height="1" fill="#161616"/><rect x="23" y="22" width="12" height="1" fill="#0a0a0a"/><rect x="0" y="23" width="7" height="1" fill="#0a0a0a"/><rect x="7" y="23" width="2" height="1" fill="#161616"/><rect x="9" y="23" width="3" height="1" fill="#0a0a0a"/><rect x="12" y="23" width="3" height="1" fill="#161616"/><rect x="15" y="23" width="9" height="1" fill="#0a0a0a"/><rect x="24" y="23" width="1" height="1" fill="#161616"/><rect x="25" y="23" width="10" height="1" fill="#0a0a0a"/><rect x="0" y="24" width="8" height="1" fill="#0a0a0a"/><rect x="8" y="24" width="1" height="1" fill="#161616"/><rect x="9" y="24" width="5" height="1" fill="#0a0a0a"/><rect x="14" y="24" width="1" height="1" fill="#161616"/><rect x="15" y="24" width="3" height="1" fill="#0a0a0a"/><rect x="18" y="24" width="1" height="1" fill="#161616"/><rect x="19" y="24" width="5" height="1" fill="#0a0a0a"/><rect x="24" y="24" width="1" height="1" fill="#161616"/><rect x="25" y="24" width="3" height="1" fill="#0a0a0a"/><rect x="28" y="24" width="1" height="1" fill="#161616"/><rect x="29" y="24" width="3" height="1" fill="#0a0a0a"/><rect x="32" y="24" width="1" height="1" fill="#161616"/><rect x="33" y="24" width="2" height="1" fill="#0a0a0a"/><rect x="0" y="25" width="24" height="1" fill="#0a0a0a"/><rect x="24" y="25" width="1" height="1" fill="#161616"/><rect x="25" y="25" width="3" height="1" fill="#0a0a0a"/><rect x="28" y="25" width="1" height="1" fill="#161616"/><rect x="29" y="25" width="6" height="1" fill="#0a0a0a"/><rect x="0" y="26" width="1" height="1" fill="#161616"/><rect x="1" y="26" width="15" height="1" fill="#0a0a0a"/><rect x="16" y="26" width="1" height="1" fill="#161616"/><rect x="17" y="26" width="11" height="1" fill="#0a0a0a"/><rect x="28" y="26" width="3" height="1" fill="#161616"/><rect x="31" y="26" width="3" height="1" fill="#0a0a0a"/><rect x="34" y="26" width="1" height="1" fill="#161616"/><rect x="0" y="27" width="1" height="1" fill="#161616"/><rect x="1" y="27" width="26" height="1" fill="#0a0a0a"/><rect x="27" y="27" width="3" height="1" fill="#161616"/><rect x="30" y="27" width="5" height="1" fill="#0a0a0a"/><rect x="0" y="28" width="2" height="1" fill="#161616"/><rect x="2" y="28" width="2" height="1" fill="#0a0a0a"/><rect x="4" y="28" width="1" height="1" fill="#161616"/><rect x="5" y="28" width="9" height="1" fill="#0a0a0a"/><rect x="14" y="28" width="1" height="1" fill="#161616"/><rect x="15" y="28" width="11" height="1" fill="#0a0a0a"/><rect x="26" y="28" width="3" height="1" fill="#161616"/><rect x="29" y="28" width="3" height="1" fill="#0a0a0a"/><rect x="32" y="28" width="1" height="1" fill="#161616"/><rect x="33" y="28" width="2" height="1" fill="#0a0a0a"/><rect x="0" y="29" width="2" height="1" fill="#161616"/><rect x="2" y="29" width="2" height="1" fill="#0a0a0a"/><rect x="4" y="29" width="1" height="1" fill="#161616"/><rect x="5" y="29" width="20" height="1" fill="#0a0a0a"/><rect x="25" y="29" width="3" height="1" fill="#161616"/><rect x="28" y="29" width="7" height="1" fill="#0a0a0a"/><rect x="0" y="30" width="1" height="1" fill="#161616"/><rect x="1" y="30" width="3" height="1" fill="#0a0a0a"/><rect x="4" y="30" width="1" height="1" fill="#161616"/><rect x="5" y="30" width="4" height="1" fill="#0a0a0a"/><rect x="9" y="30" width="3" height="1" fill="#161616"/><rect x="12" y="30" width="10" height="1" fill="#0a0a0a"/><rect x="22" y="30" width="5" height="1" fill="#161616"/><rect x="27" y="30" width="7" height="1" fill="#0a0a0a"/><rect x="34" y="30" width="1" height="1" fill="#161616"/><rect x="0" y="31" width="10" height="1" fill="#0a0a0a"/><rect x="10" y="31" width="1" height="1" fill="#161616"/><rect x="11" y="31" width="23" height="1" fill="#0a0a0a"/><rect x="34" y="31" width="1" height="1" fill="#161616"/><rect x="0" y="32" width="6" height="1" fill="#0a0a0a"/><rect x="6" y="32" width="1" height="1" fill="#161616"/><rect x="7" y="32" width="3" height="1" fill="#0a0a0a"/><rect x="10" y="32" width="1" height="1" fill="#161616"/><rect x="11" y="32" width="5" height="1" fill="#0a0a0a"/><rect x="16" y="32" width="1" height="1" fill="#161616"/><rect x="17" y="32" width="18" height="1" fill="#0a0a0a"/></svg></div><div class="s" style="left:36px;width:8px;height:33px"><u style="top:10.5px">UVs</u></div></div>
<div class="c" style="left:476px;top:754px;background:#000"></div>
<div class="c" style="left:476px;top:759px;background:#f00"></div>
<div class="c" style="left:476px;top:764px;background:#0f0"></div>
<div class="c" style="left:476px;top:769px;background:#00f"></div>
<div class="c" style="left:476px;top:774px;background:#fff"></div>
<div class="c" style="left:525px;top:764px"></div>
<div class="n" style="left:538px;top:690px;width:40px;height:44px"><div class="t" style="width:38px"><i class="ic"></i><b>Panner</b></div><div class="p" style="width:35px;height:34px;background:linear-gradient(135deg,#18f018,#30f020 60%,#80f020)"><i class="pl" style="top:1px">Coordinate</i><i class="pl" style="top:8px">Time</i></div><div class="s" style="left:36px;width:3px;height:34px"><u style="top:1.5px"></u><u style="top:8.5px"></u></div></div>
<div class="c" style="left:534px;top:705px;background:#000"></div>
<div class="c" style="left:578px;top:702px"></div>
<div class="c" style="left:578px;top:709px"></div>
<div class="n" style="left:539px;top:743px;width:40px;height:43px"><div class="t" style="width:38px"><i class="ic"></i><b>Panner</b></div><div class="p" style="width:36px;height:33px;background:linear-gradient(to right,#b02000,#ff2000),linear-gradient(to bottom,#000,#a09000);background-blend-mode:screen"><i class="pl" style="top:1px">Coordinate</i><i class="pl" style="top:8px">Time</i></div><div class="s" style="left:37px;width:2px;height:33px"><u style="top:1.5px"></u><u style="top:8.5px"></u></div></div>
<div class="c" style="left:535px;top:758px;background:#000"></div>
<div class="c" style="left:579px;top:755px"></div>
<div class="c" style="left:579px;top:762px"></div>
<div class="n" style="left:591px;top:691px;width:40px;height:43px"><div class="t" style="width:38px"><i class="ic"></i><b>TexCoord</b></div><div class="p" style="width:35px;height:33px;background:linear-gradient(to right,#000,#880000),linear-gradient(to bottom,#000,#008800);background-blend-mode:screen"></div><div class="s" style="left:36px;width:3px;height:33px"></div></div>
<div class="c" style="left:587px;top:701px;background:#000"></div>
<div class="n" style="left:592px;top:744px;width:40px;height:43px"><div class="t" style="width:38px"><i class="ic"></i><b>TexCoord</b></div><div class="p" style="width:35px;height:33px;background:linear-gradient(to right,#000,#880000),linear-gradient(to bottom,#000,#008800);background-blend-mode:screen"></div><div class="s" style="left:36px;width:3px;height:33px"></div></div>
<div class="c" style="left:588px;top:755.5px;background:#000"></div>
<div class="mn" style="left:24px;top:237px;width:47px;height:103px"><div class="mt">PreviewMaterial_0</div><div class="ml" style="top:9.60px">Diffuse</div><div class="ml" style="top:17.87px">Emissive</div><div class="ml" style="top:26.14px">Specular</div><div class="ml" style="top:34.41px">SpecularPower</div><div class="ml" style="top:42.68px">Opacity</div><div class="ml" style="top:50.95px">OpacityMask</div><div class="ml" style="top:59.22px">Distortion</div><div class="ml" style="top:67.49px">TransmissionMask</div><div class="ml" style="top:75.76px">TransmissionColor</div><div class="ml" style="top:84.03px">Normal</div><div class="ml" style="top:92.30px">CustomLighting</div></div>
<div class="c" style="left:71px;top:250.0px;background:#000"></div>
<div class="c" style="left:71px;top:258.3px;background:#ffff00"></div>
<div class="c" style="left:71px;top:266.5px;background:#000"></div>
<div class="c" style="left:71px;top:274.8px;background:#000"></div>
<div class="c" style="left:71px;top:283.1px;background:#000"></div>
<div class="c" style="left:71px;top:291.4px;background:#000"></div>
<div class="c" style="left:71px;top:299.6px;background:#000"></div>
<div class="c" style="left:71px;top:307.9px;background:#000"></div>
<div class="c" style="left:71px;top:316.2px;background:#000"></div>
<div class="c" style="left:71px;top:324.4px;background:#000"></div>
<div class="c" style="left:71px;top:332.7px;background:#000"></div>
<svg class="w" width="853" height="808" viewBox="0 0 853 808"><path d="M75.0 251.3 C147.1 251.3 219.2 -46.2 291.3 -46.2" fill="none" stroke="#000" stroke-width="1" shape-rendering="crispEdges"/><path d="M75.0 259.6 C96.7 259.6 118.3 344.0 140.0 344.0" fill="none" stroke="#ff8000" stroke-width="1" shape-rendering="crispEdges"/><path d="M75.0 267.8 C108.4 267.8 141.8 -201.2 175.2 -201.2" fill="none" stroke="#000" stroke-width="1" shape-rendering="crispEdges"/><path d="M75.0 292.6 C148.0 292.6 221.0 521.5 294.0 521.5" fill="none" stroke="#000" stroke-width="1" shape-rendering="crispEdges"/><path d="M75.0 325.7 C146.5 325.7 217.9 861.2 289.4 861.2" fill="none" stroke="#000" stroke-width="1" shape-rendering="crispEdges"/><path d="M245.0 303.0 C259.7 303.0 274.3 121.5 289.0 121.5" fill="none" stroke="#000" stroke-width="1" shape-rendering="crispEdges"/><path d="M245.0 310.0 C257.3 310.0 269.7 363.0 282.0 363.0" fill="none" stroke="#000" stroke-width="1" shape-rendering="crispEdges"/><path d="M188.0 339.0 C191.0 339.0 194.0 306.0 197.0 306.0" fill="none" stroke="#000" stroke-width="1" shape-rendering="crispEdges"/><path d="M188.0 346.0 C220.0 346.0 252.0 708.0 284.0 708.0" fill="none" stroke="#000" stroke-width="1" shape-rendering="crispEdges"/><path d="M337.0 117.5 C342.3 117.5 347.7 95.5 353.0 95.5" fill="none" stroke="#000" stroke-width="1" shape-rendering="crispEdges"/><path d="M337.0 125.5 C342.7 125.5 348.3 148.5 354.0 148.5" fill="none" stroke="#000" stroke-width="1" shape-rendering="crispEdges"/><path d="M401.0 91.5 C427.7 91.5 454.3 39.0 481.0 39.0" fill="none" stroke="#000" stroke-width="1" shape-rendering="crispEdges"/><path d="M401.0 99.5 C427.0 99.5 453.0 89.5 479.0 89.5" fill="none" stroke="#000" stroke-width="1" shape-rendering="crispEdges"/><path d="M402.0 144.5 C408.0 144.5 414.0 119.5 420.0 119.5" fill="none" stroke="#000" stroke-width="1" shape-rendering="crispEdges"/><path d="M402.0 152.5 C408.0 152.5 414.0 172.0 420.0 172.0" fill="none" stroke="#000" stroke-width="1" shape-rendering="crispEdges"/><path d="M468.0 168.0 C474.0 168.0 480.0 154.5 486.0 154.5" fill="none" stroke="#000" stroke-width="1" shape-rendering="crispEdges"/><path d="M468.0 176.0 C474.0 176.0 480.0 206.5 486.0 206.5" fill="none" stroke="#000" stroke-width="1" shape-rendering="crispEdges"/><path d="M539.0 165.0 C543.3 165.0 547.7 160.5 552.0 160.5" fill="none" stroke="#000" stroke-width="1" shape-rendering="crispEdges"/><path d="M600.0 156.5 C606.3 156.5 612.7 162.5 619.0 162.5" fill="none" stroke="#000" stroke-width="1" shape-rendering="crispEdges"/><path d="M667.0 159.5 C671.3 159.5 675.7 100.5 680.0 100.5" fill="none" stroke="#000" stroke-width="1" shape-rendering="crispEdges"/><path d="M667.0 166.5 C674.7 166.5 682.3 161.0 690.0 161.0" fill="none" stroke="#000" stroke-width="1" shape-rendering="crispEdges"/><path d="M330.0 359.5 C333.3 359.5 336.7 308.0 340.0 308.0" fill="none" stroke="#000" stroke-width="1" shape-rendering="crispEdges"/><path d="M330.0 367.0 C333.7 367.0 337.3 358.5 341.0 358.5" fill="none" stroke="#000" stroke-width="1" shape-rendering="crispEdges"/><path d="M388.0 304.5 C390.0 304.5 392.0 301.0 394.0 301.0" fill="none" stroke="#000" stroke-width="1" shape-rendering="crispEdges"/><path d="M388.0 312.0 C485.7 312.0 583.3 520.0 681.0 520.0" fill="none" stroke="#000" stroke-width="1" shape-rendering="crispEdges"/><path d="M449.0 361.0 C452.0 361.0 455.0 361.5 458.0 361.5" fill="none" stroke="#000" stroke-width="1" shape-rendering="crispEdges"/><path d="M449.0 369.0 C476.0 369.0 341.0 521.5 368.0 521.5" fill="none" stroke="#000" stroke-width="1" shape-rendering="crispEdges"/><path d="M394.0 369.0 C402.7 369.0 359.3 521.5 368.0 521.5" fill="none" stroke="#000" stroke-width="1" shape-rendering="crispEdges"/><path d="M347.0 526.5 C354.0 526.5 361.0 521.5 368.0 521.5" fill="none" stroke="#000" stroke-width="1" shape-rendering="crispEdges"/><path d="M416.0 517.0 C419.0 517.0 422.0 491.0 425.0 491.0" fill="none" stroke="#000" stroke-width="1" shape-rendering="crispEdges"/><path d="M416.0 524.5 C419.0 524.5 422.0 560.0 425.0 560.0" fill="none" stroke="#000" stroke-width="1" shape-rendering="crispEdges"/><path d="M473.0 487.0 C475.7 487.0 478.3 441.5 481.0 441.5" fill="none" stroke="#000" stroke-width="1" shape-rendering="crispEdges"/><path d="M473.0 495.0 C475.3 495.0 477.7 492.5 480.0 492.5" fill="none" stroke="#000" stroke-width="1" shape-rendering="crispEdges"/><path d="M473.0 556.0 C475.7 556.0 478.3 549.5 481.0 549.5" fill="none" stroke="#000" stroke-width="1" shape-rendering="crispEdges"/><path d="M473.0 564.0 C475.7 564.0 478.3 599.5 481.0 599.5" fill="none" stroke="#000" stroke-width="1" shape-rendering="crispEdges"/><path d="M529.0 600.0 C578.3 600.0 627.7 449.5 677.0 449.5" fill="none" stroke="#000" stroke-width="1" shape-rendering="crispEdges"/><path d="M332.0 704.5 C447.0 704.5 562.0 449.5 677.0 449.5" fill="none" stroke="#000" stroke-width="1" shape-rendering="crispEdges"/><path d="M332.0 712.5 C338.3 712.5 344.7 712.0 351.0 712.0" fill="none" stroke="#000" stroke-width="1" shape-rendering="crispEdges"/><path d="M399.0 708.5 C405.0 708.5 411.0 703.5 417.0 703.5" fill="none" stroke="#000" stroke-width="1" shape-rendering="crispEdges"/><path d="M399.0 715.5 C405.3 715.5 411.7 759.5 418.0 759.5" fill="none" stroke="#000" stroke-width="1" shape-rendering="crispEdges"/><path d="M465.0 700.5 C537.0 700.5 609.0 520.0 681.0 520.0" fill="none" stroke="#000" stroke-width="1" shape-rendering="crispEdges"/><path d="M465.0 707.5 C468.7 707.5 472.3 700.0 476.0 700.0" fill="none" stroke="#000" stroke-width="1" shape-rendering="crispEdges"/><path d="M466.0 755.0 C537.7 755.0 609.3 520.0 681.0 520.0" fill="none" stroke="#000" stroke-width="1" shape-rendering="crispEdges"/><path d="M466.0 763.0 C469.3 763.0 472.7 755.0 476.0 755.0" fill="none" stroke="#000" stroke-width="1" shape-rendering="crispEdges"/><path d="M529.0 710.0 C530.7 710.0 532.3 706.5 534.0 706.5" fill="none" stroke="#000" stroke-width="1" shape-rendering="crispEdges"/><path d="M529.0 765.0 C531.0 765.0 533.0 759.0 535.0 759.0" fill="none" stroke="#000" stroke-width="1" shape-rendering="crispEdges"/><path d="M582.0 702.0 C583.7 702.0 585.3 702.5 587.0 702.5" fill="none" stroke="#000" stroke-width="1" shape-rendering="crispEdges"/><path d="M583.0 757.0 C584.7 757.0 586.3 757.0 588.0 757.0" fill="none" stroke="#000" stroke-width="1" shape-rendering="crispEdges"/></svg>
<div class="ins">122 instructions</div>
</div></body></html>
